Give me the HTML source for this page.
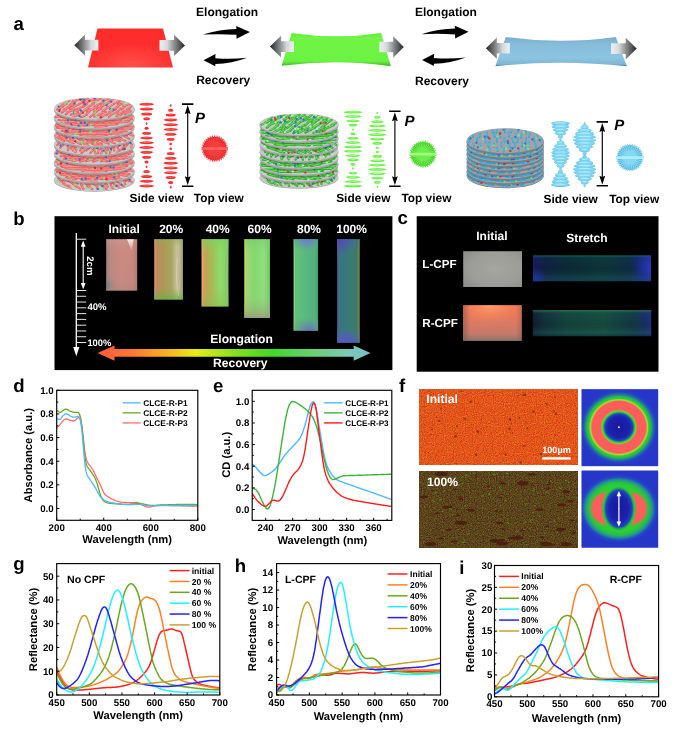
<!DOCTYPE html>
<html lang="en"><head><meta charset="utf-8"><title>Figure</title>
<style>html,body{margin:0;padding:0;background:#fff}body{width:681px;height:732px;overflow:hidden}svg text{white-space:pre;text-rendering:geometricPrecision}</style></head>
<body>
<svg width="681" height="732" viewBox="0 0 681 732" style="display:block">
<rect width="681" height="732" fill="#fff"/>
<radialGradient id="gRed" cx="0.5" cy="0.95" r="0.6"><stop offset="0" stop-color="#ff5048"/><stop offset="1" stop-color="#ff2c2c"/></radialGradient>
<path d="M97.5,28.6 L163,28.6 L173,67.4 L88,67.4Z" fill="url(#gRed)"/>
<linearGradient id="ga1" gradientUnits="userSpaceOnUse" x1="74.3" y1="0" x2="98.4" y2="0"><stop offset="0" stop-color="#222"/><stop offset="0.22" stop-color="#5c5c5c"/><stop offset="0.45" stop-color="#929496"/><stop offset="0.7" stop-color="#d6d8da"/><stop offset="1" stop-color="#eef2f4"/></linearGradient><path d="M74.3,45.2 L85,34.6 L85,39.8 L98.4,39.8 L98.4,50.6 L85,50.6 L85,55.8Z" fill="url(#ga1)"/>
<linearGradient id="ga2" gradientUnits="userSpaceOnUse" x1="185" y1="0" x2="159.5" y2="0"><stop offset="0" stop-color="#222"/><stop offset="0.22" stop-color="#5c5c5c"/><stop offset="0.45" stop-color="#929496"/><stop offset="0.7" stop-color="#d6d8da"/><stop offset="1" stop-color="#eef2f4"/></linearGradient><path d="M185,45.4 L174,34.8 L174,40 L159.5,40 L159.5,50.8 L174,50.8 L174,56Z" fill="url(#ga2)"/>
<linearGradient id="gGrn" x1="0" y1="0" x2="0" y2="1"><stop offset="0" stop-color="#63e83a"/><stop offset="0.15" stop-color="#70f545"/><stop offset="0.85" stop-color="#6cf242"/><stop offset="1" stop-color="#3fae22"/></linearGradient>
<path d="M291.7,32.9 Q336,39.8 381,32.9 L390.9,66.2 Q336,58.5 281.6,65.8Z" fill="url(#gGrn)"/>
<linearGradient id="ga3" gradientUnits="userSpaceOnUse" x1="269.9" y1="0" x2="294" y2="0"><stop offset="0" stop-color="#222"/><stop offset="0.22" stop-color="#5c5c5c"/><stop offset="0.45" stop-color="#929496"/><stop offset="0.7" stop-color="#d6d8da"/><stop offset="1" stop-color="#eef2f4"/></linearGradient><path d="M269.9,46.6 L281.1,35.8 L281.1,41.3 L294,41.3 L294,51.9 L281.1,51.9 L281.1,57.4Z" fill="url(#ga3)"/>
<linearGradient id="ga4" gradientUnits="userSpaceOnUse" x1="403.8" y1="0" x2="379.4" y2="0"><stop offset="0" stop-color="#222"/><stop offset="0.22" stop-color="#5c5c5c"/><stop offset="0.45" stop-color="#929496"/><stop offset="0.7" stop-color="#d6d8da"/><stop offset="1" stop-color="#eef2f4"/></linearGradient><path d="M403.8,47 L393.2,36.2 L393.2,41.7 L379.4,41.7 L379.4,52.3 L393.2,52.3 L393.2,57.8Z" fill="url(#ga4)"/>
<linearGradient id="gBlu" x1="0" y1="0" x2="0" y2="1"><stop offset="0" stop-color="#78acca"/><stop offset="0.25" stop-color="#86bcda"/><stop offset="0.7" stop-color="#8cc4e2"/><stop offset="0.93" stop-color="#7fb6d4"/><stop offset="1" stop-color="#3f6f86"/></linearGradient>
<path d="M505.8,36.9 Q560,44.6 615.8,36.9 L626.9,66.3 Q560,59.2 495.3,66.3Z" fill="url(#gBlu)"/>
<linearGradient id="ga5" gradientUnits="userSpaceOnUse" x1="485.9" y1="0" x2="509.8" y2="0"><stop offset="0" stop-color="#222"/><stop offset="0.22" stop-color="#5c5c5c"/><stop offset="0.45" stop-color="#929496"/><stop offset="0.7" stop-color="#d6d8da"/><stop offset="1" stop-color="#eef2f4"/></linearGradient><path d="M485.9,48.3 L496.9,37.5 L496.9,43 L509.8,43 L509.8,53.6 L496.9,53.6 L496.9,59.1Z" fill="url(#ga5)"/>
<linearGradient id="ga6" gradientUnits="userSpaceOnUse" x1="636.7" y1="0" x2="611.1" y2="0"><stop offset="0" stop-color="#222"/><stop offset="0.22" stop-color="#5c5c5c"/><stop offset="0.45" stop-color="#929496"/><stop offset="0.7" stop-color="#d6d8da"/><stop offset="1" stop-color="#eef2f4"/></linearGradient><path d="M636.7,48.6 L625.7,37.8 L625.7,43.3 L611.1,43.3 L611.1,53.9 L625.7,53.9 L625.7,59.4Z" fill="url(#ga6)"/>
<g transform="translate(0,0)" fill="#000"><path d="M202.7,34.6 Q220,29.2 236.4,28.9 L236.2,26.1 L249.9,32.1 L236.6,38.8 L236.4,34.8 Q220,33.6 202.7,34.6Z"/><path d="M247,57.7 Q232,59.6 215.3,58.3 L215.5,54.1 L203.5,60.3 L215.3,66.2 L215.3,64.0 Q232,63.6 247,57.7Z"/></g>
<g transform="translate(218.6,-0.3)" fill="#000"><path d="M202.7,34.6 Q220,29.2 236.4,28.9 L236.2,26.1 L249.9,32.1 L236.6,38.8 L236.4,34.8 Q220,33.6 202.7,34.6Z"/><path d="M247,57.7 Q232,59.6 215.3,58.3 L215.5,54.1 L203.5,60.3 L215.3,66.2 L215.3,64.0 Q232,63.6 247,57.7Z"/></g>
<g font-family="'Liberation Sans', Arial, sans-serif" font-weight="bold" font-size="12" fill="#000">
<text x="196.1" y="16.3">Elongation</text><text x="196.2" y="84.4">Recovery</text>
<text x="414.9" y="15.8">Elongation</text><text x="415" y="84.8">Recovery</text>
</g>
<clipPath id="sk1"><ellipse cx="94.3" cy="180" rx="39.7" ry="10.5"/></clipPath>
<ellipse cx="94.3" cy="180.7" rx="40.5" ry="11" fill="#a6a6a6"/>
<ellipse cx="94.3" cy="180" rx="40.5" ry="11" fill="#c9c9c9"/>
<g clip-path="url(#sk1)" fill="none" stroke-linecap="round">
<path d="M63.7,178.3l-4.1,-3.2M61.2,181.5l-2.6,-3.3M64.8,183.9l-2,-3.3M67.9,181l-5.2,-3.1M73,183.7l-4.7,-3.1M68.1,186.3l-5.1,-3.1M71,189l-1.9,-3.3M77.7,183.5l-3.4,-3.2M76.6,186.5l-4.4,-3.1M80.1,188.7l-4.6,-3.1M85.6,183.5l-3.5,-3.2M81.6,186l-0.6,-3.4M83.4,189.2l-1.3,-3.3M89.7,184.1l-0.7,-3.4M89.9,186.7l-3.3,-3.2M92.4,189.1l-5.2,-3.1M101.5,183.5l-4.8,-3.1M97.5,186.2l-5.3,-3M97.5,189.2l-1,-3.4M105.3,183.8l-1.7,-3.3M102.5,186.1l-4.8,-3.1M106.4,189.3l-2.8,-3.3M111,183.9l-0.7,-3.4M107.8,186.8l-2,-3.3M113.1,188.9l-2.1,-3.3M116.1,181l-2.2,-3.3M120.7,183.9l-4.8,-3.1M116.3,186.2l-3.2,-3.3M119.9,189.1l-1.8,-3.3M126.8,178.2l-3.1,-3.3M126,180.9l-4.8,-3.1M125.1,184.1l-0.7,-3.4M124,186.6l-4.4,-3.1M128.6,181.1l-1.2,-3.4M134,183.5l-4.6,-3.1" stroke="#ec6666" stroke-width="2.2"/>
<path d="M62.9,177.4l-2.4,-1.9M60.7,180.5l-1.6,-2M64.4,182.9l-1.2,-2M66.9,180.1l-3.1,-1.8M72,182.8l-2.8,-1.9M67,185.3l-3.1,-1.8M70.6,188l-1.1,-2M77,182.5l-2,-1.9M75.7,185.6l-2.6,-1.9M79.1,187.8l-2.8,-1.9M84.9,182.5l-2.1,-1.9M81.4,185l-0.4,-2M83.1,188.2l-0.8,-2M89.5,183.1l-0.4,-2M89.3,185.8l-2,-1.9M91.4,188.2l-3.1,-1.8M100.5,182.6l-2.9,-1.9M96.4,185.3l-3.2,-1.8M97.3,188.2l-0.6,-2M104.9,182.9l-1,-2M101.5,185.2l-2.9,-1.9M105.8,188.4l-1.7,-2M110.8,182.9l-0.4,-2M107.4,185.8l-1.2,-2M112.7,188l-1.3,-2M115.6,180l-1.3,-2M119.7,183l-2.9,-1.9M115.7,185.3l-1.9,-2M119.6,188.1l-1.1,-2M126.2,177.3l-1.8,-2M125,180l-2.9,-1.9M124.9,183.2l-0.4,-2M123.1,185.7l-2.7,-1.9M128.4,180.1l-0.7,-2M133,182.6l-2.7,-1.9" stroke="#f59a98" stroke-width="0.88"/>
<path d="M129.7,179.8h0M102.4,186.2h0M116.7,185.7h0M121.7,184.8h0M97.8,188.9h0" stroke="#3a6ec8" stroke-width="2.3"/>
<path d="M99.7,184.6h0M120.9,180.1h0M103.3,189h0M90.1,188.1h0M86.4,187.8h0M74.9,184.4h0M114.1,186.2h0M57.7,180.6h0" stroke="#7fe07f" stroke-width="2.3"/>
</g>
<clipPath id="sk2"><ellipse cx="94.3" cy="171.05" rx="39.7" ry="10.5"/></clipPath>
<ellipse cx="94.3" cy="174.25" rx="40" ry="11" fill="#000" opacity="0.16"/>
<ellipse cx="94.3" cy="172.55" rx="40.5" ry="11" fill="#a6a6a6"/>
<ellipse cx="94.3" cy="171.05" rx="40.5" ry="11" fill="#c9c9c9"/>
<g clip-path="url(#sk2)" fill="none" stroke-linecap="round">
<path d="M66.4,171.1l-11.2,-1.4M67.5,173.6l-10.6,-1.7M69.7,171.8l-9.3,-2.2M73.8,174.3l-9.2,-2.3M71.1,176.3l-10.6,-1.8M76,179.5l-9.9,-2M81.4,173.7l-10.7,-1.7M79.5,176.8l-10.3,-1.9M83.7,178.8l-11.2,-1.5M88.3,174.4l-9.3,-2.2M85.2,176.6l-9.2,-2.3M88.4,179.2l-10.7,-1.7M97,174.1l-10.2,-1.9M91.8,176.3l-10.5,-1.8M95.3,178.9l-10.1,-1.9M92.9,181.4l-11.1,-1.5M103.2,174.1l-10.6,-1.7M98.7,177.3l-8.6,-2.4M102.7,179.2l-11.2,-1.4M97.4,181.9l-8.7,-2.4M110.5,173.9l-9.3,-2.2M106.8,176.6l-9.7,-2.1M108,179.7l-8.7,-2.4M115.9,173.8l-10.8,-1.6M113.1,176.8l-9.5,-2.2M116.2,179.6l-10.1,-2M120.2,171.8l-10.8,-1.6M123.6,173.9l-10.3,-1.9M119.1,177l-8.5,-2.5M122.5,179.3l-8.9,-2.4M130.3,169.3l-9.2,-2.3M126.9,171.3l-11.1,-1.5M129.8,174.2l-9.6,-2.1M128.5,176.5l-10,-2M135.8,171.4l-11.3,-1.4" stroke="#ec6666" stroke-width="2.2"/>
<path d="M64.1,170.5l-6.7,-0.9M65.4,173l-6.4,-1M67.9,171l-5.6,-1.3M72,173.6l-5.5,-1.4M69,175.6l-6.3,-1.1M74,178.8l-6,-1.2M79.3,173l-6.4,-1M77.5,176.1l-6.2,-1.1M81.4,178.2l-6.7,-0.9M86.4,173.7l-5.6,-1.3M83.4,175.9l-5.5,-1.4M86.2,178.5l-6.4,-1M95,173.5l-6.1,-1.1M89.7,175.7l-6.3,-1.1M93.3,178.3l-6.1,-1.2M90.7,180.8l-6.7,-0.9M101.1,173.4l-6.4,-1M97,176.5l-5.2,-1.4M100.5,178.6l-6.7,-0.9M95.6,181.1l-5.2,-1.4M108.7,173.2l-5.6,-1.3M104.9,175.9l-5.8,-1.3M106.3,178.9l-5.2,-1.4M113.7,173.2l-6.5,-1M111.2,176l-5.7,-1.3M114.1,178.9l-6.1,-1.2M118.1,171.1l-6.5,-1M121.5,173.3l-6.2,-1.1M117.4,176.2l-5.1,-1.5M120.7,178.6l-5.3,-1.4M128.5,168.6l-5.5,-1.4M124.7,170.7l-6.6,-0.9M127.9,173.5l-5.8,-1.3M126.5,175.8l-6,-1.2M133.5,170.8l-6.8,-0.8" stroke="#f59a98" stroke-width="0.88"/>
<path d="M81.7,178.9h0M85.6,178.7h0M97.1,178h0M114.3,177.4h0" stroke="#3a6ec8" stroke-width="2.3"/>
<path d="M92.7,179.7h0M59.4,173.4h0M112.4,174h0M69.6,176.6h0M116.4,173.9h0M90.2,174.1h0M103.8,177.8h0" stroke="#7fe07f" stroke-width="2.3"/>
<path d="M106.4,179.2h0M60.1,172.9h0" stroke="#c53030" stroke-width="2.3"/>
</g>
<clipPath id="sk3"><ellipse cx="94.3" cy="162.1" rx="39.7" ry="10.5"/></clipPath>
<ellipse cx="94.3" cy="165.3" rx="40" ry="11" fill="#000" opacity="0.16"/>
<ellipse cx="94.3" cy="163.6" rx="40.5" ry="11" fill="#a6a6a6"/>
<ellipse cx="94.3" cy="162.1" rx="40.5" ry="11" fill="#c9c9c9"/>
<g clip-path="url(#sk3)" fill="none" stroke-linecap="round">
<path d="M69.1,158.8l-12.3,0.4M64.8,161.2l-12.2,0.6M70,164.5l-12.4,-0.1M71.8,160.8l-12.1,0.8M77.2,163.5l-12,0.8M73.4,167.1l-12.4,-0.3M77.3,169.4l-12.3,-0.3M83.2,164.3l-12.4,0.2M79.7,166.8l-12.4,0.2M81.9,168.9l-12.3,0.3M88.5,163.9l-12.3,0.5M85.8,166.7l-12.4,0.1M89.8,168.8l-12.2,0.6M96.1,163.9l-12.1,0.8M94.7,166.8l-12.4,0.1M96.6,169.6l-12.4,0M94.4,171.6l-12.3,0.4M103.6,164.1l-12.3,0.5M101.8,166.7l-12.4,0.1M102.9,169.5l-12.4,-0.1M99.4,171.6l-12.4,0.1M109.9,163.7l-12.3,0.5M106.2,166.7l-12.3,0.3M109.9,169.5l-12.3,-0.4M106.6,172l-12.3,-0.4M118.1,164.2l-12.2,0.6M114.8,166.9l-12.2,0.6M118.1,169.3l-12.3,0.5M121.6,161.8l-12.4,-0.1M123.8,163.9l-12.3,0.5M120.2,167.3l-12.4,-0.2M125.5,169l-12.4,0.1M130.5,159l-12.3,0.4M127.3,161.4l-12.4,0.2M132.3,163.5l-12.2,0.6M127.3,166.1l-12,0.8M134.5,161.6l-12.3,0.3" stroke="#ec6666" stroke-width="2.2"/>
<path d="M66.7,158.6l-7.4,0.3M62.4,161l-7.3,0.4M67.5,164.2l-7.4,-0.1M69.4,160.7l-7.3,0.5M74.8,163.4l-7.2,0.5M70.9,166.8l-7.4,-0.2M74.8,169l-7.4,-0.2M80.7,164.1l-7.4,0.1M77.3,166.6l-7.4,0.1M79.4,168.7l-7.4,0.2M86.1,163.7l-7.4,0.3M83.3,166.4l-7.4,0.1M87.3,168.6l-7.3,0.4M93.7,163.8l-7.2,0.5M92.3,166.6l-7.4,0.1M94.1,169.3l-7.4,0M91.9,171.4l-7.4,0.2M101.1,163.9l-7.4,0.3M99.3,166.4l-7.4,0.1M100.4,169.1l-7.4,-0M96.9,171.3l-7.4,0.1M107.5,163.5l-7.4,0.3M103.7,166.5l-7.4,0.2M107.5,169.1l-7.4,-0.2M104.1,171.6l-7.4,-0.2M115.6,164l-7.3,0.4M112.4,166.7l-7.3,0.4M115.6,169.1l-7.4,0.3M119.1,161.5l-7.4,-0.1M121.4,163.7l-7.4,0.3M117.8,166.9l-7.4,-0.1M123,168.7l-7.4,0.1M128.1,158.8l-7.4,0.2M124.8,161.1l-7.4,0.1M129.8,163.4l-7.3,0.4M124.9,166l-7.2,0.5M132,161.3l-7.4,0.2" stroke="#f59a98" stroke-width="0.88"/>
<path d="M62.9,159.2h0M113.5,167.5h0M126.6,162.2h0M67.1,163h0M110.5,166.9h0" stroke="#3a6ec8" stroke-width="2.3"/>
<path d="M120.6,164.4h0M116.7,162.9h0M58.6,161.9h0M104.9,163h0M121.4,163.6h0" stroke="#7fe07f" stroke-width="2.3"/>
<path d="M101.2,168.6h0M60.9,163.5h0M95,168h0" stroke="#c53030" stroke-width="2.3"/>
</g>
<clipPath id="sk4"><ellipse cx="94.3" cy="153.15" rx="39.7" ry="10.5"/></clipPath>
<ellipse cx="94.3" cy="156.35" rx="40" ry="11" fill="#000" opacity="0.16"/>
<ellipse cx="94.3" cy="154.65" rx="40.5" ry="11" fill="#a6a6a6"/>
<ellipse cx="94.3" cy="153.15" rx="40.5" ry="11" fill="#c9c9c9"/>
<g clip-path="url(#sk4)" fill="none" stroke-linecap="round">
<path d="M66.7,149.1l-10.1,1.9M63.8,151.5l-10.3,1.9M67.8,153.7l-7.2,2.7M71.4,151.3l-10.4,1.8M72.8,154.1l-8.3,2.5M71.7,156.5l-8.2,2.5M73.9,159l-9.2,2.3M75.7,151.3l-7.5,2.7M80.1,153.9l-8.2,2.5M78.8,156.8l-8.5,2.5M80.7,159.2l-8.4,2.5M88.9,154.1l-8.7,2.4M84.5,156.6l-9.2,2.3M87.7,159.1l-7.6,2.7M95.9,154.3l-9.6,2.1M92.7,156.8l-10.4,1.8M94.7,159l-8.9,2.3M101.3,154l-9.9,2M98.6,156.9l-9.7,2.1M100.7,158.9l-7.5,2.7M110.2,153.9l-9.9,2M105.6,156.2l-7.2,2.7M110.5,159.2l-9.6,2.1M117.1,154.3l-8,2.6M112.6,156.7l-9.4,2.2M116.7,159.5l-10.4,1.8M123,154.4l-8.1,2.5M118,156.4l-7.2,2.7M124.9,151.2l-7.5,2.7M129.5,154l-9.5,2.2M126.7,157l-8.8,2.4M132.7,151.4l-7.7,2.6M132.3,156.6l-9,2.3" stroke="#ec6666" stroke-width="2.2"/>
<path d="M64.7,149.2l-6.1,1.2M61.7,151.5l-6.2,1.1M66.3,154l-4.3,1.6M69.3,151.4l-6.2,1.1M71.1,154.3l-5,1.5M70.1,156.8l-4.9,1.5M72.1,159.1l-5.5,1.4M74.2,151.5l-4.5,1.6M78.5,154.2l-4.9,1.5M77.1,157l-5.1,1.5M79,159.4l-5,1.5M87.2,154.2l-5.2,1.4M82.7,156.7l-5.5,1.4M86.1,159.3l-4.5,1.6M94,154.4l-5.8,1.3M90.6,156.8l-6.3,1.1M92.9,159.1l-5.4,1.4M99.3,154.1l-5.9,1.2M96.6,157l-5.8,1.3M99.2,159.1l-4.5,1.6M108.3,154l-5.9,1.2M104.2,156.4l-4.3,1.6M108.6,159.3l-5.8,1.3M115.5,154.5l-4.8,1.5M110.7,156.9l-5.6,1.3M114.6,159.6l-6.2,1.1M121.3,154.6l-4.9,1.5M116.5,156.6l-4.3,1.6M123.4,151.4l-4.5,1.6M127.6,154.1l-5.7,1.3M125,157.2l-5.3,1.4M131.1,151.6l-4.6,1.6M130.6,156.7l-5.4,1.4" stroke="#f59a98" stroke-width="0.88"/>
<path d="M109.7,161.1h0M56.8,153.5h0M65.9,158.7h0M79.6,159.5h0M106.2,157.3h0M124.1,151.3h0M96,154.3h0M69.2,154.4h0" stroke="#3a6ec8" stroke-width="2.3"/>
<path d="M99.5,160.2h0M92.8,156.5h0M73.8,160.2h0M89.9,159.4h0" stroke="#7fe07f" stroke-width="2.3"/>
<path d="M59.3,149.5h0" stroke="#c53030" stroke-width="2.3"/>
</g>
<clipPath id="sk5"><ellipse cx="94.3" cy="144.2" rx="39.7" ry="10.5"/></clipPath>
<ellipse cx="94.3" cy="147.4" rx="40" ry="11" fill="#000" opacity="0.16"/>
<ellipse cx="94.3" cy="145.7" rx="40.5" ry="11" fill="#a6a6a6"/>
<ellipse cx="94.3" cy="144.2" rx="40.5" ry="11" fill="#c9c9c9"/>
<g clip-path="url(#sk5)" fill="none" stroke-linecap="round">
<path d="M63,139.3l0.4,3.4M60.1,141.7l-2.9,3.3M63.3,144.4l-3.1,3.3M67.1,141.8l0.7,3.4M72.4,145l-2.2,3.3M67.8,147.1l0.1,3.4M75,142.4l-1.2,3.4M77.5,145l-2.8,3.3M71.8,147.3l1,3.4M76.3,149.8l-1.2,3.4M83.1,144.4l-0.4,3.4M82.3,147.4l-2.3,3.3M84.8,149.9l-3.4,3.2M92.1,144.3l-2.9,3.3M90,147.3l-3.5,3.2M93.4,149.7l-3.1,3.3M98.6,144.3l-1.1,3.4M94.1,146.9l0.4,3.4M98.8,149.8l-0.8,3.4M95.1,152.2l1.2,3.4M104.9,144.2l0.7,3.4M100.9,147l0.7,3.4M105.4,150.1l0.9,3.4M101.7,152.1l-1.2,3.4M114.8,145l-3.1,3.3M109.1,146.9l-1.5,3.3M110.9,149.8l-1,3.4M116.6,142.4l-3.5,3.2M117.7,144.7l0.2,3.4M114.2,147.3l-0,3.4M119.2,149.9l-2.6,3.3M127.1,139.8l-0,3.4M123.2,142l0.9,3.4M127.3,144.4l-2.9,3.3M123.2,147.5l-3.4,3.2M128.5,141.8l-1.3,3.3M131.9,144.5l-0.7,3.4" stroke="#ec6666" stroke-width="2.2"/>
<path d="M63.1,139.7l0.3,2M59.5,142.1l-1.7,2M62.7,144.7l-1.9,2M67.2,142.2l0.4,2M71.9,145.3l-1.3,2M67.8,147.5l0,2M74.8,142.8l-0.7,2M77,145.4l-1.7,2M72,147.6l0.6,2M76.1,150.2l-0.7,2M83,144.8l-0.2,2M81.9,147.8l-1.4,2M84.1,150.3l-2,1.9M91.5,144.7l-1.7,2M89.3,147.7l-2.1,1.9M92.8,150.1l-1.9,2M98.4,144.7l-0.6,2M94.2,147.3l0.3,2M98.7,150.1l-0.5,2M95.3,152.6l0.7,2M105.1,144.6l0.4,2M101,147.4l0.4,2M105.6,150.4l0.6,2M101.5,152.5l-0.7,2M114.2,145.3l-1.8,2M108.8,147.3l-0.9,2M110.7,150.2l-0.6,2M115.9,142.7l-2.1,1.9M117.7,145.1l0.1,2M114.2,147.6l-0,2M118.7,150.3l-1.6,2M127.1,140.2l-0,2M123.4,142.3l0.5,2M126.7,144.7l-1.7,2M122.5,147.9l-2.1,1.9M128.3,142.2l-0.8,2M131.8,144.8l-0.4,2" stroke="#f59a98" stroke-width="0.88"/>
<path d="M111.1,149.2h0M130.5,143.2h0M60.6,145.5h0M103.6,150.7h0M97.1,147.9h0M123.1,149.4h0M62.3,141.3h0M68.5,144.5h0M61.5,141h0" stroke="#3a6ec8" stroke-width="2.3"/>
<path d="M107.6,151.8h0M95.2,149.6h0" stroke="#7fe07f" stroke-width="2.3"/>
<path d="M119.5,145.2h0M124.8,149.1h0" stroke="#c53030" stroke-width="2.3"/>
</g>
<clipPath id="sk6"><ellipse cx="94.3" cy="135.25" rx="39.7" ry="10.5"/></clipPath>
<ellipse cx="94.3" cy="138.45" rx="40" ry="11" fill="#000" opacity="0.16"/>
<ellipse cx="94.3" cy="136.75" rx="40.5" ry="11" fill="#a6a6a6"/>
<ellipse cx="94.3" cy="135.25" rx="40.5" ry="11" fill="#c9c9c9"/>
<g clip-path="url(#sk6)" fill="none" stroke-linecap="round">
<path d="M54.6,135.6l5,3.1M58.4,131l6.2,2.9M56.6,133.3l5.9,3M59.3,135.9l6.3,2.9M57.5,138.4l6.5,2.9M62.2,133.2l6.4,2.9M64.9,136.2l8.6,2.4M61.7,138.7l7.9,2.6M68.1,140.9l5.7,3M70.2,133.6l5.9,3M74.9,135.7l6.5,2.9M70.1,138.7l5.8,3M75.2,141.4l5.6,3M80.6,136l4.9,3.1M77.3,138.2l5.9,3M80.5,141l7,2.8M87.9,135.8l7.9,2.6M85.2,138.2l6.7,2.8M87.1,140.8l5.6,3M83,143.3l6.2,2.9M92.8,136.1l8,2.6M92,138.6l5.9,3M93.2,141.4l8.7,2.4M92.4,143.7l6.5,2.9M103.1,135.8l4.9,3.1M96.4,138.8l8.4,2.5M101.9,141l6.7,2.8M97.6,143.6l6.4,2.9M108.8,136l6.8,2.8M105.4,138.5l7,2.8M109.3,140.8l5.7,3M114.1,132.9l5.1,3.1M114.5,135.7l6.8,2.8M112.1,138.7l7.7,2.6M122.2,130.8l8.6,2.4M119.2,133.5l7.7,2.6M124.3,136l5.2,3.1M118.4,138.3l7.2,2.7M127.2,133.2l6.7,2.8" stroke="#ec6666" stroke-width="2.2"/>
<path d="M55.6,135.9l3,1.9M59.6,131.3l3.7,1.8M57.8,133.6l3.6,1.8M60.6,136.2l3.8,1.7M58.8,138.7l3.9,1.7M63.5,133.4l3.9,1.7M66.6,136.3l5.2,1.5M63.2,138.9l4.7,1.6M69.3,141.2l3.4,1.8M71.3,133.9l3.5,1.8M76.2,136l3.9,1.7M71.2,139l3.5,1.8M76.3,141.7l3.3,1.8M81.6,136.3l2.9,1.9M78.5,138.5l3.5,1.8M81.9,141.3l4.2,1.7M89.5,136.1l4.7,1.6M86.6,138.5l4,1.7M88.2,141.1l3.3,1.8M84.2,143.6l3.7,1.8M94.4,136.3l4.8,1.5M93.2,138.9l3.6,1.8M94.9,141.5l5.2,1.4M93.7,144l3.9,1.7M104,136.1l2.9,1.9M98.1,138.9l5.1,1.5M103.2,141.3l4,1.7M98.9,143.9l3.9,1.7M110.1,136.2l4.1,1.7M106.8,138.7l4.2,1.7M110.5,141.1l3.4,1.8M115.1,133.2l3,1.8M115.8,136l4.1,1.7M113.6,138.9l4.6,1.6M123.9,131l5.2,1.4M120.7,133.7l4.6,1.6M125.3,136.3l3.1,1.8M119.9,138.5l4.3,1.6M128.5,133.5l4,1.7" stroke="#f59a98" stroke-width="0.88"/>
<path d="M82.9,136.6h0M116.7,135.8h0M112.9,135.5h0M73,137.4h0M73,136.8h0M66.7,137.9h0M107.1,140.7h0" stroke="#3a6ec8" stroke-width="2.3"/>
<path d="M80.9,141.9h0M95,142.5h0M84,138.8h0M82.2,142.8h0M82.5,142.2h0" stroke="#7fe07f" stroke-width="2.3"/>
<path d="M75.2,141.2h0" stroke="#c53030" stroke-width="2.3"/>
</g>
<clipPath id="sk7"><ellipse cx="94.3" cy="126.3" rx="39.7" ry="10.5"/></clipPath>
<ellipse cx="94.3" cy="129.5" rx="40" ry="11" fill="#000" opacity="0.16"/>
<ellipse cx="94.3" cy="127.8" rx="40.5" ry="11" fill="#a6a6a6"/>
<ellipse cx="94.3" cy="126.3" rx="40.5" ry="11" fill="#c9c9c9"/>
<g clip-path="url(#sk7)" fill="none" stroke-linecap="round">
<path d="M51.3,122.8l11.4,1.3M56.1,122.5l11.1,1.5M53.5,125.4l12.3,0.4M56.7,127.7l11.8,1.1M60.5,125.5l11.6,1.2M63.4,127.5l11.5,1.2M61.7,130.8l11.5,1.2M64.9,133.2l12.1,0.7M72.2,128.1l11.6,1.2M67.7,131.1l12.3,0.5M71,133l11.1,1.5M77.8,127.7l11.5,1.2M72.7,130.4l12.2,0.6M76.9,132.9l11.8,1M85.2,128.1l12.2,0.6M82.5,130.6l11.4,1.3M85.5,133.5l12.1,0.7M80.3,135.6l12.1,0.8M91.4,127.8l11.1,1.5M87.7,130.2l11.4,1.3M91.5,132.5l11.1,1.5M87.3,135.7l11.8,1M98.7,128.2l11.8,1M96,131l12.2,0.6M99.4,133.6l12.3,0.5M94.5,135.7l12.3,0.3M107.5,127.4l11.4,1.3M101.8,130.1l11.6,1.2M107.3,132.7l11.7,1.1M110.4,125.6l12.2,0.7M112.2,127.5l11.1,1.5M109.9,131.1l12.3,0.4M114.5,132.9l11.6,1.2M120.1,122.6l12.2,0.6M116.6,125.2l11.9,1M119.9,128l12,0.8M115.6,130.1l11.2,1.4M123.4,125.3l11.1,1.5" stroke="#ec6666" stroke-width="2.2"/>
<path d="M53.6,122.8l6.8,0.8M58.3,122.5l6.7,0.9M56,125.1l7.4,0.3M59.1,127.6l7.1,0.6M62.8,125.4l7,0.7M65.7,127.5l6.9,0.7M64,130.7l6.9,0.7M67.3,133.1l7.3,0.4M74.5,128.1l6.9,0.7M70.1,130.8l7.4,0.3M73.3,133l6.7,0.9M80.1,127.7l6.9,0.7M75.1,130.2l7.3,0.3M79.3,132.8l7.1,0.6M87.7,128l7.3,0.3M84.8,130.5l6.8,0.8M87.9,133.3l7.3,0.4M82.8,135.5l7.2,0.5M93.6,127.8l6.6,0.9M90,130.1l6.9,0.8M93.8,132.5l6.6,0.9M89.7,135.6l7.1,0.6M101,128.1l7.1,0.6M98.4,130.9l7.3,0.4M101.9,133.4l7.4,0.3M97,135.5l7.4,0.2M109.8,127.3l6.9,0.8M104.1,130l6.9,0.7M109.6,132.6l7,0.7M112.9,125.4l7.3,0.4M114.4,127.5l6.7,0.9M112.4,130.9l7.4,0.2M116.8,132.8l6.9,0.7M122.5,122.4l7.3,0.4M119,125.1l7.1,0.6M122.3,127.9l7.2,0.5M117.8,130.1l6.7,0.9M125.6,125.3l6.6,0.9" stroke="#f59a98" stroke-width="0.88"/>
<path d="M80.1,131.6h0M116.7,130h0M109.1,130.8h0M67.5,131.4h0" stroke="#3a6ec8" stroke-width="2.3"/>
<path d="M111.3,132.2h0M90.6,130.7h0M91.5,131.8h0M90.1,132.7h0M75,134.1h0M76.6,133.5h0" stroke="#7fe07f" stroke-width="2.3"/>
<path d="M80.4,129h0M117.2,126h0M65.8,130.8h0" stroke="#c53030" stroke-width="2.3"/>
</g>
<clipPath id="sk8"><ellipse cx="94.3" cy="117.35" rx="39.7" ry="10.5"/></clipPath>
<ellipse cx="94.3" cy="120.55" rx="40" ry="11" fill="#000" opacity="0.16"/>
<ellipse cx="94.3" cy="118.85" rx="40.5" ry="11" fill="#a6a6a6"/>
<ellipse cx="94.3" cy="117.35" rx="40.5" ry="11" fill="#c9c9c9"/>
<g clip-path="url(#sk8)" fill="none" stroke-linecap="round">
<path d="M58,115.2l10.2,-1.9M53.9,117.2l11.5,-1.2M58.5,120.2l11.5,-1.2M60.2,117l12,-0.8M64.9,120.2l10.5,-1.8M61,122.8l11.1,-1.5M64.5,125l11.5,-1.3M68.6,117.3l11.9,-0.9M71.9,119.9l11.7,-1.1M67.2,122.4l11.5,-1.3M71.5,125.3l11.8,-1M79.4,119.7l11.8,-1.1M76.5,122.9l10.5,-1.8M78.2,125.6l11.4,-1.3M85.6,120.3l10.9,-1.6M80.9,122.7l12,-0.8M84.5,125.7l11.4,-1.3M91.4,120.5l10.9,-1.6M88.8,122.9l10.6,-1.7M93,125.2l12.1,-0.8M98.5,120.2l10.4,-1.9M96.8,122.9l10.1,-1.9M100.8,125.4l10.4,-1.8M94.9,127.5l11.8,-1.1M104.8,120.3l11.9,-0.9M103.1,122.9l10.3,-1.9M105.3,124.9l12.1,-0.8M110,117.2l11.2,-1.4M113.4,120.5l10.6,-1.7M109.3,122.8l12,-0.9M120.1,115.4l10.6,-1.8M115.4,117.3l12,-0.9M120.1,120.1l12,-0.9M117.7,122.6l11.9,-0.9M124.5,117.2l11.4,-1.4" stroke="#ec6666" stroke-width="2.2"/>
<path d="M60,114.5l6.1,-1.2M56.3,116.6l6.9,-0.7M60.8,119.6l6.9,-0.7M62.6,116.6l7.2,-0.5M67,119.5l6.3,-1.1M63.2,122.2l6.6,-0.9M66.8,124.5l6.9,-0.8M71,116.8l7.2,-0.5M74.2,119.4l7,-0.7M69.5,121.8l6.9,-0.8M73.8,124.8l7.1,-0.6M81.7,119.2l7.1,-0.6M78.6,122.2l6.3,-1.1M80.5,125.1l6.8,-0.8M87.7,119.6l6.5,-1M83.3,122.2l7.2,-0.5M86.8,125.2l6.9,-0.8M93.5,119.8l6.6,-1M90.9,122.3l6.4,-1M95.4,124.8l7.2,-0.5M100.5,119.6l6.2,-1.1M98.8,122.2l6.1,-1.2M102.9,124.7l6.2,-1.1M97.2,127l7.1,-0.6M107.2,119.8l7.1,-0.6M105.2,122.3l6.2,-1.1M107.8,124.5l7.2,-0.5M112.3,116.6l6.7,-0.9M115.5,119.9l6.4,-1M111.7,122.3l7.2,-0.5M122.2,114.7l6.3,-1.1M117.8,116.8l7.2,-0.5M122.5,119.7l7.2,-0.5M120.1,122.1l7.1,-0.6M126.8,116.6l6.8,-0.8" stroke="#f59a98" stroke-width="0.88"/>
<path d="M87.2,125.1h0M71.3,124.2h0M81,122.9h0M75.6,119.8h0M67.9,120.3h0M84.8,123h0M78.7,125.7h0" stroke="#3a6ec8" stroke-width="2.3"/>
<path d="M90.9,124.7h0M78,122.1h0M63.5,122.1h0M86.6,121.8h0M130,114.4h0M123.3,120.6h0" stroke="#7fe07f" stroke-width="2.3"/>
</g>
<clipPath id="sk9"><ellipse cx="94.3" cy="108.4" rx="39.7" ry="10.5"/></clipPath>
<ellipse cx="94.3" cy="111.6" rx="40" ry="11" fill="#000" opacity="0.16"/>
<ellipse cx="94.3" cy="109.9" rx="40.5" ry="11" fill="#a6a6a6"/>
<ellipse cx="94.3" cy="108.4" rx="40.5" ry="11" fill="#c9c9c9"/>
<g clip-path="url(#sk9)" fill="none" stroke-linecap="round">
<path d="M60.5,106.6l6.3,-2.9M57.2,109.5l6,-2.9M61.7,112.5l4.6,-3.1M67.9,101.8l3.2,-3.3M62.4,104.6l5.2,-3.1M67.7,107l6.1,-2.9M63.8,109.6l6.2,-2.9M67.3,112.2l7.5,-2.7M65.7,114.6l3.3,-3.2M72.5,101.6l7.2,-2.7M70,104.6l5.1,-3.1M72.1,106.9l7.5,-2.7M69.8,109.1l5.8,-3M74,112.4l5.5,-3M70.8,114.8l7.4,-2.7M72.5,117.4l6.3,-2.9M82.5,101.3l5.3,-3M78.6,104.2l5.8,-3M83,107.1l4.1,-3.2M76.8,109.2l6.4,-2.9M81.7,111.6l7,-2.8M79.1,115.1l3.2,-3.3M81.1,117.5l6,-2.9M88.5,101.6l6.9,-2.8M83.8,104.2l4.8,-3.1M88.8,106.8l5.1,-3.1M85.6,109.3l4,-3.2M86.9,111.6l7,-2.8M85.8,114.7l3.9,-3.2M89.9,117.1l4.2,-3.2M94.5,101.3l6.7,-2.8M92.1,104l3.7,-3.2M94.6,106.8l5.3,-3M90.7,109.6l6.9,-2.8M94.1,111.6l7.3,-2.7M92.7,114.6l4.3,-3.2M94.2,116.7l7.2,-2.7M102.5,101.3l6.5,-2.9M100.9,104l3.6,-3.2M100.7,106.5l7,-2.8M97.1,109.3l5.7,-3M102.4,111.7l3.6,-3.2M98.8,114.6l7,-2.8M100.3,117.1l6.8,-2.8M98.5,119.7l4.2,-3.2M108.7,101.8l5.4,-3M104.2,104.4l7.3,-2.7M108.3,107.1l5.6,-3M105.7,109.1l5,-3.1M108.9,112.2l7.1,-2.8M106.7,115l3.6,-3.2M108.8,117l3.6,-3.2M116.9,101.9l5.7,-3M113.2,104.1l5.7,-3M116.4,106.9l5.6,-3M112.1,109.7l6.2,-2.9M117.6,111.8l3.2,-3.3M110.5,114.7l6.9,-2.8M116.2,116.8l6.2,-2.9M117.9,103.8l6.6,-2.9M123.3,106.4l7.4,-2.7M122,109.5l3.3,-3.2M123.8,112l5.8,-3M117.5,114.5l6.6,-2.9M126.8,109.4l4.6,-3.1M125.1,114.3l5.5,-3" stroke="#ec6666" stroke-width="2.2"/>
<path d="M61.8,105.8l3.8,-1.7M58.4,108.6l3.6,-1.8M62.6,111.5l2.8,-1.9M68.5,100.8l1.9,-2M63.5,103.7l3.1,-1.8M68.9,106.1l3.6,-1.8M65.1,108.7l3.7,-1.8M68.8,111.3l4.5,-1.6M66.4,113.7l2,-1.9M73.9,100.8l4.3,-1.6M71,103.7l3.1,-1.8M73.6,106.1l4.5,-1.6M71,108.2l3.5,-1.8M75.1,111.5l3.3,-1.8M72.3,114l4.4,-1.6M73.7,116.5l3.8,-1.7M83.6,100.3l3.2,-1.8M79.8,103.3l3.5,-1.8M83.8,106.2l2.5,-1.9M78.1,108.3l3.8,-1.7M83.1,110.7l4.2,-1.7M79.7,114.1l1.9,-2M82.3,116.6l3.6,-1.8M89.9,100.8l4.2,-1.7M84.8,103.3l2.9,-1.9M89.9,105.9l3.1,-1.8M86.4,108.4l2.4,-1.9M88.2,110.7l4.2,-1.7M86.6,113.8l2.3,-1.9M90.7,116.2l2.5,-1.9M95.9,100.5l4,-1.7M92.8,103l2.2,-1.9M95.7,105.9l3.2,-1.8M92.1,108.8l4.2,-1.7M95.6,110.7l4.4,-1.6M93.6,113.6l2.6,-1.9M95.6,115.9l4.3,-1.6M103.8,100.4l3.9,-1.7M101.6,103l2.2,-1.9M102.1,105.6l4.2,-1.7M98.3,108.4l3.4,-1.8M103.1,110.8l2.2,-1.9M100.2,113.8l4.2,-1.7M101.7,116.3l4.1,-1.7M99.4,118.8l2.5,-1.9M109.8,100.9l3.3,-1.8M105.6,103.5l4.4,-1.6M109.4,106.2l3.3,-1.8M106.7,108.2l3,-1.8M110.4,111.3l4.3,-1.7M107.4,114l2.2,-1.9M109.5,116.1l2.1,-1.9M118.1,101l3.4,-1.8M114.3,103.2l3.4,-1.8M117.5,106l3.4,-1.8M113.4,108.8l3.7,-1.8M118.2,110.9l1.9,-2M111.9,113.9l4.1,-1.7M117.4,115.9l3.7,-1.8M119.3,103l3.9,-1.7M124.8,105.6l4.5,-1.6M122.7,108.6l2,-1.9M124.9,111.1l3.5,-1.8M118.8,113.6l3.9,-1.7M127.7,108.5l2.8,-1.9M126.2,113.4l3.3,-1.8" stroke="#f59a98" stroke-width="0.88"/>
<path d="M103.4,100.6h0M58.6,106.7h0M113.5,109.8h0M110.3,109.2h0M94.4,98.3h0M81.8,99h0M85,104.4h0M74,112.4h0M84.3,99.7h0M79.6,116.2h0M110.9,101.6h0M74.6,103.4h0M106.6,105.4h0M80.8,110.5h0M80.6,99.4h0" stroke="#3a6ec8" stroke-width="2.3"/>
<path d="M65.5,103h0M66.8,102.5h0M96.1,116.3h0M96,102.2h0M105.1,102.7h0M74.9,112.3h0M111.3,109.7h0M66.9,101.2h0M122.5,102.3h0M115.5,114.6h0M95.2,112.3h0M124.3,104.7h0" stroke="#7fe07f" stroke-width="2.3"/>
<path d="M89.4,100.7h0M59.8,110.1h0M80.2,99.5h0M82.9,112.8h0M83.5,102.4h0M101,117.6h0M59.3,111h0" stroke="#c53030" stroke-width="2.3"/>
</g>
<ellipse cx="146.6" cy="104.3" rx="7.4" ry="1.5" fill="#f53030"/>
<ellipse cx="146.6" cy="104" rx="4.44" ry="0.45" fill="#fb6460"/>
<ellipse cx="146.6" cy="109.11" rx="6.9" ry="1.5" fill="#f53030"/>
<ellipse cx="146.6" cy="108.81" rx="4.14" ry="0.45" fill="#fb6460"/>
<ellipse cx="146.6" cy="113.91" rx="5.47" ry="1.5" fill="#f53030"/>
<ellipse cx="146.6" cy="113.61" rx="3.28" ry="0.45" fill="#fb6460"/>
<ellipse cx="146.6" cy="118.72" rx="3.3" ry="1.5" fill="#f53030"/>
<ellipse cx="146.6" cy="118.42" rx="1.98" ry="0.45" fill="#fb6460"/>
<ellipse cx="146.6" cy="123.52" rx="0.9" ry="1.2" fill="#f53030"/>
<ellipse cx="146.6" cy="128.33" rx="2.03" ry="1.5" fill="#f53030"/>
<ellipse cx="146.6" cy="133.14" rx="4.46" ry="1.5" fill="#f53030"/>
<ellipse cx="146.6" cy="132.84" rx="2.68" ry="0.45" fill="#fb6460"/>
<ellipse cx="146.6" cy="137.94" rx="6.29" ry="1.5" fill="#f53030"/>
<ellipse cx="146.6" cy="137.64" rx="3.77" ry="0.45" fill="#fb6460"/>
<ellipse cx="146.6" cy="142.75" rx="7.27" ry="1.5" fill="#f53030"/>
<ellipse cx="146.6" cy="142.45" rx="4.36" ry="0.45" fill="#fb6460"/>
<ellipse cx="146.6" cy="147.55" rx="7.27" ry="1.5" fill="#f53030"/>
<ellipse cx="146.6" cy="147.25" rx="4.36" ry="0.45" fill="#fb6460"/>
<ellipse cx="146.6" cy="152.36" rx="6.29" ry="1.5" fill="#f53030"/>
<ellipse cx="146.6" cy="152.06" rx="3.77" ry="0.45" fill="#fb6460"/>
<ellipse cx="146.6" cy="157.16" rx="4.46" ry="1.5" fill="#f53030"/>
<ellipse cx="146.6" cy="156.86" rx="2.68" ry="0.45" fill="#fb6460"/>
<ellipse cx="146.6" cy="161.97" rx="2.03" ry="1.5" fill="#f53030"/>
<ellipse cx="146.6" cy="166.78" rx="0.9" ry="1.2" fill="#f53030"/>
<ellipse cx="146.6" cy="171.58" rx="3.3" ry="1.5" fill="#f53030"/>
<ellipse cx="146.6" cy="171.28" rx="1.98" ry="0.45" fill="#fb6460"/>
<ellipse cx="146.6" cy="176.39" rx="5.47" ry="1.5" fill="#f53030"/>
<ellipse cx="146.6" cy="176.09" rx="3.28" ry="0.45" fill="#fb6460"/>
<ellipse cx="146.6" cy="181.19" rx="6.9" ry="1.5" fill="#f53030"/>
<ellipse cx="146.6" cy="180.89" rx="4.14" ry="0.45" fill="#fb6460"/>
<ellipse cx="146.6" cy="186" rx="7.4" ry="1.5" fill="#f53030"/>
<ellipse cx="146.6" cy="185.7" rx="4.44" ry="0.45" fill="#fb6460"/>
<ellipse cx="170.7" cy="105.5" rx="0.9" ry="1.2" fill="#f53030"/>
<ellipse cx="170.7" cy="110.31" rx="2.67" ry="1.5" fill="#f53030"/>
<ellipse cx="170.7" cy="115.11" rx="4.99" ry="1.5" fill="#f53030"/>
<ellipse cx="170.7" cy="114.81" rx="2.99" ry="0.45" fill="#fb6460"/>
<ellipse cx="170.7" cy="119.92" rx="6.62" ry="1.5" fill="#f53030"/>
<ellipse cx="170.7" cy="119.62" rx="3.97" ry="0.45" fill="#fb6460"/>
<ellipse cx="170.7" cy="124.72" rx="7.37" ry="1.5" fill="#f53030"/>
<ellipse cx="170.7" cy="124.42" rx="4.42" ry="0.45" fill="#fb6460"/>
<ellipse cx="170.7" cy="129.53" rx="7.12" ry="1.5" fill="#f53030"/>
<ellipse cx="170.7" cy="129.23" rx="4.27" ry="0.45" fill="#fb6460"/>
<ellipse cx="170.7" cy="134.34" rx="5.91" ry="1.5" fill="#f53030"/>
<ellipse cx="170.7" cy="134.04" rx="3.54" ry="0.45" fill="#fb6460"/>
<ellipse cx="170.7" cy="139.14" rx="3.9" ry="1.5" fill="#f53030"/>
<ellipse cx="170.7" cy="138.84" rx="2.34" ry="0.45" fill="#fb6460"/>
<ellipse cx="170.7" cy="143.95" rx="1.36" ry="1.2" fill="#f53030"/>
<ellipse cx="170.7" cy="148.75" rx="1.36" ry="1.2" fill="#f53030"/>
<ellipse cx="170.7" cy="153.56" rx="3.9" ry="1.5" fill="#f53030"/>
<ellipse cx="170.7" cy="153.26" rx="2.34" ry="0.45" fill="#fb6460"/>
<ellipse cx="170.7" cy="158.36" rx="5.91" ry="1.5" fill="#f53030"/>
<ellipse cx="170.7" cy="158.06" rx="3.54" ry="0.45" fill="#fb6460"/>
<ellipse cx="170.7" cy="163.17" rx="7.12" ry="1.5" fill="#f53030"/>
<ellipse cx="170.7" cy="162.87" rx="4.27" ry="0.45" fill="#fb6460"/>
<ellipse cx="170.7" cy="167.98" rx="7.37" ry="1.5" fill="#f53030"/>
<ellipse cx="170.7" cy="167.68" rx="4.42" ry="0.45" fill="#fb6460"/>
<ellipse cx="170.7" cy="172.78" rx="6.62" ry="1.5" fill="#f53030"/>
<ellipse cx="170.7" cy="172.48" rx="3.97" ry="0.45" fill="#fb6460"/>
<ellipse cx="170.7" cy="177.59" rx="4.99" ry="1.5" fill="#f53030"/>
<ellipse cx="170.7" cy="177.29" rx="2.99" ry="0.45" fill="#fb6460"/>
<ellipse cx="170.7" cy="182.39" rx="2.67" ry="1.5" fill="#f53030"/>
<ellipse cx="170.7" cy="187.2" rx="0.9" ry="1.2" fill="#f53030"/>
<path d="M182,104.1H193.4M182,186.3H193.4" stroke="#000" stroke-width="1.6" fill="none"/>
<path d="M187.7,110.1V180.3" stroke="#000" stroke-width="1.15" fill="none"/>
<path d="M187.7,105.1 L190.6,114.1 L187.7,112.9 L184.8,114.1Z" fill="#000"/>
<path d="M187.7,185.3 L190.6,176.3 L187.7,177.5 L184.8,176.3Z" fill="#000"/>
<text x="195" y="122.9" font-family="'Liberation Sans', Arial, sans-serif" font-weight="bold" font-style="italic" font-size="15" fill="#000">P</text>
<circle cx="214.7" cy="148.6" r="11.9" fill="#d42a2a"/>
<path d="M201.56,147.38L227.84,149.82M202,144.99L227.4,152.21M202.88,142.72L226.52,154.48M204.17,140.65L225.23,156.55M205.81,138.85L223.59,158.35M207.75,137.38L221.65,159.82M209.93,136.29L219.47,160.91M212.27,135.62L217.13,161.58M214.7,135.4L214.7,161.8M217.13,135.62L212.27,161.58M219.47,136.29L209.93,160.91M221.65,137.38L207.75,159.82M223.59,138.85L205.81,158.35M225.23,140.65L204.17,156.55M226.52,142.72L202.88,154.48M227.4,144.99L202,152.21M227.84,147.38L201.56,149.82" stroke="#f73e3e" stroke-width="1.15" fill="none"/>
<circle cx="214.7" cy="148.6" r="4.62" fill="#f73e3e"/>
<rect x="201.5" y="147.2" width="26.4" height="2.8" rx="1.4" fill="#ff625e"/>
<clipPath id="sk10"><ellipse cx="299" cy="177.32" rx="38.7" ry="10.3"/></clipPath>
<ellipse cx="299" cy="178.02" rx="39.5" ry="10.8" fill="#a4a4a4"/>
<ellipse cx="299" cy="177.32" rx="39.5" ry="10.8" fill="#c8c8c8"/>
<g clip-path="url(#sk10)" fill="none" stroke-linecap="round">
<path d="M267.5,178.1l-4.2,-3.2M269.7,181.1l-3.1,-3.3M276.3,181.4l-3.6,-3.2M271.8,183.9l-4.1,-3.2M277.8,186l-4.2,-3.2M282.4,180.8l-3.9,-3.2M280.3,183.2l-5.3,-3.1M281.6,186l-2.2,-3.3M285.6,183.7l-0.6,-3.4M289.1,186.1l-0.8,-3.4M292.7,183.5l-3.1,-3.3M297.2,186.2l-3.7,-3.2M298.8,183.7l-2.6,-3.3M304.2,186.1l-3.4,-3.3M308.5,183.5l-3.1,-3.3M311.7,186.7l-4.4,-3.2M318.4,181.2l-2.7,-3.3M314.7,183.4l-3.2,-3.3M318.4,186.6l-1,-3.4M324.9,181.3l-3.8,-3.2M321.6,184l-1.7,-3.4M329.7,178.1l-3.5,-3.2M332,180.9l-3.3,-3.3M329.5,183.4l-5.2,-3.1M334.2,178.3l-0.6,-3.4" stroke="#33b533" stroke-width="2.2"/>
<path d="M266.6,177.2l-2.5,-1.9M269.1,180.1l-1.9,-2M275.6,180.5l-2.2,-1.9M270.9,183l-2.4,-1.9M277,185.1l-2.5,-1.9M281.6,179.9l-2.3,-1.9M279.2,182.3l-3.2,-1.8M281.1,185l-1.3,-2M285.5,182.7l-0.4,-2M288.9,185.1l-0.5,-2M292.1,182.5l-1.9,-2M296.5,185.2l-2.2,-1.9M298.3,182.7l-1.5,-2M303.5,185.1l-2.1,-2M307.8,182.6l-1.9,-2M310.8,185.7l-2.7,-1.9M317.8,180.3l-1.6,-2M314,182.4l-1.9,-2M318.2,185.6l-0.6,-2M324.1,180.3l-2.3,-1.9M321.3,183.1l-1,-2M329,177.2l-2.1,-1.9M331.3,179.9l-2,-2M328.5,182.5l-3.1,-1.8M334.1,177.4l-0.4,-2" stroke="#7fe070" stroke-width="0.88"/>
<path d="M323.4,178.5h0M326.9,177.4h0M331.8,180.2h0M312.6,184.2h0" stroke="#3a6ec8" stroke-width="2.3"/>
<path d="M327.4,181.3h0M289.5,182h0M310.1,180.8h0M301.9,186.5h0" stroke="#b5f5b5" stroke-width="2.3"/>
<path d="M309.5,185.3h0M296.7,181.7h0M322.1,181.6h0M299.2,180.4h0M317.2,181.7h0" stroke="#d03535" stroke-width="2.3"/>
</g>
<clipPath id="sk11"><ellipse cx="299" cy="170.68" rx="38.7" ry="10.3"/></clipPath>
<ellipse cx="299" cy="173.88" rx="39" ry="10.8" fill="#000" opacity="0.16"/>
<ellipse cx="299" cy="172.18" rx="39.5" ry="10.8" fill="#a4a4a4"/>
<ellipse cx="299" cy="170.68" rx="39.5" ry="10.8" fill="#c8c8c8"/>
<g clip-path="url(#sk11)" fill="none" stroke-linecap="round">
<path d="M270,171.1l-10.7,-1.7M273,173.8l-8.9,-2.4M274.2,171.2l-9.3,-2.2M280.5,173.7l-10.7,-1.7M276.6,176.6l-8.8,-2.4M284.4,174.4l-8.6,-2.4M283.3,176.6l-10.5,-1.8M287.4,178.7l-9.9,-2M289.9,176l-11.2,-1.5M293.6,179.5l-8.8,-2.4M295.4,176.4l-8.6,-2.5M299.8,178.7l-10.7,-1.7M303.6,176.8l-10.1,-2M306.4,179.1l-10.6,-1.8M311.6,176.6l-9.2,-2.3M315.1,179.2l-11.1,-1.5M321.3,173.6l-9.8,-2.1M319,176.2l-10.4,-1.8M320.6,178.8l-10.9,-1.6M328.3,173.8l-10.1,-2M324.2,176.4l-10.9,-1.6M333.8,174.2l-9.5,-2.2M331.8,176.2l-10.7,-1.7M338.7,171.3l-10,-2" stroke="#33b533" stroke-width="2.2"/>
<path d="M267.9,170.4l-6.4,-1M271.3,173l-5.3,-1.4M272.3,170.5l-5.6,-1.3M278.4,173.1l-6.4,-1M274.8,175.8l-5.3,-1.4M282.7,173.6l-5.2,-1.5M281.2,175.9l-6.3,-1.1M285.5,178l-6,-1.2M287.6,175.4l-6.7,-0.9M291.8,178.7l-5.3,-1.4M293.7,175.7l-5.1,-1.5M297.7,178.1l-6.4,-1M301.6,176.1l-6.1,-1.2M304.3,178.4l-6.3,-1.1M309.8,175.9l-5.5,-1.4M312.9,178.6l-6.7,-0.9M319.4,172.9l-5.9,-1.2M316.9,175.6l-6.2,-1.1M318.4,178.2l-6.6,-1M326.3,173.1l-6.1,-1.2M322,175.8l-6.5,-1M331.9,173.4l-5.7,-1.3M329.7,175.6l-6.4,-1M336.7,170.6l-6,-1.2" stroke="#7fe070" stroke-width="0.88"/>
<path d="M281.5,177.5h0M330.2,170.8h0M309.4,174.4h0M319.7,173.5h0M278.7,174.5h0M327.1,173.3h0" stroke="#3a6ec8" stroke-width="2.3"/>
<path d="M327.5,175.4h0M270.9,171.7h0M284.5,174h0M308.4,179.3h0" stroke="#b5f5b5" stroke-width="2.3"/>
<path d="M301,176h0M332.9,172.2h0M318.6,175.1h0" stroke="#d03535" stroke-width="2.3"/>
</g>
<clipPath id="sk12"><ellipse cx="299" cy="164.04" rx="38.7" ry="10.3"/></clipPath>
<ellipse cx="299" cy="167.24" rx="39" ry="10.8" fill="#000" opacity="0.16"/>
<ellipse cx="299" cy="165.54" rx="39.5" ry="10.8" fill="#a4a4a4"/>
<ellipse cx="299" cy="164.04" rx="39.5" ry="10.8" fill="#c8c8c8"/>
<g clip-path="url(#sk12)" fill="none" stroke-linecap="round">
<path d="M271.5,163.9l-12.4,-0.2M272.7,165.9l-12.4,-0M280.9,166.2l-12.3,-0.3M275.6,168.8l-12.1,0.8M280.5,170.7l-12.1,0.7M288.9,166.2l-12.4,-0M285.6,168.7l-12.2,0.6M288.9,171.6l-12.3,0.3M291,168.5l-12.4,0.1M295.2,170.9l-12.3,0.5M296.7,168.8l-12.3,-0.4M301.8,171.4l-12.1,0.8M304.2,168.2l-12.2,0.6M307.9,171l-12.4,0.2M311.4,169l-12.4,-0.3M315.6,171.4l-12.4,0.2M321.5,166l-12.3,0.4M319.5,168.9l-12.2,0.6M323.3,170.8l-12.1,0.8M330.6,166.2l-12.3,-0.3M327.3,168.3l-12.2,0.6M334.3,163.7l-12.4,0.1M337.1,166.6l-12.3,-0.4M333.7,168.8l-12.4,0.1M339.5,163.9l-12.4,-0.2" stroke="#33b533" stroke-width="2.2"/>
<path d="M269,163.6l-7.4,-0.1M270.2,165.6l-7.4,-0M278.4,165.8l-7.4,-0.2M273.2,168.6l-7.3,0.5M278,170.6l-7.3,0.4M286.4,165.9l-7.4,-0M283.1,168.5l-7.3,0.4M286.4,171.4l-7.4,0.2M288.5,168.2l-7.4,0M292.7,170.7l-7.4,0.3M294.3,168.4l-7.4,-0.2M299.4,171.2l-7.2,0.5M301.8,168l-7.3,0.4M305.5,170.7l-7.4,0.1M308.9,168.7l-7.4,-0.2M313.1,171.1l-7.4,0.1M319,165.8l-7.4,0.2M317,168.7l-7.3,0.3M320.8,170.6l-7.2,0.5M328.2,165.8l-7.4,-0.2M324.8,168.1l-7.3,0.4M331.8,163.5l-7.4,0.1M334.6,166.3l-7.4,-0.2M331.2,168.5l-7.4,0.1M337,163.5l-7.4,-0.1" stroke="#7fe070" stroke-width="0.88"/>
<path d="M306.9,167.4h0M273.7,166.2h0M277.7,169.8h0M291,168.7h0M293.1,168.3h0M280.1,166.6h0M314.5,169.7h0" stroke="#3a6ec8" stroke-width="2.3"/>
<path d="M292.8,171.5h0M318.8,171.7h0M318.3,167.3h0" stroke="#b5f5b5" stroke-width="2.3"/>
<path d="M305.4,172.6h0M288,171.9h0M295.4,170.3h0" stroke="#d03535" stroke-width="2.3"/>
</g>
<clipPath id="sk13"><ellipse cx="299" cy="157.4" rx="38.7" ry="10.3"/></clipPath>
<ellipse cx="299" cy="160.6" rx="39" ry="10.8" fill="#000" opacity="0.16"/>
<ellipse cx="299" cy="158.9" rx="39.5" ry="10.8" fill="#a4a4a4"/>
<ellipse cx="299" cy="157.4" rx="39.5" ry="10.8" fill="#c8c8c8"/>
<g clip-path="url(#sk13)" fill="none" stroke-linecap="round">
<path d="M269.1,155.8l-9.6,2.1M270.6,158.1l-8.4,2.5M274.3,155.8l-9.4,2.2M278.2,158.3l-8,2.6M276.4,160.8l-8.6,2.4M286,158.7l-9.8,2.1M283.4,161l-9.6,2.1M285,163.8l-8.9,2.4M289,160.8l-8,2.6M293.8,163.3l-9,2.3M295,160.7l-7.9,2.6M299.1,163.7l-10,2M302.5,161.4l-9.8,2.1M306.3,163.5l-8.6,2.4M304.4,166l-9.3,2.2M309.6,161.4l-9.9,2.1M315,163.4l-8.5,2.5M320.9,157.9l-7.2,2.8M316.5,160.4l-7.3,2.7M320.8,164.1l-9.9,2.1M329.3,158.1l-8.9,2.4M324.5,161l-10.3,1.9M332,155.9l-8.4,2.5M334.5,158.4l-7.9,2.6M331.4,161.4l-10,2M338,155.6l-7.9,2.6" stroke="#33b533" stroke-width="2.2"/>
<path d="M267.2,156l-5.8,1.3M268.9,158.3l-5.1,1.5M272.4,156l-5.7,1.3M276.6,158.5l-4.8,1.6M274.7,161l-5.2,1.5M284.1,158.8l-5.9,1.2M281.5,161.1l-5.8,1.3M283.2,164l-5.3,1.4M287.4,161l-4.8,1.6M291.9,163.4l-5.4,1.4M293.4,161l-4.8,1.6M297.1,163.8l-6,1.2M300.5,161.5l-5.9,1.3M304.6,163.7l-5.2,1.5M302.6,166.1l-5.6,1.3M307.6,161.5l-5.9,1.2M313.3,163.6l-5.1,1.5M319.5,158.1l-4.3,1.7M315.1,160.7l-4.4,1.6M318.9,164.2l-5.9,1.2M327.5,158.3l-5.4,1.4M322.5,161.1l-6.2,1.1M330.3,156.1l-5.1,1.5M332.9,158.7l-4.7,1.6M329.4,161.5l-6,1.2M336.4,155.8l-4.8,1.6" stroke="#7fe070" stroke-width="0.88"/>
<path d="M297.5,163.1h0M294.9,165.9h0M314.1,162h0M264.2,157.2h0M295.1,163.6h0M276,164h0" stroke="#3a6ec8" stroke-width="2.3"/>
<path d="M306.6,161.2h0M303.2,160.5h0M283.6,160.9h0M302.9,165.4h0M326.8,162.7h0" stroke="#b5f5b5" stroke-width="2.3"/>
<path d="M321.6,161.4h0M307.3,160.3h0" stroke="#d03535" stroke-width="2.3"/>
</g>
<clipPath id="sk14"><ellipse cx="299" cy="150.76" rx="38.7" ry="10.3"/></clipPath>
<ellipse cx="299" cy="153.96" rx="39" ry="10.8" fill="#000" opacity="0.16"/>
<ellipse cx="299" cy="152.26" rx="39.5" ry="10.8" fill="#a4a4a4"/>
<ellipse cx="299" cy="150.76" rx="39.5" ry="10.8" fill="#c8c8c8"/>
<g clip-path="url(#sk14)" fill="none" stroke-linecap="round">
<path d="M265.7,148.8l-0.5,3.4M269.7,151.5l-2.7,3.3M275.4,151.4l-2.4,3.3M271.5,153.5l-0.3,3.4M284.2,151.6l-2.8,3.3M279.2,153.6l-3.6,3.2M281.1,156.5l0.6,3.4M285.6,154.1l-2.5,3.3M287.6,156.2l1.1,3.4M292.4,153.6l-1.9,3.3M298,156.3l-2.5,3.3M298.1,154.2l0.2,3.4M302,156.5l0.9,3.4M307.8,153.9l-2.1,3.3M310.5,156.3l-1.3,3.4M315.9,151.4l0.2,3.4M311.8,153.7l0.6,3.4M316.4,156.1l0.2,3.4M325,151.1l-0.9,3.4M318.5,154l0.4,3.4M328.7,150.9l0.6,3.4M327.2,154.1l-2.9,3.3M334.2,148.3l-2.2,3.3" stroke="#33b533" stroke-width="2.2"/>
<path d="M265.6,149.2l-0.3,2M269.1,151.9l-1.6,2M274.9,151.8l-1.4,2M271.4,153.8l-0.2,2M283.7,152l-1.7,2M278.4,154l-2.2,1.9M281.2,156.8l0.4,2M285.1,154.4l-1.5,2M287.8,156.6l0.7,2M292,154l-1.2,2M297.4,156.7l-1.5,2M298.2,154.6l0.1,2M302.2,156.9l0.6,2M307.3,154.3l-1.3,2M310.3,156.7l-0.8,2M315.9,151.8l0.1,2M311.9,154.1l0.4,2M316.5,156.4l0.1,2M324.9,151.5l-0.6,2M318.6,154.3l0.2,2M328.8,151.3l0.4,2M326.6,154.5l-1.7,2M333.7,148.7l-1.3,2" stroke="#7fe070" stroke-width="0.88"/>
<path d="M317.9,154.5h0M287.5,154.1h0M283.1,156.4h0M297.9,157.5h0" stroke="#3a6ec8" stroke-width="2.3"/>
<path d="M286,156.3h0M302.6,154.8h0M320.4,152.5h0M280.1,154.9h0M320.1,157.1h0M323.9,157.1h0M312.4,154.4h0" stroke="#b5f5b5" stroke-width="2.3"/>
<path d="M301,156.9h0M292.9,155.9h0" stroke="#d03535" stroke-width="2.3"/>
</g>
<clipPath id="sk15"><ellipse cx="299" cy="144.12" rx="38.7" ry="10.3"/></clipPath>
<ellipse cx="299" cy="147.32" rx="39" ry="10.8" fill="#000" opacity="0.16"/>
<ellipse cx="299" cy="145.62" rx="39.5" ry="10.8" fill="#a4a4a4"/>
<ellipse cx="299" cy="144.12" rx="39.5" ry="10.8" fill="#c8c8c8"/>
<g clip-path="url(#sk15)" fill="none" stroke-linecap="round">
<path d="M261.8,142.2l5.8,3M264.7,144.7l7.8,2.6M269.9,145.3l8.3,2.5M267.7,147.5l8.1,2.6M275.1,147.5l7.7,2.7M276.2,150.5l8.1,2.6M280.9,147.6l8.5,2.5M285,150l7.1,2.8M288.4,147l4.8,3.1M291.9,149.9l6,3M295.7,147l5.7,3M298.9,150.1l6.7,2.9M297.4,152.2l5.1,3.1M301.1,147.6l8.6,2.5M305.4,150.3l5.7,3M314,144.8l5.9,3M309.2,147.8l8.3,2.5M313.4,150.5l8.4,2.5M320.9,144.9l6.5,2.9M318.3,147.3l5.4,3.1M319.5,150.1l6.6,2.9M326.2,145.1l6.5,2.9M324,147.6l5.8,3M331.7,142.3l5.1,3.1" stroke="#33b533" stroke-width="2.2"/>
<path d="M263,142.5l3.5,1.8M266.3,145l4.7,1.6M271.6,145.5l5,1.5M269.4,147.7l4.8,1.5M276.6,147.7l4.6,1.6M277.8,150.7l4.9,1.5M282.6,147.8l5.1,1.5M286.4,150.3l4.3,1.7M289.4,147.3l2.9,1.9M293.1,150.2l3.6,1.8M296.9,147.3l3.4,1.8M300.2,150.4l4,1.7M298.5,152.5l3.1,1.9M302.8,147.8l5.1,1.5M306.6,150.6l3.4,1.8M315.1,145.1l3.5,1.8M310.9,148l5,1.5M315.1,150.7l5.1,1.5M322.2,145.2l3.9,1.7M319.4,147.7l3.2,1.8M320.8,150.3l3.9,1.7M327.5,145.4l3.9,1.7M325.2,147.9l3.5,1.8M332.7,142.7l3,1.9" stroke="#7fe070" stroke-width="0.88"/>
<path d="M310.1,148.3h0M330.2,146.2h0M325.9,147.8h0" stroke="#3a6ec8" stroke-width="2.3"/>
<path d="M281.2,149.4h0M309.4,149.6h0M320.3,145.8h0M264.8,146.2h0M333.6,144h0" stroke="#b5f5b5" stroke-width="2.3"/>
<path d="M277.5,148.4h0M315.8,151.2h0M288.5,153h0M295,148.8h0M294.4,152.4h0" stroke="#d03535" stroke-width="2.3"/>
</g>
<clipPath id="sk16"><ellipse cx="299" cy="137.48" rx="38.7" ry="10.3"/></clipPath>
<ellipse cx="299" cy="140.68" rx="39" ry="10.8" fill="#000" opacity="0.16"/>
<ellipse cx="299" cy="138.98" rx="39.5" ry="10.8" fill="#a4a4a4"/>
<ellipse cx="299" cy="137.48" rx="39.5" ry="10.8" fill="#c8c8c8"/>
<g clip-path="url(#sk16)" fill="none" stroke-linecap="round">
<path d="M259.4,136.3l11.8,1M262.3,139l12.3,0.5M265.8,136.8l11.7,1.1M267.8,139.1l11.4,1.3M266,141.9l12.3,0.5M275.3,139.1l11.1,1.5M272,142.4l12.3,0.4M274.6,144.8l11.9,1M279.1,142.3l12.2,0.6M282.9,144.7l12.3,0.5M285.9,141.8l12.2,0.6M290.4,144.3l12.3,0.3M291.5,142.2l12.3,0.3M297.7,144.3l11.4,1.3M299,141.3l11.2,1.4M303.8,144.7l12.4,0.3M311.6,139.4l12,0.9M308.3,142.2l12.2,0.6M310.3,144.5l11.7,1.1M318.6,138.6l11.2,1.5M313.9,141.9l11.6,1.2M326,138.8l11.1,1.5M321.5,141.9l11.8,1.1M329.4,136.3l11.6,1.2" stroke="#33b533" stroke-width="2.2"/>
<path d="M261.8,136.3l7.1,0.6M264.8,138.8l7.4,0.3M268.2,136.7l7,0.7M270.1,139.1l6.8,0.8M268.4,141.7l7.4,0.3M277.5,139.1l6.6,0.9M274.4,142.2l7.4,0.2M277,144.7l7.1,0.6M281.6,142.1l7.3,0.4M285.4,144.5l7.4,0.3M288.3,141.7l7.3,0.4M292.9,144.1l7.4,0.2M294,142l7.4,0.2M300,144.3l6.8,0.8M301.3,141.3l6.7,0.9M306.3,144.4l7.4,0.2M314,139.3l7.2,0.5M310.7,142l7.3,0.4M312.6,144.4l7,0.7M320.8,138.6l6.7,0.9M316.2,141.8l7,0.7M328.2,138.8l6.6,0.9M323.8,141.8l7.1,0.6M331.7,136.2l7,0.7" stroke="#7fe070" stroke-width="0.88"/>
<path d="M275.6,141.1h0M321.6,138.8h0M321.6,141.6h0M282.7,142.4h0M312.5,145.6h0M265.3,135.3h0M335.3,136.7h0" stroke="#3a6ec8" stroke-width="2.3"/>
<path d="M331,136.6h0M312.1,145.8h0M309.7,142h0M282.1,141.3h0M267.5,140.8h0M285.6,141.4h0" stroke="#b5f5b5" stroke-width="2.3"/>
</g>
<clipPath id="sk17"><ellipse cx="299" cy="130.84" rx="38.7" ry="10.3"/></clipPath>
<ellipse cx="299" cy="134.04" rx="39" ry="10.8" fill="#000" opacity="0.16"/>
<ellipse cx="299" cy="132.34" rx="39.5" ry="10.8" fill="#a4a4a4"/>
<ellipse cx="299" cy="130.84" rx="39.5" ry="10.8" fill="#c8c8c8"/>
<g clip-path="url(#sk17)" fill="none" stroke-linecap="round">
<path d="M257.8,130.5l11.7,-1.1M260.9,133.3l11.9,-0.9M268.8,134.1l10.4,-1.8M265.9,135.9l11.6,-1.2M273.6,136.4l11.8,-1.1M276.6,139.1l11.3,-1.4M279.6,135.8l11.6,-1.2M282,138.9l11.6,-1.2M286.8,136.5l11.1,-1.5M289.8,138.4l11.8,-1M292.6,135.9l11.9,-0.9M296,138.8l12,-0.8M299.2,136.1l11.8,-1M303,138.4l11.8,-1M311.4,134.1l10.3,-1.9M307.5,136.4l10.9,-1.6M312.3,138.8l11.3,-1.4M318.5,133.6l11.4,-1.3M314.3,136.5l11.6,-1.2M316.8,138.5l11.6,-1.2M325.6,133.3l11.4,-1.3M320.9,135.6l12.1,-0.8M328.1,131l10.3,-1.9" stroke="#33b533" stroke-width="2.2"/>
<path d="M260.2,130l7,-0.7M263.3,132.8l7.2,-0.5M270.9,133.4l6.3,-1.1M268.2,135.4l6.9,-0.7M275.9,135.9l7.1,-0.6M278.8,138.6l6.8,-0.9M281.9,135.3l6.9,-0.7M284.3,138.4l6.9,-0.7M289,135.9l6.7,-0.9M292.1,137.9l7.1,-0.6M295,135.4l7.1,-0.6M298.4,138.3l7.2,-0.5M301.5,135.6l7.1,-0.6M305.4,137.9l7.1,-0.6M313.5,133.4l6.2,-1.1M309.6,135.8l6.5,-1M314.6,138.3l6.8,-0.8M320.8,133l6.9,-0.8M316.6,135.9l7,-0.7M319.1,138l7,-0.7M327.8,132.7l6.9,-0.8M323.4,135.1l7.3,-0.5M330.2,130.3l6.2,-1.1" stroke="#7fe070" stroke-width="0.88"/>
<path d="M267.5,132.2h0M268.7,133.6h0M296.8,136.6h0M271.7,135.2h0" stroke="#3a6ec8" stroke-width="2.3"/>
<path d="M270.5,131.1h0M312.8,134.4h0M291.5,139.6h0M297.6,137.2h0M329.7,129.9h0M303.4,134h0" stroke="#b5f5b5" stroke-width="2.3"/>
<path d="M293.6,136.7h0M326.1,133.7h0M307.6,139.6h0" stroke="#d03535" stroke-width="2.3"/>
</g>
<clipPath id="sk18"><ellipse cx="299" cy="124.2" rx="38.7" ry="10.3"/></clipPath>
<ellipse cx="299" cy="127.4" rx="39" ry="10.8" fill="#000" opacity="0.16"/>
<ellipse cx="299" cy="125.7" rx="39.5" ry="10.8" fill="#a4a4a4"/>
<ellipse cx="299" cy="124.2" rx="39.5" ry="10.8" fill="#c8c8c8"/>
<g clip-path="url(#sk18)" fill="none" stroke-linecap="round">
<path d="M265,122.7l6.3,-2.9M260.4,125l7.3,-2.7M266.8,127.8l3.8,-3.2M268.1,120.5l3.7,-3.2M270.9,122.8l4.5,-3.2M268.9,125.2l6.9,-2.8M273.4,128.3l4.8,-3.1M269.5,130.9l5.4,-3.1M272.7,133.1l5.8,-3M277.9,117.1l7,-2.8M275.6,119.5l6.1,-3M277.7,122.7l6.3,-2.9M276.1,125.7l3.6,-3.2M280.4,127.8l4,-3.2M275.5,130.7l7,-2.8M280.2,132.8l4.4,-3.2M286.4,117.3l5.5,-3M283,120.3l5.8,-3M287.2,122.7l4.1,-3.2M282.8,125.2l3.3,-3.3M287.1,128.2l4,-3.2M281.8,130.2l3.7,-3.2M283.9,133.2l7.1,-2.8M292.1,117.5l7.4,-2.7M290,120.3l5.2,-3.1M292.3,122.4l4.5,-3.2M289.6,124.9l6,-3M292.7,128.3l4,-3.2M289.6,130.7l3.3,-3.3M293.2,133.4l5,-3.1M299.3,117.8l5.3,-3.1M297.4,120.1l3.5,-3.2M299.7,122.2l7.2,-2.8M295.9,125.5l4.3,-3.2M299,127.7l6.1,-3M294.7,130.6l7.4,-2.7M298.2,133l6.6,-2.9M308.5,117.5l3.9,-3.2M302.7,120l3.6,-3.2M307.2,122.7l5.5,-3M305.4,125.6l3.1,-3.3M307.6,128.2l4.5,-3.2M302.1,130.1l6.8,-2.8M305.4,132.7l5.8,-3M314.1,117l5.7,-3M309.2,120l6.7,-2.8M311.9,122.7l6.8,-2.8M310.8,125.3l4.7,-3.1M312.6,127.7l6.3,-2.9M308.5,130.2l7,-2.8M313.3,133.3l7.1,-2.8M315.9,120.2l6.4,-2.9M320.4,122.9l6.3,-2.9M316.8,125.3l6.7,-2.9M321.3,127.6l3.9,-3.2M317.5,130.2l7.2,-2.8M319.1,133.3l5.9,-3M323.1,120.1l5.2,-3.1M326.8,123l4.8,-3.1M324.4,125.3l4.2,-3.2M327.6,127.9l6.4,-2.9M324.3,130.3l3.9,-3.2M331.4,125.3l5.5,-3" stroke="#33b533" stroke-width="2.2"/>
<path d="M266.3,121.8l3.8,-1.7M261.9,124.2l4.4,-1.6M267.6,126.8l2.3,-1.9M268.9,119.5l2.2,-1.9M271.8,121.8l2.7,-1.9M270.3,124.3l4.1,-1.7M274.3,127.3l2.9,-1.9M270.6,129.9l3.2,-1.8M273.9,132.2l3.5,-1.8M279.3,116.3l4.2,-1.7M276.8,118.7l3.6,-1.8M279,121.8l3.8,-1.8M276.8,124.7l2.2,-1.9M281.2,126.8l2.4,-1.9M276.9,129.9l4.2,-1.7M281.1,131.9l2.6,-1.9M287.5,116.3l3.3,-1.8M284.2,119.4l3.5,-1.8M288,121.7l2.5,-1.9M283.4,124.3l2,-2M287.9,127.3l2.4,-1.9M282.5,129.2l2.2,-1.9M285.3,132.4l4.3,-1.7M293.6,116.7l4.5,-1.6M291.1,119.4l3.1,-1.8M293.2,121.4l2.7,-1.9M290.8,124l3.6,-1.8M293.5,127.4l2.4,-1.9M290.2,129.7l2,-2M294.2,132.5l3,-1.9M300.4,116.9l3.2,-1.8M298.1,119.1l2.1,-1.9M301.1,121.3l4.3,-1.7M296.8,124.5l2.6,-1.9M300.2,126.8l3.7,-1.8M296.2,129.8l4.5,-1.6M299.5,132.2l4,-1.7M309.2,116.6l2.3,-1.9M303.4,119.1l2.2,-1.9M308.3,121.8l3.3,-1.8M306,124.6l1.9,-2M308.5,127.3l2.7,-1.9M303.5,129.2l4.1,-1.7M306.6,131.8l3.5,-1.8M315.3,116.1l3.4,-1.8M310.6,119.1l4,-1.7M313.2,121.8l4.1,-1.7M311.8,124.4l2.8,-1.9M313.8,126.8l3.8,-1.8M309.9,129.4l4.2,-1.7M314.8,132.4l4.3,-1.7M317.2,119.3l3.8,-1.7M321.6,122l3.8,-1.8M318.1,124.5l4,-1.7M322.1,126.7l2.4,-1.9M318.9,129.3l4.3,-1.7M320.2,132.4l3.5,-1.8M324.1,119.2l3.1,-1.8M327.7,122.1l2.9,-1.9M325.3,124.4l2.5,-1.9M328.9,127l3.8,-1.7M325,129.3l2.4,-1.9M332.5,124.4l3.3,-1.8" stroke="#7fe070" stroke-width="0.88"/>
<path d="M298.5,127.4h0M295.1,126h0M295.8,122.4h0M285,121.2h0M296.5,118.8h0M300.9,118.4h0M271.5,120.1h0M316.7,131h0M303.6,119.8h0M307.3,130.6h0M281,122.5h0M280.6,122.5h0M294,132.4h0M314.1,116.9h0M280.6,115.8h0M280.9,117h0" stroke="#3a6ec8" stroke-width="2.3"/>
<path d="M285,132.3h0M292,114h0M298.2,128.7h0M275.6,122.4h0M265.5,124.6h0M281.7,120.5h0M317,129h0M292.1,115.7h0M295.2,129h0M276.2,115.7h0M310.5,126.5h0M315.8,115.3h0" stroke="#b5f5b5" stroke-width="2.3"/>
<path d="M275.6,119.8h0M274.8,117.9h0M325.5,123.1h0M289.4,118.2h0M322.6,130.8h0M320.7,123.1h0" stroke="#d03535" stroke-width="2.3"/>
</g>
<ellipse cx="353" cy="112.2" rx="9.2" ry="1.35" fill="#6cf04a"/>
<ellipse cx="353" cy="111.9" rx="5.52" ry="0.41" fill="#b4ff9a"/>
<ellipse cx="353" cy="116.54" rx="8.58" ry="1.35" fill="#6cf04a"/>
<ellipse cx="353" cy="116.24" rx="5.15" ry="0.41" fill="#b4ff9a"/>
<ellipse cx="353" cy="120.88" rx="6.8" ry="1.35" fill="#6cf04a"/>
<ellipse cx="353" cy="120.58" rx="4.08" ry="0.41" fill="#b4ff9a"/>
<ellipse cx="353" cy="125.22" rx="4.1" ry="1.35" fill="#6cf04a"/>
<ellipse cx="353" cy="124.92" rx="2.46" ry="0.41" fill="#b4ff9a"/>
<ellipse cx="353" cy="129.56" rx="0.9" ry="1.08" fill="#6cf04a"/>
<ellipse cx="353" cy="133.91" rx="2.52" ry="1.35" fill="#6cf04a"/>
<ellipse cx="353" cy="138.25" rx="5.54" ry="1.35" fill="#6cf04a"/>
<ellipse cx="353" cy="137.95" rx="3.33" ry="0.41" fill="#b4ff9a"/>
<ellipse cx="353" cy="142.59" rx="7.82" ry="1.35" fill="#6cf04a"/>
<ellipse cx="353" cy="142.29" rx="4.69" ry="0.41" fill="#b4ff9a"/>
<ellipse cx="353" cy="146.93" rx="9.04" ry="1.35" fill="#6cf04a"/>
<ellipse cx="353" cy="146.63" rx="5.43" ry="0.41" fill="#b4ff9a"/>
<ellipse cx="353" cy="151.27" rx="9.04" ry="1.35" fill="#6cf04a"/>
<ellipse cx="353" cy="150.97" rx="5.43" ry="0.41" fill="#b4ff9a"/>
<ellipse cx="353" cy="155.61" rx="7.82" ry="1.35" fill="#6cf04a"/>
<ellipse cx="353" cy="155.31" rx="4.69" ry="0.41" fill="#b4ff9a"/>
<ellipse cx="353" cy="159.95" rx="5.54" ry="1.35" fill="#6cf04a"/>
<ellipse cx="353" cy="159.65" rx="3.33" ry="0.41" fill="#b4ff9a"/>
<ellipse cx="353" cy="164.29" rx="2.52" ry="1.35" fill="#6cf04a"/>
<ellipse cx="353" cy="168.64" rx="0.9" ry="1.08" fill="#6cf04a"/>
<ellipse cx="353" cy="172.98" rx="4.1" ry="1.35" fill="#6cf04a"/>
<ellipse cx="353" cy="172.68" rx="2.46" ry="0.41" fill="#b4ff9a"/>
<ellipse cx="353" cy="177.32" rx="6.8" ry="1.35" fill="#6cf04a"/>
<ellipse cx="353" cy="177.02" rx="4.08" ry="0.41" fill="#b4ff9a"/>
<ellipse cx="353" cy="181.66" rx="8.58" ry="1.35" fill="#6cf04a"/>
<ellipse cx="353" cy="181.36" rx="5.15" ry="0.41" fill="#b4ff9a"/>
<ellipse cx="353" cy="186" rx="9.2" ry="1.35" fill="#6cf04a"/>
<ellipse cx="353" cy="185.7" rx="5.52" ry="0.41" fill="#b4ff9a"/>
<ellipse cx="377.3" cy="113" rx="0.9" ry="1.08" fill="#6cf04a"/>
<ellipse cx="377.3" cy="117.34" rx="3.32" ry="1.35" fill="#6cf04a"/>
<ellipse cx="377.3" cy="117.04" rx="1.99" ry="0.41" fill="#b4ff9a"/>
<ellipse cx="377.3" cy="121.68" rx="6.2" ry="1.35" fill="#6cf04a"/>
<ellipse cx="377.3" cy="121.38" rx="3.72" ry="0.41" fill="#b4ff9a"/>
<ellipse cx="377.3" cy="126.02" rx="8.24" ry="1.35" fill="#6cf04a"/>
<ellipse cx="377.3" cy="125.72" rx="4.94" ry="0.41" fill="#b4ff9a"/>
<ellipse cx="377.3" cy="130.36" rx="9.16" ry="1.35" fill="#6cf04a"/>
<ellipse cx="377.3" cy="130.06" rx="5.5" ry="0.41" fill="#b4ff9a"/>
<ellipse cx="377.3" cy="134.71" rx="8.85" ry="1.35" fill="#6cf04a"/>
<ellipse cx="377.3" cy="134.41" rx="5.31" ry="0.41" fill="#b4ff9a"/>
<ellipse cx="377.3" cy="139.05" rx="7.34" ry="1.35" fill="#6cf04a"/>
<ellipse cx="377.3" cy="138.75" rx="4.41" ry="0.41" fill="#b4ff9a"/>
<ellipse cx="377.3" cy="143.39" rx="4.84" ry="1.35" fill="#6cf04a"/>
<ellipse cx="377.3" cy="143.09" rx="2.91" ry="0.41" fill="#b4ff9a"/>
<ellipse cx="377.3" cy="147.73" rx="1.69" ry="1.08" fill="#6cf04a"/>
<ellipse cx="377.3" cy="152.07" rx="1.69" ry="1.08" fill="#6cf04a"/>
<ellipse cx="377.3" cy="156.41" rx="4.84" ry="1.35" fill="#6cf04a"/>
<ellipse cx="377.3" cy="156.11" rx="2.91" ry="0.41" fill="#b4ff9a"/>
<ellipse cx="377.3" cy="160.75" rx="7.34" ry="1.35" fill="#6cf04a"/>
<ellipse cx="377.3" cy="160.45" rx="4.41" ry="0.41" fill="#b4ff9a"/>
<ellipse cx="377.3" cy="165.09" rx="8.85" ry="1.35" fill="#6cf04a"/>
<ellipse cx="377.3" cy="164.79" rx="5.31" ry="0.41" fill="#b4ff9a"/>
<ellipse cx="377.3" cy="169.44" rx="9.16" ry="1.35" fill="#6cf04a"/>
<ellipse cx="377.3" cy="169.14" rx="5.5" ry="0.41" fill="#b4ff9a"/>
<ellipse cx="377.3" cy="173.78" rx="8.24" ry="1.35" fill="#6cf04a"/>
<ellipse cx="377.3" cy="173.48" rx="4.94" ry="0.41" fill="#b4ff9a"/>
<ellipse cx="377.3" cy="178.12" rx="6.2" ry="1.35" fill="#6cf04a"/>
<ellipse cx="377.3" cy="177.82" rx="3.72" ry="0.41" fill="#b4ff9a"/>
<ellipse cx="377.3" cy="182.46" rx="3.32" ry="1.35" fill="#6cf04a"/>
<ellipse cx="377.3" cy="182.16" rx="1.99" ry="0.41" fill="#b4ff9a"/>
<ellipse cx="377.3" cy="186.8" rx="0.9" ry="1.08" fill="#6cf04a"/>
<path d="M389.2,111.2H400.6M389.2,186.3H400.6" stroke="#000" stroke-width="1.6" fill="none"/>
<path d="M394.9,117.2V180.3" stroke="#000" stroke-width="1.15" fill="none"/>
<path d="M394.9,112.2 L397.8,121.2 L394.9,120 L392,121.2Z" fill="#000"/>
<path d="M394.9,185.3 L397.8,176.3 L394.9,177.5 L392,176.3Z" fill="#000"/>
<text x="404.6" y="126.4" font-family="'Liberation Sans', Arial, sans-serif" font-weight="bold" font-style="italic" font-size="15" fill="#000">P</text>
<circle cx="423" cy="154.1" r="12.3" fill="#44bc2c"/>
<path d="M409.46,152.85L436.54,155.35M409.92,150.38L436.08,157.82M410.83,148.04L435.17,160.16M412.15,145.9L433.85,162.3M413.84,144.05L432.16,164.15M415.84,142.54L430.16,165.66M418.09,141.42L427.91,166.78M420.5,140.73L425.5,167.47M423,140.5L423,167.7M425.5,140.73L420.5,167.47M427.91,141.42L418.09,166.78M430.16,142.54L415.84,165.66M432.16,144.05L413.84,164.15M433.85,145.9L412.15,162.3M435.17,148.04L410.83,160.16M436.08,150.38L409.92,157.82M436.54,152.85L409.46,155.35" stroke="#6cee4c" stroke-width="1.15" fill="none"/>
<circle cx="423" cy="154.1" r="4.76" fill="#6cee4c"/>
<rect x="409.4" y="152.7" width="27.2" height="2.8" rx="1.4" fill="#a4fb80"/>
<clipPath id="sk19"><ellipse cx="505.2" cy="175.1" rx="37.9" ry="12"/></clipPath>
<ellipse cx="505.2" cy="175.8" rx="38.7" ry="12.5" fill="#7a7e83"/>
<ellipse cx="505.2" cy="175.1" rx="38.7" ry="12.5" fill="#a0a4a9"/>
<g clip-path="url(#sk19)" fill="none" stroke-linecap="round">
<path d="M474,176l-7.5,-3M478.1,180.9l-8.2,-2.8M485.5,180.7l-8.2,-2.8M493.8,185.8l-8,-2.9M502.7,185.7l-7.2,-3.1M507.8,186.1l-8,-2.9M516.1,186.2l-7.1,-3.1M522.2,185.6l-7.8,-2.9M534.2,181.3l-8.1,-2.9M541.7,180.5l-7.5,-3M543.1,176.2l-8.2,-2.8M473.4,180.8l-5.5,-5.1M480.7,183.3l-4,-3.2M491,185.3l-4,-2.6M503.5,185.9l-5.5,-1.8M513.7,185.8l-4.2,-1.7M523.9,184.6l-4.3,-1.2M533.3,182.1l-5.3,-0.1M541.8,177.9l-3.8,0.5" stroke="#2aa8da" stroke-width="1.7"/>
<path d="M472.5,175.1l-4.5,-1.8M476.4,180.1l-4.9,-1.7M483.8,179.8l-4.9,-1.7M492.2,184.9l-4.8,-1.7M501.3,184.8l-4.3,-1.9M506.2,185.3l-4.8,-1.7M514.7,185.3l-4.3,-1.9M520.6,184.7l-4.7,-1.8M532.6,180.4l-4.8,-1.7M540.2,179.6l-4.5,-1.8M541.5,175.4l-4.9,-1.7M472.3,179.5l-3.3,-3.1M479.9,182.4l-2.4,-1.9M490.2,184.5l-2.4,-1.5M502.4,185.3l-3.3,-1.1M512.8,185.2l-2.5,-1M523.1,184l-2.6,-0.7M532.3,181.8l-3.2,-0.1M541,177.7l-2.3,0.3" stroke="#62c6ec" stroke-width="0.68"/>
<path d="M528.4,180.2h0M513.1,182.8h0M510,185.2h0M478.5,181.2h0M498.5,182.5h0M483.8,181h0" stroke="#3a6ec8" stroke-width="2.3"/>
<path d="M511.4,185.1h0M495.7,184.3h0M496.6,183.1h0M509.9,184h0M487.3,182.6h0" stroke="#7fe07f" stroke-width="2.3"/>
<path d="M517.7,184.8h0M481.6,183h0" stroke="#d03535" stroke-width="2.3"/>
</g>
<clipPath id="sk20"><ellipse cx="505.2" cy="170.8" rx="37.9" ry="12"/></clipPath>
<ellipse cx="505.2" cy="173.16" rx="38.2" ry="12.5" fill="#000" opacity="0.16"/>
<ellipse cx="505.2" cy="172.3" rx="38.7" ry="12.5" fill="#7a7e83"/>
<ellipse cx="505.2" cy="170.8" rx="38.7" ry="12.5" fill="#a0a4a9"/>
<g clip-path="url(#sk20)" fill="none" stroke-linecap="round">
<path d="M474.8,170.9l-11.7,-0.9M479.6,175.5l-11.7,-0.8M486.4,175.7l-11.8,-0.8M491.1,180l-11.9,-0.6M497.1,180.4l-11.9,-0.6M503.3,180l-11.9,-0.5M510.1,180.2l-11.9,-0.5M516.7,180.7l-11.9,-0.5M524.5,180.1l-11.6,-0.9M535.6,175.2l-11.8,-0.7M532.3,180.2l-11.8,-0.8M542.3,175.9l-11.8,-0.7M545.1,170.8l-11.8,-0.8M472.4,176l-7.4,-7M482,178.7l-7.4,-2.6M492.1,180.3l-7.4,-1.4M502.7,181.1l-7.4,-0.7M512.8,181l-7,-0.5M524,179.5l-7.4,0.7M534.2,176.9l-7.4,1.8M544.1,171.1l-7.3,4.8" stroke="#2aa8da" stroke-width="1.7"/>
<path d="M472.5,170.5l-7,-0.6M477.2,175.1l-7,-0.5M484.1,175.3l-7.1,-0.5M488.7,179.6l-7.1,-0.3M494.7,180l-7.1,-0.3M500.9,179.6l-7.1,-0.3M507.7,179.8l-7.2,-0.3M514.3,180.3l-7.1,-0.3M522.2,179.6l-7,-0.6M533.2,174.8l-7.1,-0.4M530,179.7l-7.1,-0.5M540,175.4l-7.1,-0.4M542.8,170.4l-7.1,-0.5M470.9,174.3l-4.5,-4.2M480.6,177.8l-4.4,-1.6M490.6,179.7l-4.4,-0.9M501.3,180.6l-4.4,-0.4M511.4,180.6l-4.2,-0.3M522.5,179.4l-4.4,0.4M532.7,176.9l-4.4,1.1M542.7,171.7l-4.4,2.9" stroke="#62c6ec" stroke-width="0.68"/>
<path d="M508,180h0M521.4,177.1h0M482.4,177.7h0M511.3,179.1h0" stroke="#3a6ec8" stroke-width="2.3"/>
<path d="M500.7,179.7h0M504.5,181.5h0M516.1,180.9h0M531,177.9h0" stroke="#7fe07f" stroke-width="2.3"/>
</g>
<clipPath id="sk21"><ellipse cx="505.2" cy="166.5" rx="37.9" ry="12"/></clipPath>
<ellipse cx="505.2" cy="168.87" rx="38.2" ry="12.5" fill="#000" opacity="0.16"/>
<ellipse cx="505.2" cy="168" rx="38.7" ry="12.5" fill="#7a7e83"/>
<ellipse cx="505.2" cy="166.5" rx="38.7" ry="12.5" fill="#a0a4a9"/>
<g clip-path="url(#sk21)" fill="none" stroke-linecap="round">
<path d="M474.7,164.9l-10.6,1.8M477.9,169.8l-10.7,1.8M487.4,169.9l-10.6,1.8M489.9,174.3l-10.2,2M495.9,174.5l-10,2.2M503.6,174.6l-10.7,1.7M509.1,174.3l-10,2.2M516.1,174.7l-10.5,1.9M523.2,174.9l-10.7,1.8M535.2,169.7l-10.7,1.8M530.5,174.5l-10.5,1.9M541.2,169.9l-10.5,1.9M473.4,171.3l-6.9,-4.1M483.4,173.8l-6.2,-0.4M492.3,175.5l-6.9,-0.2M502.1,176l-6.7,0.7M514.8,175.8l-7,1.1M523.9,174.6l-6.9,1.8M535.2,171.4l-6.1,3.2M543.9,166.1l-6.5,5.9" stroke="#2aa8da" stroke-width="1.7"/>
<path d="M472.6,164.9l-6.4,1.1M475.7,169.9l-6.4,1.1M485.3,169.9l-6.3,1.1M487.8,174.4l-6.1,1.2M493.9,174.6l-6,1.3M501.5,174.7l-6.4,1M507.1,174.4l-6,1.3M514,174.7l-6.3,1.1M521.1,174.9l-6.4,1.1M533.1,169.7l-6.4,1.1M528.4,174.5l-6.3,1.1M539.1,170l-6.3,1.1M472,170.1l-4.2,-2.5M482.2,173.4l-3.7,-0.2M490.9,175.1l-4.2,-0.1M500.8,175.9l-4,0.4M513.4,175.8l-4.2,0.7M522.5,174.7l-4.2,1.1M533.9,171.8l-3.7,1.9M542.6,167l-3.9,3.6" stroke="#62c6ec" stroke-width="0.68"/>
<path d="M492.1,176.5h0M472.5,169h0M531.8,173.3h0M512.4,176.8h0M484,171.8h0M537.9,169.4h0" stroke="#3a6ec8" stroke-width="2.3"/>
<path d="M498.2,176.6h0M501,174.9h0M487.5,173.8h0" stroke="#7fe07f" stroke-width="2.3"/>
<path d="M514,175.5h0M500.4,176.3h0M523.4,173.2h0M485.6,174.5h0" stroke="#d03535" stroke-width="2.3"/>
</g>
<clipPath id="sk22"><ellipse cx="505.2" cy="162.2" rx="37.9" ry="12"/></clipPath>
<ellipse cx="505.2" cy="164.56" rx="38.2" ry="12.5" fill="#000" opacity="0.16"/>
<ellipse cx="505.2" cy="163.7" rx="38.7" ry="12.5" fill="#7a7e83"/>
<ellipse cx="505.2" cy="162.2" rx="38.7" ry="12.5" fill="#a0a4a9"/>
<g clip-path="url(#sk22)" fill="none" stroke-linecap="round">
<path d="M471.8,160l-4.5,3.6M476,165.1l-3.5,3.7M483,164.9l-4.7,3.6M486.4,169.2l-3.8,3.7M492.2,169.5l-4.8,3.5M501.3,169.8l-4,3.7M507.9,169.4l-4.7,3.6M513.8,169.1l-3.7,3.7M520.7,169.5l-4.1,3.6M530.9,165.2l-4.3,3.6M538,164.9l-4.4,3.6M543.7,160.2l-4.1,3.6M469.9,164.1l-3,-0.9M478.8,170.2l1,-2.4M491.4,170.5l-3.9,1.4M502.3,171.1l-2.4,2.1M510.3,171l-1.2,2.3M520.4,170.1l-1.6,2.5M530.3,168.1l-1.9,2.7M541,163.4l-1.7,3.4" stroke="#2aa8da" stroke-width="1.7"/>
<path d="M470.9,160.5l-2.7,2.2M475.3,165.5l-2.1,2.2M482.1,165.3l-2.8,2.1M485.7,169.7l-2.3,2.2M491.2,169.9l-2.9,2.1M500.5,170.2l-2.4,2.2M507,169.8l-2.8,2.1M513.1,169.5l-2.2,2.2M519.9,170l-2.5,2.2M530,165.6l-2.6,2.2M537.1,165.3l-2.6,2.2M542.8,160.6l-2.5,2.2M469.3,163.6l-1.8,-0.5M479,169.4l0.6,-1.4M490.6,170.4l-2.3,0.9M501.8,171.2l-1.4,1.3M510,171.2l-0.7,1.4M520,170.3l-0.9,1.5M530,168.4l-1.1,1.6M540.7,163.8l-1,2.1" stroke="#62c6ec" stroke-width="0.68"/>
<path d="M469.6,162.7h0M504.3,171h0M529.6,168h0M518.4,169.8h0M534.3,167.3h0" stroke="#3a6ec8" stroke-width="2.3"/>
<path d="M495,170.4h0M487.3,169.1h0M485.5,168.6h0M504.2,170.7h0" stroke="#7fe07f" stroke-width="2.3"/>
<path d="M486.8,169.1h0M489.6,171.1h0M502.5,171.3h0M478,167.9h0" stroke="#d03535" stroke-width="2.3"/>
</g>
<clipPath id="sk23"><ellipse cx="505.2" cy="157.9" rx="37.9" ry="12"/></clipPath>
<ellipse cx="505.2" cy="160.26" rx="38.2" ry="12.5" fill="#000" opacity="0.16"/>
<ellipse cx="505.2" cy="159.4" rx="38.7" ry="12.5" fill="#7a7e83"/>
<ellipse cx="505.2" cy="157.9" rx="38.7" ry="12.5" fill="#a0a4a9"/>
<g clip-path="url(#sk23)" fill="none" stroke-linecap="round">
<path d="M467,155.6l3.9,3.7M470.6,160.7l4.5,3.6M478,160.3l4.6,3.6M482.4,164.9l4.1,3.6M489.8,165l4.6,3.6M494.9,165.2l3.7,3.7M503.4,164.9l4.3,3.6M509.6,165.4l3.6,3.7M518.7,164.9l3.7,3.7M526.8,160.6l3.7,3.7M535.6,160.4l4.7,3.6M537.6,155.7l4.4,3.6M468.6,158.7l3.6,4.4M479.3,163.7l3.2,2.9M490.4,165.9l1.6,2.5M498.3,166.7l3.5,2.2M508.4,166.9l3.2,2M518.9,168.3l1,-2.4M529.7,164.2l3.8,0.9M539.2,160.5l2.9,-0.1" stroke="#2aa8da" stroke-width="1.7"/>
<path d="M467.8,156.1l2.3,2.2M471.5,161.1l2.7,2.2M478.9,160.7l2.8,2.1M483.2,165.3l2.4,2.2M490.7,165.4l2.7,2.2M495.7,165.6l2.2,2.2M504.2,165.3l2.6,2.2M510.3,165.8l2.2,2.2M519.4,165.4l2.2,2.2M527.6,161.1l2.2,2.2M536.5,160.8l2.8,2.1M538.5,156.1l2.6,2.2M469.3,159.3l2.1,2.6M479.9,164l1.9,1.8M490.7,166.1l0.9,1.5M499,166.9l2.1,1.3M509.1,167l1.9,1.2M519.1,167.5l0.6,-1.4M530.4,164l2.3,0.5M539.8,160.1l1.8,-0" stroke="#62c6ec" stroke-width="0.68"/>
<path d="M499,168.2h0M518.2,166.1h0M532.2,163h0" stroke="#3a6ec8" stroke-width="2.3"/>
<path d="M528,164.7h0M471.8,158.7h0M476.9,164h0M513.9,168h0M511.6,165.5h0" stroke="#7fe07f" stroke-width="2.3"/>
<path d="M471.6,159.5h0M511.2,167h0M477.3,164h0M502.2,167.1h0" stroke="#d03535" stroke-width="2.3"/>
</g>
<clipPath id="sk24"><ellipse cx="505.2" cy="153.6" rx="37.9" ry="12"/></clipPath>
<ellipse cx="505.2" cy="155.97" rx="38.2" ry="12.5" fill="#000" opacity="0.16"/>
<ellipse cx="505.2" cy="155.1" rx="38.7" ry="12.5" fill="#7a7e83"/>
<ellipse cx="505.2" cy="153.6" rx="38.7" ry="12.5" fill="#a0a4a9"/>
<g clip-path="url(#sk24)" fill="none" stroke-linecap="round">
<path d="M465.7,151.8l10.4,2M468.5,157.1l10.6,1.8M474.8,156.7l10.3,2M480.3,161.8l10.2,2.1M487.2,162.3l10.7,1.8M492.3,161.4l10.3,2M499.7,161.5l10.6,1.8M507.3,161.5l10.4,1.9M512.8,161.8l10.6,1.8M524.5,156.9l10.8,1.7M521.3,161.6l10.1,2.1M531.4,156.9l10.7,1.7M536.2,151.7l10.1,2.1M465.3,151l5.7,7.6M477.3,159.2l6.1,3M487.4,161.9l6.9,1.7M498,162.8l6,1.6M508.4,163.1l6.6,0.7M518.2,162.6l7,-0.2M527.2,160.9l6.2,-0.5M539.4,157.4l6.1,-5.6" stroke="#2aa8da" stroke-width="1.7"/>
<path d="M467.8,151.9l6.2,1.2M470.6,157.2l6.3,1.1M476.8,156.8l6.2,1.2M482.4,161.9l6.1,1.2M489.3,162.3l6.4,1.1M494.3,161.5l6.2,1.2M501.8,161.5l6.4,1.1M509.3,161.6l6.3,1.2M514.9,161.8l6.3,1.1M526.7,157l6.5,1M523.4,161.7l6.1,1.3M533.5,156.9l6.4,1M538.2,151.8l6,1.3M466.4,152.2l3.4,4.5M478.5,159.5l3.7,1.8M488.8,161.9l4.2,1M499.2,162.8l3.6,1M509.7,163l4,0.4M519.6,162.2l4.2,-0.1M528.5,160.5l3.7,-0.3M540.6,156l3.7,-3.4" stroke="#62c6ec" stroke-width="0.68"/>
<path d="M470.2,154.4h0M469.9,153.1h0M498.4,163.5h0M486.1,159.9h0" stroke="#3a6ec8" stroke-width="2.3"/>
<path d="M513.1,160.7h0M496.9,163.6h0M523.9,160.5h0M519.5,160.3h0" stroke="#7fe07f" stroke-width="2.3"/>
<path d="M512.8,163.2h0M504.3,164h0M536.6,158.4h0M505.6,163h0M528.1,161.8h0" stroke="#d03535" stroke-width="2.3"/>
</g>
<clipPath id="sk25"><ellipse cx="505.2" cy="149.3" rx="37.9" ry="12"/></clipPath>
<ellipse cx="505.2" cy="151.66" rx="38.2" ry="12.5" fill="#000" opacity="0.16"/>
<ellipse cx="505.2" cy="150.8" rx="38.7" ry="12.5" fill="#7a7e83"/>
<ellipse cx="505.2" cy="149.3" rx="38.7" ry="12.5" fill="#a0a4a9"/>
<g clip-path="url(#sk25)" fill="none" stroke-linecap="round">
<path d="M463,148.6l11.9,-0.5M467.3,153.8l11.8,-0.8M475.3,154l11.9,-0.5M479.2,158.7l11.8,-0.8M485.9,158.5l11.8,-0.6M490.9,158.5l11.8,-0.7M498.9,158.5l11.9,-0.4M505.1,158.9l11.8,-0.7M513.2,158.8l11.7,-0.9M522.8,154.4l11.8,-0.8M531,153.8l11.8,-0.6M534.1,149.4l11.9,-0.5M464.8,147.4l7.4,6.9M474.7,154.9l7.3,1.8M485.1,158l7.1,0.3M497.5,159.3l7.4,-0M507.9,159.7l7.1,-1.1M517.5,159l7.2,-1.6M528.6,157.2l7.3,-2.7M537.7,154.5l7.4,-6.5" stroke="#2aa8da" stroke-width="1.7"/>
<path d="M465.4,148.2l7.1,-0.3M469.7,153.3l7.1,-0.5M477.7,153.6l7.1,-0.3M481.5,158.2l7.1,-0.5M488.3,158.1l7.1,-0.4M493.2,158.1l7.1,-0.4M501.3,158.1l7.2,-0.3M507.5,158.4l7.1,-0.4M515.5,158.3l7,-0.5M525.1,154l7.1,-0.5M533.3,153.4l7.1,-0.4M536.4,149l7.1,-0.3M466.3,148.5l4.4,4.1M476.1,155l4.4,1.1M486.6,157.8l4.2,0.2M499,159l4.4,-0M509.4,159.2l4.2,-0.7M518.9,158.4l4.3,-1M530.1,156.3l4.4,-1.6M539.2,152.9l4.5,-3.9" stroke="#62c6ec" stroke-width="0.68"/>
<path d="M511.8,159.5h0M471.2,152.3h0M492.1,156.1h0M530.3,156.7h0M537.2,153.8h0M513.8,159.3h0" stroke="#3a6ec8" stroke-width="2.3"/>
<path d="M530.7,153.9h0M535.3,152h0M531.8,155h0" stroke="#7fe07f" stroke-width="2.3"/>
<path d="M526.2,155h0M495.1,156.2h0M508.7,156.5h0M519.9,155.4h0" stroke="#d03535" stroke-width="2.3"/>
</g>
<clipPath id="sk26"><ellipse cx="505.2" cy="145" rx="37.9" ry="12"/></clipPath>
<ellipse cx="505.2" cy="147.37" rx="38.2" ry="12.5" fill="#000" opacity="0.16"/>
<ellipse cx="505.2" cy="146.5" rx="38.7" ry="12.5" fill="#7a7e83"/>
<ellipse cx="505.2" cy="145" rx="38.7" ry="12.5" fill="#a0a4a9"/>
<g clip-path="url(#sk26)" fill="none" stroke-linecap="round">
<path d="M465,145.5l8.1,-2.9M468.6,151.1l8.1,-2.9M476.7,150.8l8,-2.9M488.3,155.6l8,-2.9M493.2,155.7l7.7,-3M501.7,155.9l8,-2.9M506.7,156l8.1,-2.8M514.1,155.4l7.6,-3M523,155.4l8.3,-2.8M532.4,150.5l7.2,-3.1M537.4,145.5l7.6,-3M466.5,145.7l5.4,2.8M476.6,152l4.3,-0.6M487.5,154.5l5.6,-0.8M499,155.9l4.2,-1.8M506.5,155.8l5.6,-1.7M518.5,155.1l5.8,-2.3M527.4,153.7l4.9,-3.1M538.1,150.3l4.1,-4.7" stroke="#2aa8da" stroke-width="1.7"/>
<path d="M466.6,144.6l4.9,-1.7M470.2,150.2l4.9,-1.7M478.3,149.9l4.8,-1.7M489.9,154.7l4.8,-1.7M494.7,154.8l4.6,-1.8M503.3,155l4.8,-1.7M508.3,155.2l4.9,-1.7M515.6,154.5l4.6,-1.8M524.6,154.5l5,-1.7M533.8,149.6l4.3,-1.9M538.9,144.6l4.6,-1.8M467.6,146l3.2,1.7M477.4,151.5l2.6,-0.4M488.7,154l3.3,-0.5M499.9,155.2l2.5,-1.1M507.6,155.2l3.3,-1M519.7,154.3l3.5,-1.4M528.4,152.8l2.9,-1.8M538.9,149l2.5,-2.8" stroke="#62c6ec" stroke-width="0.68"/>
<path d="M498.6,155.6h0M484.8,153.5h0M536.6,149.6h0" stroke="#3a6ec8" stroke-width="2.3"/>
<path d="M502.1,155.7h0M510.3,155.4h0M486.1,150.6h0M486.4,153.9h0M529.1,151.4h0M516.5,152.1h0" stroke="#7fe07f" stroke-width="2.3"/>
<path d="M491.8,153.1h0M524.4,152.8h0M509.3,152.7h0M537.3,146.4h0" stroke="#d03535" stroke-width="2.3"/>
</g>
<clipPath id="sk27"><ellipse cx="505.2" cy="140.7" rx="37.9" ry="12"/></clipPath>
<ellipse cx="505.2" cy="143.06" rx="38.2" ry="12.5" fill="#000" opacity="0.16"/>
<ellipse cx="505.2" cy="142.2" rx="38.7" ry="12.5" fill="#7a7e83"/>
<ellipse cx="505.2" cy="140.7" rx="38.7" ry="12.5" fill="#a0a4a9"/>
<g clip-path="url(#sk27)" fill="none" stroke-linecap="round">
<path d="M473.2,137.2l-0.1,-3.9M468.7,142.6l0.8,-3.9M473.9,146.9l-0.5,-3.9M479.7,137.4l0.7,-3.9M476.9,142.1l0.4,-3.9M481,147.4l-0.7,-3.9M486.7,136.8l0.6,-3.9M485.6,142.6l-0.4,-3.9M488.5,146.9l-0,-3.9M492.6,132.7l0,-3.9M494.8,137.1l-0.8,-3.9M489.4,142.4l0.6,-3.9M494.4,147.2l-0.7,-3.9M489.8,152.2l-0.1,-3.9M496.4,132.6l0.8,-3.9M500.6,137.6l-0.6,-3.9M497,142.5l0.2,-3.9M501.6,146.6l0,-3.9M497.7,151.4l-0.4,-3.9M504.8,132.6l0.8,-3.9M509.2,137.1l-0.8,-3.9M504.5,141.9l-0.3,-3.9M509.5,147l-0.2,-3.9M503.5,152.2l0.8,-3.9M511.1,132.6l0.6,-3.9M516.1,137.7l-0.5,-3.9M513.1,142.3l-0.8,-3.9M515,147.1l0.4,-3.9M511.3,151.4l-0.1,-3.9M517.8,132.2l0.3,-3.9M521,137.8l0.7,-3.9M517.5,142.3l0.4,-3.9M522,146.6l0.2,-3.9M519,152.2l0.1,-3.9M526.1,132.9l-0.7,-3.9M529.1,137.3l0.7,-3.9M525.9,142l0.4,-3.9M528.4,146.5l0.3,-3.9M526.5,151.4l-0.8,-3.9M537.5,136.9l-0.2,-3.9M534.2,141.8l0.1,-3.9M536.2,147.4l-0.7,-3.9M541.3,141.9l0.6,-3.9" stroke="#2aa8da" stroke-width="1.7"/>
<path d="M473.2,136.1l-0.1,-2.3M468.8,141.5l0.5,-2.3M473.8,145.8l-0.3,-2.3M479.9,136.3l0.4,-2.3M477,141.1l0.2,-2.3M480.9,146.3l-0.4,-2.3M486.8,135.7l0.3,-2.3M485.5,141.5l-0.3,-2.3M488.5,145.8l-0,-2.3M492.6,131.6l0,-2.3M494.7,136l-0.5,-2.3M489.5,141.4l0.3,-2.3M494.2,146.2l-0.4,-2.3M489.8,151.1l-0,-2.3M496.6,131.5l0.5,-2.3M500.5,136.5l-0.4,-2.3M497.1,141.4l0.1,-2.3M501.6,145.5l0,-2.3M497.6,150.3l-0.3,-2.3M505,131.5l0.5,-2.3M509,136l-0.5,-2.3M504.5,140.8l-0.2,-2.3M509.4,145.9l-0.1,-2.3M503.6,151.1l0.5,-2.3M511.2,131.5l0.4,-2.3M516,136.7l-0.3,-2.3M512.9,141.3l-0.5,-2.3M515.1,146.1l0.3,-2.3M511.3,150.4l-0.1,-2.3M517.8,131.2l0.2,-2.3M521.1,136.7l0.4,-2.3M517.6,141.2l0.2,-2.3M522,145.5l0.1,-2.3M519,151.1l0.1,-2.3M526,131.8l-0.4,-2.3M529.2,136.3l0.4,-2.3M526,141l0.2,-2.3M528.5,145.5l0.2,-2.3M526.4,150.3l-0.5,-2.3M537.4,135.8l-0.1,-2.3M534.2,140.7l0.1,-2.3M536.1,146.3l-0.4,-2.3M541.5,140.8l0.4,-2.3" stroke="#62c6ec" stroke-width="0.68"/>
<path d="M500.2,133.5h0M532.5,139.5h0M525.2,143.7h0M508,143h0M519,129.6h0M484.8,136.7h0M503.7,129.6h0M477.8,147.3h0M512.6,148.3h0M539.6,140.2h0M470.5,138.5h0M507.7,140.9h0M488.2,137.3h0M476.4,142.8h0M515.3,137.1h0M518,129.2h0" stroke="#3a6ec8" stroke-width="2.3"/>
<path d="M481.4,147.7h0M528,148.9h0M518.7,135.4h0M497.5,136.3h0M523.8,132.5h0M487.2,149.7h0M494,145.6h0M536.2,137.8h0M506,148.4h0M483.2,139.3h0M528,145.6h0M505.9,149.4h0M482.8,139.4h0M524.1,145.4h0" stroke="#7fe07f" stroke-width="2.3"/>
<path d="M510.2,150.9h0M489.2,138.4h0M518.1,148.4h0M500,133.5h0" stroke="#d03535" stroke-width="2.3"/>
</g>
<ellipse cx="560.5" cy="123.55" rx="9.3" ry="2" fill="#4aa6cc"/>
<ellipse cx="560.5" cy="123.2" rx="9.3" ry="2" fill="#7fd6f2"/>
<ellipse cx="560.5" cy="122.9" rx="5.58" ry="0.6" fill="#b5ecfb"/>
<ellipse cx="560.5" cy="126.78" rx="8.8" ry="2" fill="#4aa6cc"/>
<ellipse cx="560.5" cy="126.43" rx="8.8" ry="2" fill="#7fd6f2"/>
<ellipse cx="560.5" cy="126.13" rx="5.28" ry="0.6" fill="#b5ecfb"/>
<ellipse cx="560.5" cy="130.01" rx="7.34" ry="2" fill="#4aa6cc"/>
<ellipse cx="560.5" cy="129.66" rx="7.34" ry="2" fill="#7fd6f2"/>
<ellipse cx="560.5" cy="129.36" rx="4.4" ry="0.6" fill="#b5ecfb"/>
<ellipse cx="560.5" cy="133.24" rx="5.09" ry="2" fill="#4aa6cc"/>
<ellipse cx="560.5" cy="132.89" rx="5.09" ry="2" fill="#7fd6f2"/>
<ellipse cx="560.5" cy="132.59" rx="3.05" ry="0.6" fill="#b5ecfb"/>
<ellipse cx="560.5" cy="136.48" rx="2.28" ry="2" fill="#4aa6cc"/>
<ellipse cx="560.5" cy="136.13" rx="2.28" ry="2" fill="#7fd6f2"/>
<ellipse cx="560.5" cy="139.71" rx="0.9" ry="1.6" fill="#4aa6cc"/>
<ellipse cx="560.5" cy="139.36" rx="0.9" ry="1.6" fill="#7fd6f2"/>
<ellipse cx="560.5" cy="142.94" rx="3.74" ry="2" fill="#4aa6cc"/>
<ellipse cx="560.5" cy="142.59" rx="3.74" ry="2" fill="#7fd6f2"/>
<ellipse cx="560.5" cy="142.29" rx="2.24" ry="0.6" fill="#b5ecfb"/>
<ellipse cx="560.5" cy="146.17" rx="6.3" ry="2" fill="#4aa6cc"/>
<ellipse cx="560.5" cy="145.82" rx="6.3" ry="2" fill="#7fd6f2"/>
<ellipse cx="560.5" cy="145.52" rx="3.78" ry="0.6" fill="#b5ecfb"/>
<ellipse cx="560.5" cy="149.4" rx="8.18" ry="2" fill="#4aa6cc"/>
<ellipse cx="560.5" cy="149.05" rx="8.18" ry="2" fill="#7fd6f2"/>
<ellipse cx="560.5" cy="148.75" rx="4.91" ry="0.6" fill="#b5ecfb"/>
<ellipse cx="560.5" cy="152.63" rx="9.17" ry="2" fill="#4aa6cc"/>
<ellipse cx="560.5" cy="152.28" rx="9.17" ry="2" fill="#7fd6f2"/>
<ellipse cx="560.5" cy="151.98" rx="5.5" ry="0.6" fill="#b5ecfb"/>
<ellipse cx="560.5" cy="155.87" rx="9.17" ry="2" fill="#4aa6cc"/>
<ellipse cx="560.5" cy="155.52" rx="9.17" ry="2" fill="#7fd6f2"/>
<ellipse cx="560.5" cy="155.22" rx="5.5" ry="0.6" fill="#b5ecfb"/>
<ellipse cx="560.5" cy="159.1" rx="8.18" ry="2" fill="#4aa6cc"/>
<ellipse cx="560.5" cy="158.75" rx="8.18" ry="2" fill="#7fd6f2"/>
<ellipse cx="560.5" cy="158.45" rx="4.91" ry="0.6" fill="#b5ecfb"/>
<ellipse cx="560.5" cy="162.33" rx="6.3" ry="2" fill="#4aa6cc"/>
<ellipse cx="560.5" cy="161.98" rx="6.3" ry="2" fill="#7fd6f2"/>
<ellipse cx="560.5" cy="161.68" rx="3.78" ry="0.6" fill="#b5ecfb"/>
<ellipse cx="560.5" cy="165.56" rx="3.74" ry="2" fill="#4aa6cc"/>
<ellipse cx="560.5" cy="165.21" rx="3.74" ry="2" fill="#7fd6f2"/>
<ellipse cx="560.5" cy="164.91" rx="2.24" ry="0.6" fill="#b5ecfb"/>
<ellipse cx="560.5" cy="168.79" rx="0.9" ry="1.6" fill="#4aa6cc"/>
<ellipse cx="560.5" cy="168.44" rx="0.9" ry="1.6" fill="#7fd6f2"/>
<ellipse cx="560.5" cy="172.02" rx="2.28" ry="2" fill="#4aa6cc"/>
<ellipse cx="560.5" cy="171.67" rx="2.28" ry="2" fill="#7fd6f2"/>
<ellipse cx="560.5" cy="175.26" rx="5.09" ry="2" fill="#4aa6cc"/>
<ellipse cx="560.5" cy="174.91" rx="5.09" ry="2" fill="#7fd6f2"/>
<ellipse cx="560.5" cy="174.61" rx="3.05" ry="0.6" fill="#b5ecfb"/>
<ellipse cx="560.5" cy="178.49" rx="7.34" ry="2" fill="#4aa6cc"/>
<ellipse cx="560.5" cy="178.14" rx="7.34" ry="2" fill="#7fd6f2"/>
<ellipse cx="560.5" cy="177.84" rx="4.4" ry="0.6" fill="#b5ecfb"/>
<ellipse cx="560.5" cy="181.72" rx="8.8" ry="2" fill="#4aa6cc"/>
<ellipse cx="560.5" cy="181.37" rx="8.8" ry="2" fill="#7fd6f2"/>
<ellipse cx="560.5" cy="181.07" rx="5.28" ry="0.6" fill="#b5ecfb"/>
<ellipse cx="560.5" cy="184.95" rx="9.3" ry="2" fill="#4aa6cc"/>
<ellipse cx="560.5" cy="184.6" rx="9.3" ry="2" fill="#7fd6f2"/>
<ellipse cx="560.5" cy="184.3" rx="5.58" ry="0.6" fill="#b5ecfb"/>
<ellipse cx="584.6" cy="124.15" rx="0.9" ry="1.68" fill="#4aa6cc"/>
<ellipse cx="584.6" cy="123.8" rx="0.9" ry="1.68" fill="#7fd6f2"/>
<ellipse cx="584.6" cy="127.38" rx="3.73" ry="2.1" fill="#4aa6cc"/>
<ellipse cx="584.6" cy="127.03" rx="3.73" ry="2.1" fill="#7fd6f2"/>
<ellipse cx="584.6" cy="126.73" rx="2.24" ry="0.63" fill="#b5ecfb"/>
<ellipse cx="584.6" cy="130.61" rx="7.06" ry="2.1" fill="#4aa6cc"/>
<ellipse cx="584.6" cy="130.26" rx="7.06" ry="2.1" fill="#7fd6f2"/>
<ellipse cx="584.6" cy="129.96" rx="4.24" ry="0.63" fill="#b5ecfb"/>
<ellipse cx="584.6" cy="133.84" rx="9.63" ry="2.1" fill="#4aa6cc"/>
<ellipse cx="584.6" cy="133.49" rx="9.63" ry="2.1" fill="#7fd6f2"/>
<ellipse cx="584.6" cy="133.19" rx="5.78" ry="0.63" fill="#b5ecfb"/>
<ellipse cx="584.6" cy="137.08" rx="11.15" ry="2.1" fill="#4aa6cc"/>
<ellipse cx="584.6" cy="136.73" rx="11.15" ry="2.1" fill="#7fd6f2"/>
<ellipse cx="584.6" cy="136.43" rx="6.69" ry="0.63" fill="#b5ecfb"/>
<ellipse cx="584.6" cy="140.31" rx="11.46" ry="2.1" fill="#4aa6cc"/>
<ellipse cx="584.6" cy="139.96" rx="11.46" ry="2.1" fill="#7fd6f2"/>
<ellipse cx="584.6" cy="139.66" rx="6.88" ry="0.63" fill="#b5ecfb"/>
<ellipse cx="584.6" cy="143.54" rx="10.53" ry="2.1" fill="#4aa6cc"/>
<ellipse cx="584.6" cy="143.19" rx="10.53" ry="2.1" fill="#7fd6f2"/>
<ellipse cx="584.6" cy="142.89" rx="6.32" ry="0.63" fill="#b5ecfb"/>
<ellipse cx="584.6" cy="146.77" rx="8.46" ry="2.1" fill="#4aa6cc"/>
<ellipse cx="584.6" cy="146.42" rx="8.46" ry="2.1" fill="#7fd6f2"/>
<ellipse cx="584.6" cy="146.12" rx="5.08" ry="0.63" fill="#b5ecfb"/>
<ellipse cx="584.6" cy="150" rx="5.47" ry="2.1" fill="#4aa6cc"/>
<ellipse cx="584.6" cy="149.65" rx="5.47" ry="2.1" fill="#7fd6f2"/>
<ellipse cx="584.6" cy="149.35" rx="3.28" ry="0.63" fill="#b5ecfb"/>
<ellipse cx="584.6" cy="153.23" rx="1.89" ry="1.68" fill="#4aa6cc"/>
<ellipse cx="584.6" cy="152.88" rx="1.89" ry="1.68" fill="#7fd6f2"/>
<ellipse cx="584.6" cy="156.47" rx="1.89" ry="1.68" fill="#4aa6cc"/>
<ellipse cx="584.6" cy="156.12" rx="1.89" ry="1.68" fill="#7fd6f2"/>
<ellipse cx="584.6" cy="159.7" rx="5.47" ry="2.1" fill="#4aa6cc"/>
<ellipse cx="584.6" cy="159.35" rx="5.47" ry="2.1" fill="#7fd6f2"/>
<ellipse cx="584.6" cy="159.05" rx="3.28" ry="0.63" fill="#b5ecfb"/>
<ellipse cx="584.6" cy="162.93" rx="8.46" ry="2.1" fill="#4aa6cc"/>
<ellipse cx="584.6" cy="162.58" rx="8.46" ry="2.1" fill="#7fd6f2"/>
<ellipse cx="584.6" cy="162.28" rx="5.08" ry="0.63" fill="#b5ecfb"/>
<ellipse cx="584.6" cy="166.16" rx="10.53" ry="2.1" fill="#4aa6cc"/>
<ellipse cx="584.6" cy="165.81" rx="10.53" ry="2.1" fill="#7fd6f2"/>
<ellipse cx="584.6" cy="165.51" rx="6.32" ry="0.63" fill="#b5ecfb"/>
<ellipse cx="584.6" cy="169.39" rx="11.46" ry="2.1" fill="#4aa6cc"/>
<ellipse cx="584.6" cy="169.04" rx="11.46" ry="2.1" fill="#7fd6f2"/>
<ellipse cx="584.6" cy="168.74" rx="6.88" ry="0.63" fill="#b5ecfb"/>
<ellipse cx="584.6" cy="172.62" rx="11.15" ry="2.1" fill="#4aa6cc"/>
<ellipse cx="584.6" cy="172.27" rx="11.15" ry="2.1" fill="#7fd6f2"/>
<ellipse cx="584.6" cy="171.97" rx="6.69" ry="0.63" fill="#b5ecfb"/>
<ellipse cx="584.6" cy="175.86" rx="9.63" ry="2.1" fill="#4aa6cc"/>
<ellipse cx="584.6" cy="175.51" rx="9.63" ry="2.1" fill="#7fd6f2"/>
<ellipse cx="584.6" cy="175.21" rx="5.78" ry="0.63" fill="#b5ecfb"/>
<ellipse cx="584.6" cy="179.09" rx="7.06" ry="2.1" fill="#4aa6cc"/>
<ellipse cx="584.6" cy="178.74" rx="7.06" ry="2.1" fill="#7fd6f2"/>
<ellipse cx="584.6" cy="178.44" rx="4.24" ry="0.63" fill="#b5ecfb"/>
<ellipse cx="584.6" cy="182.32" rx="3.73" ry="2.1" fill="#4aa6cc"/>
<ellipse cx="584.6" cy="181.97" rx="3.73" ry="2.1" fill="#7fd6f2"/>
<ellipse cx="584.6" cy="181.67" rx="2.24" ry="0.63" fill="#b5ecfb"/>
<ellipse cx="584.6" cy="185.55" rx="0.9" ry="1.68" fill="#4aa6cc"/>
<ellipse cx="584.6" cy="185.2" rx="0.9" ry="1.68" fill="#7fd6f2"/>
<path d="M596.6,121.9H608M596.6,185.8H608" stroke="#000" stroke-width="1.6" fill="none"/>
<path d="M602.3,127.9V179.8" stroke="#000" stroke-width="1.15" fill="none"/>
<path d="M602.3,122.9 L605.2,131.9 L602.3,130.7 L599.4,131.9Z" fill="#000"/>
<path d="M602.3,184.8 L605.2,175.8 L602.3,177 L599.4,175.8Z" fill="#000"/>
<text x="614.2" y="129.8" font-family="'Liberation Sans', Arial, sans-serif" font-weight="bold" font-style="italic" font-size="15" fill="#000">P</text>
<circle cx="629.9" cy="157.6" r="12.5" fill="#52aed2"/>
<path d="M616.16,156.33L643.64,158.87M616.63,153.82L643.17,161.38M617.55,151.45L642.25,163.75M618.89,149.28L640.91,165.92M620.6,147.4L639.2,167.8M622.64,145.87L637.16,169.33M624.91,144.73L634.89,170.47M627.36,144.03L632.44,171.17M629.9,143.8L629.9,171.4M632.44,144.03L627.36,171.17M634.89,144.73L624.91,170.47M637.16,145.87L622.64,169.33M639.2,147.4L620.6,167.8M640.91,149.28L618.89,165.92M642.25,151.45L617.55,163.75M643.17,153.82L616.63,161.38M643.64,156.33L616.16,158.87" stroke="#84d8f4" stroke-width="1.15" fill="none"/>
<circle cx="629.9" cy="157.6" r="4.83" fill="#84d8f4"/>
<rect x="616.1" y="156.2" width="27.6" height="2.8" rx="1.4" fill="#b0ecff"/>
<g font-family="'Liberation Sans', Arial, sans-serif" font-weight="bold" font-size="11.9" fill="#000">
<text x="129.6" y="202.2">Side view</text><text x="193.8" y="202.2">Top view</text>
<text x="336.2" y="202.2">Side view</text><text x="401.4" y="202.2">Top view</text>
<text x="543.6" y="202.6">Side view</text><text x="609.2" y="202.6">Top view</text>
</g>
<rect x="54.5" y="216.2" width="337.9" height="153.9" fill="#000"/>
<path d="M76.3,233V348" stroke="#fff" stroke-width="1.3" fill="none"/>
<path d="M76.3,356.3 L73.2,347 L79.4,347Z" fill="#fff"/>
<path d="M76.3,239.2H86.2M76.3,290.5H86.2M76.3,296.28H86.2M76.3,302.06H86.2M76.3,307.84H86.2M76.3,313.62H86.2M76.3,319.4H86.2M76.3,325.18H86.2M76.3,330.96H86.2M76.3,336.74H86.2M76.3,342.52H86.2" stroke="#e6e6e6" stroke-width="1" fill="none"/>
<path d="M83.2,245V285" stroke="#fff" stroke-width="1.1" fill="none"/>
<path d="M83.2,240.6 L85.6,246.8 L80.8,246.8Z M83.2,289.2 L85.6,283 L80.8,283Z" fill="#fff"/>
<text transform="translate(86.6,265.8) rotate(90)" text-anchor="middle" font-family="'Liberation Sans', Arial, sans-serif" font-weight="bold" font-size="9.6" fill="#fff">2cm</text>
<g font-family="'Liberation Sans', Arial, sans-serif" font-weight="bold" font-size="9.6" fill="#fff"><text x="87.4" y="309.9">40%</text><text x="87.4" y="346.3" font-size="9.4">100%</text></g>
<g font-family="'Liberation Sans', Arial, sans-serif" font-weight="bold" font-size="12" fill="#fff" text-anchor="middle">
<text x="124.1" y="233.2">Initial</text>
<text x="171.2" y="233.2">20%</text>
<text x="217.7" y="233.2">40%</text>
<text x="259.6" y="233.2">60%</text>
<text x="309" y="233.2">80%</text>
<text x="351.6" y="233.2">100%</text>
</g>
<defs><linearGradient id="b1h" x1="0" y1="0" x2="1" y2="0"><stop offset="0" stop-color="#a08484"/><stop offset="0.15" stop-color="#bc8882"/><stop offset="0.5" stop-color="#ca8a80"/><stop offset="0.85" stop-color="#c6887e"/><stop offset="1" stop-color="#b07a74"/></linearGradient><linearGradient id="b1v" x1="0" y1="0" x2="0" y2="1"><stop offset="0" stop-color="#e0a8a0" stop-opacity="0.3"/><stop offset="0.3" stop-color="#d08c82" stop-opacity="0"/><stop offset="0.8" stop-color="#b08880" stop-opacity="0.05"/><stop offset="1" stop-color="#9a8078" stop-opacity="0.35"/></linearGradient><radialGradient id="b1c" gradientUnits="userSpaceOnUse" cx="106" cy="285" r="11"><stop offset="0" stop-color="#4a807a" stop-opacity="0.8"/><stop offset="0.5" stop-color="#6a8a80" stop-opacity="0.3"/><stop offset="1" stop-color="#8a8a80" stop-opacity="0"/></radialGradient><linearGradient id="b1w" x1="0" y1="0" x2="0" y2="1"><stop offset="0" stop-color="#fff" stop-opacity="0.95"/><stop offset="1" stop-color="#fff" stop-opacity="0.1"/></linearGradient><radialGradient id="b5a" gradientUnits="userSpaceOnUse" cx="307" cy="238" r="15"><stop offset="0" stop-color="#6c74d4" stop-opacity="1"/><stop offset="0.5" stop-color="#6888c4" stop-opacity="0.6"/><stop offset="1" stop-color="#5cb080" stop-opacity="0"/></radialGradient><radialGradient id="b5b" gradientUnits="userSpaceOnUse" cx="309" cy="333" r="17"><stop offset="0" stop-color="#6468c8" stop-opacity="1"/><stop offset="0.5" stop-color="#6484b8" stop-opacity="0.6"/><stop offset="1" stop-color="#5cb080" stop-opacity="0"/></radialGradient><radialGradient id="b6a" gradientUnits="userSpaceOnUse" cx="339" cy="240" r="19"><stop offset="0" stop-color="#5448b8" stop-opacity="1"/><stop offset="0.5" stop-color="#4c58a8" stop-opacity="0.7"/><stop offset="1" stop-color="#3c7c7c" stop-opacity="0"/></radialGradient><radialGradient id="b6b" gradientUnits="userSpaceOnUse" cx="346" cy="344" r="18"><stop offset="0" stop-color="#5c54c8" stop-opacity="1"/><stop offset="0.55" stop-color="#5060b0" stop-opacity="0.7"/><stop offset="1" stop-color="#3c7c7c" stop-opacity="0"/></radialGradient><linearGradient id="b2h" x1="0" y1="0" x2="1" y2="0"><stop offset="0" stop-color="#d49078"/><stop offset="0.1" stop-color="#c08c5c"/><stop offset="0.35" stop-color="#a89a54"/><stop offset="0.6" stop-color="#a8a660"/><stop offset="0.78" stop-color="#c8c09a"/><stop offset="0.9" stop-color="#bcb890"/><stop offset="1" stop-color="#989468"/></linearGradient><linearGradient id="b2v" x1="0" y1="0" x2="0" y2="1"><stop offset="0" stop-color="#8cb050" stop-opacity="0.55"/><stop offset="0.12" stop-color="#a0a058" stop-opacity="0"/><stop offset="0.8" stop-color="#90a850" stop-opacity="0.0"/><stop offset="1" stop-color="#66b044" stop-opacity="0.8"/></linearGradient><linearGradient id="b3h" x1="0" y1="0" x2="1" y2="0"><stop offset="0" stop-color="#ffc090"/><stop offset="0.05" stop-color="#e89858"/><stop offset="0.16" stop-color="#c0a450"/><stop offset="0.4" stop-color="#a4bc58"/><stop offset="0.7" stop-color="#90dc6c"/><stop offset="1" stop-color="#7cc868"/></linearGradient><linearGradient id="b3v" x1="0" y1="0" x2="0" y2="1"><stop offset="0" stop-color="#78d458" stop-opacity="0.75"/><stop offset="0.2" stop-color="#90d060" stop-opacity="0.1"/><stop offset="0.7" stop-color="#a0c058" stop-opacity="0"/><stop offset="1" stop-color="#88b850" stop-opacity="0.5"/></linearGradient><linearGradient id="b4h" x1="0" y1="0" x2="1" y2="0"><stop offset="0" stop-color="#d6d870"/><stop offset="0.08" stop-color="#a4d870"/><stop offset="0.4" stop-color="#84d870"/><stop offset="0.75" stop-color="#90e07c"/><stop offset="0.92" stop-color="#80d070"/><stop offset="1" stop-color="#6cb464"/></linearGradient><linearGradient id="b4v" x1="0" y1="0" x2="0" y2="1"><stop offset="0" stop-color="#70c868" stop-opacity="0.5"/><stop offset="0.2" stop-color="#84d870" stop-opacity="0"/><stop offset="0.75" stop-color="#90c078" stop-opacity="0.15"/><stop offset="1" stop-color="#9c9c78" stop-opacity="0.85"/></linearGradient><linearGradient id="b5h" x1="0" y1="0" x2="1" y2="0"><stop offset="0" stop-color="#98e078"/><stop offset="0.08" stop-color="#64c078"/><stop offset="0.5" stop-color="#58b880"/><stop offset="0.9" stop-color="#54b07c"/><stop offset="1" stop-color="#489870"/></linearGradient><linearGradient id="b5v" x1="0" y1="0" x2="0" y2="1"><stop offset="0" stop-color="#5890a0" stop-opacity="0.4"/><stop offset="0.12" stop-color="#58b880" stop-opacity="0"/><stop offset="0.85" stop-color="#58b080" stop-opacity="0"/><stop offset="1" stop-color="#7c9470" stop-opacity="0.5"/></linearGradient><linearGradient id="b6h" x1="0" y1="0" x2="1" y2="0"><stop offset="0" stop-color="#42689a"/><stop offset="0.15" stop-color="#3a7480"/><stop offset="0.6" stop-color="#387c74"/><stop offset="0.88" stop-color="#407a68"/><stop offset="0.95" stop-color="#768648"/><stop offset="1" stop-color="#4c583c"/></linearGradient><linearGradient id="b6v" x1="0" y1="0" x2="0" y2="1"><stop offset="0" stop-color="#4a60a0" stop-opacity="0.4"/><stop offset="0.15" stop-color="#3c7c7c" stop-opacity="0"/><stop offset="0.85" stop-color="#3c7c7c" stop-opacity="0"/><stop offset="1" stop-color="#5060a8" stop-opacity="0.4"/></linearGradient><filter id="blb"><feGaussianBlur stdDeviation="0.5"/></filter></defs>
<rect x="106.2" y="239.2" width="31" height="51.4" fill="url(#b1h)"/>
<rect x="106.2" y="239.2" width="31" height="51.4" fill="url(#b1v)"/>
<rect x="154.2" y="239.2" width="28.8" height="60.3" fill="url(#b2h)"/>
<rect x="154.2" y="239.2" width="28.8" height="60.3" fill="url(#b2v)"/>
<rect x="201.6" y="239.2" width="26.9" height="67.3" fill="url(#b3h)"/>
<rect x="201.6" y="239.2" width="26.9" height="67.3" fill="url(#b3v)"/>
<rect x="244.3" y="239.2" width="25.7" height="78.6" fill="url(#b4h)"/>
<rect x="244.3" y="239.2" width="25.7" height="78.6" fill="url(#b4v)"/>
<rect x="293.6" y="239.2" width="24.5" height="91.4" fill="url(#b5h)"/>
<rect x="293.6" y="239.2" width="24.5" height="91.4" fill="url(#b5v)"/>
<rect x="337.2" y="239.2" width="22.7" height="103.5" fill="url(#b6h)"/>
<rect x="337.2" y="239.2" width="22.7" height="103.5" fill="url(#b6v)"/>
<rect x="106.2" y="239.2" width="31" height="51.4" fill="url(#b1c)"/>
<path d="M127,239.2 L133.6,239.2 L131.6,251Z" fill="url(#b1w)" opacity="0.85" filter="url(#blb)"/>
<rect x="293.6" y="239.2" width="24.5" height="91.4" fill="url(#b5a)"/><rect x="293.6" y="239.2" width="24.5" height="91.4" fill="url(#b5b)"/>
<rect x="337.2" y="239.2" width="22.7" height="103.5" fill="url(#b6a)"/><rect x="337.2" y="239.2" width="22.7" height="103.5" fill="url(#b6b)"/>
<path d="M177.5,258 Q175,275 178.5,296" stroke="#f0ead8" stroke-width="1" fill="none" opacity="0.35"/>
<linearGradient id="bArr" gradientUnits="userSpaceOnUse" x1="97.5" y1="0" x2="370.5" y2="0"><stop offset="0" stop-color="#ff5a3c"/><stop offset="0.12" stop-color="#ff7434"/><stop offset="0.25" stop-color="#f8b020"/><stop offset="0.36" stop-color="#e8ec18"/><stop offset="0.5" stop-color="#88e01c"/><stop offset="0.64" stop-color="#40d828"/><stop offset="0.8" stop-color="#6cd078"/><stop offset="0.92" stop-color="#7cc8b8"/><stop offset="1" stop-color="#78c0c8"/></linearGradient>
<path d="M97.5,353 L114.5,345.4 L114.5,349.1 L353.7,349.1 L353.7,345.4 L370.5,353 L353.7,360.7 L353.7,356.8 L114.5,356.8 L114.5,360.7Z" fill="url(#bArr)"/>
<g font-family="'Liberation Sans', Arial, sans-serif" font-weight="bold" font-size="12.1" fill="#fff"><text x="210.3" y="343.4">Elongation</text><text x="213.1" y="366.8">Recovery</text></g>
<rect x="416.7" y="216.2" width="241.8" height="155.5" fill="#000"/>
<g font-family="'Liberation Sans', Arial, sans-serif" font-weight="bold" font-size="12" fill="#fff">
<text x="491.9" y="240.1" text-anchor="middle">Initial</text><text x="586.9" y="241.6" text-anchor="middle">Stretch</text>
<text x="422.3" y="268.3" font-size="11.7">L-CPF</text><text x="422.2" y="327.1" font-size="11.7">R-CPF</text></g>
<defs><radialGradient id="c1" cx="0.55" cy="0.5" r="0.75"><stop offset="0" stop-color="#a6a6a0"/><stop offset="0.6" stop-color="#9c9c98"/><stop offset="1" stop-color="#8a8a88"/></radialGradient><linearGradient id="c2" x1="0" y1="0" x2="0" y2="1"><stop offset="0" stop-color="#f47a50"/><stop offset="0.08" stop-color="#ee7a54"/><stop offset="0.45" stop-color="#dc7a62"/><stop offset="0.8" stop-color="#c47a6a"/><stop offset="1" stop-color="#8c7468"/></linearGradient><radialGradient id="c2g" cx="0.45" cy="0.0" r="0.55"><stop offset="0" stop-color="#ffa070" stop-opacity="0.9"/><stop offset="1" stop-color="#ff8050" stop-opacity="0"/></radialGradient><linearGradient id="c2s" x1="0" y1="0" x2="1" y2="0"><stop offset="0" stop-color="#7a4a40" stop-opacity="0.5"/><stop offset="0.12" stop-color="#7a4a40" stop-opacity="0"/><stop offset="0.9" stop-color="#7a4a40" stop-opacity="0"/><stop offset="1" stop-color="#7a4a40" stop-opacity="0.35"/></linearGradient><linearGradient id="c3" x1="0" y1="0" x2="1" y2="0"><stop offset="0" stop-color="#161e6a"/><stop offset="0.1" stop-color="#10244c"/><stop offset="0.3" stop-color="#0c2e3c"/><stop offset="0.6" stop-color="#0e3a3e"/><stop offset="0.82" stop-color="#10304c"/><stop offset="0.92" stop-color="#1a2c8c"/><stop offset="1" stop-color="#2634b4"/></linearGradient><linearGradient id="c3v" x1="0" y1="0" x2="0" y2="1"><stop offset="0" stop-color="#2c8a68" stop-opacity="0.6"/><stop offset="0.1" stop-color="#0c3030" stop-opacity="0.1"/><stop offset="0.45" stop-color="#000" stop-opacity="0.12"/><stop offset="0.85" stop-color="#1a5858" stop-opacity="0.35"/><stop offset="1" stop-color="#1a4858" stop-opacity="0.5"/></linearGradient><radialGradient id="c3b" gradientUnits="userSpaceOnUse" cx="533" cy="281" r="14"><stop offset="0" stop-color="#2432a8" stop-opacity="0.95"/><stop offset="1" stop-color="#2432a8" stop-opacity="0"/></radialGradient><radialGradient id="c3c" gradientUnits="userSpaceOnUse" cx="652" cy="268" r="17"><stop offset="0" stop-color="#2c3cc0" stop-opacity="0.95"/><stop offset="0.6" stop-color="#2434a8" stop-opacity="0.5"/><stop offset="1" stop-color="#2432a8" stop-opacity="0"/></radialGradient><linearGradient id="c4" x1="0" y1="0" x2="1" y2="0"><stop offset="0" stop-color="#121c34"/><stop offset="0.1" stop-color="#143440"/><stop offset="0.3" stop-color="#164840"/><stop offset="0.6" stop-color="#185044"/><stop offset="0.85" stop-color="#143c48"/><stop offset="0.95" stop-color="#1a3070"/><stop offset="1" stop-color="#20348c"/></linearGradient><linearGradient id="c4v" x1="0" y1="0" x2="0" y2="1"><stop offset="0" stop-color="#3c9a64" stop-opacity="0.65"/><stop offset="0.12" stop-color="#145040" stop-opacity="0.1"/><stop offset="0.5" stop-color="#000" stop-opacity="0.1"/><stop offset="0.85" stop-color="#1c6454" stop-opacity="0.3"/><stop offset="1" stop-color="#0a2030" stop-opacity="0.45"/></linearGradient></defs>
<rect x="463.2" y="251.2" width="58.8" height="35.8" fill="url(#c1)"/>
<rect x="463" y="305.2" width="58.8" height="35.7" fill="url(#c2)"/><rect x="463" y="305.2" width="58.8" height="35.7" fill="url(#c2g)"/><rect x="463" y="305.2" width="58.8" height="35.7" fill="url(#c2s)"/>
<rect x="533" y="255.5" width="118" height="25.7" fill="url(#c3)"/><rect x="533" y="255.5" width="118" height="25.7" fill="url(#c3v)"/><rect x="533" y="255.5" width="118" height="25.7" fill="url(#c3b)"/><rect x="533" y="255.5" width="118" height="25.7" fill="url(#c3c)"/>
<rect x="532.8" y="310.2" width="118.4" height="26" fill="url(#c4)"/><rect x="532.8" y="310.2" width="118.4" height="26" fill="url(#c4v)"/>
<clipPath id="cpd"><rect x="56.7" y="390.3" width="141.1" height="130"/></clipPath>
<g clip-path="url(#cpd)" fill="none" stroke-width="1.3" stroke-linejoin="round">
<path d="M56.7,427.8L57.2,427.5L57.8,427.0L58.3,426.5L58.9,425.9L59.4,425.3L60.0,424.6L60.5,423.9L61.1,423.2L61.6,422.6L62.1,421.9L62.7,421.3L63.2,420.7L63.8,420.1L64.3,419.7L64.9,419.3L65.4,419.1L66.0,419.0L66.5,419.1L67.1,419.2L67.6,419.3L68.1,419.5L68.7,419.7L69.2,419.9L69.8,420.1L70.3,420.3L70.9,420.5L71.4,420.6L72.0,420.7L72.5,420.8L73.0,420.9L73.6,421.0L74.1,421.0L74.7,420.7L75.2,420.3L75.8,419.8L76.3,419.2L76.9,418.7L77.4,418.2L77.9,417.8L78.5,417.6L79.0,417.6L79.6,418.0L80.1,418.8L80.7,420.2L81.2,422.3L81.8,425.2L82.3,429.0L82.8,433.6L83.4,438.6L83.9,443.7L84.5,448.5L85.0,452.6L85.6,455.8L86.1,458.4L86.7,460.3L87.2,461.7L87.8,462.8L88.3,463.6L88.8,464.4L89.4,465.0L89.9,465.7L90.5,466.4L91.0,467.1L91.6,467.8L92.1,468.6L92.7,469.4L93.2,470.3L93.7,471.4L94.3,472.5L94.8,473.6L95.4,474.8L95.9,476.1L96.5,477.2L97.0,478.4L97.6,479.5L98.1,480.6L98.6,481.7L99.2,482.8L99.7,483.9L100.3,485.0L100.8,486.1L101.4,487.3L101.9,488.6L102.5,489.8L103.0,491.1L103.6,492.2L104.1,493.2L104.6,494.0L105.2,494.6L105.7,495.1L106.3,495.6L106.8,496.0L107.4,496.3L107.9,496.7L108.5,497.0L109.0,497.3L109.5,497.7L110.1,498.0L110.6,498.3L111.2,498.6L111.7,498.9L112.3,499.2L112.8,499.4L113.4,499.7L113.9,499.9L114.4,500.2L115.0,500.4L115.5,500.6L116.1,500.8L116.6,501.0L117.2,501.1L117.7,501.3L118.3,501.5L118.8,501.6L119.4,501.8L119.9,501.9L120.4,502.0L121.0,502.1L121.5,502.2L122.1,502.3L122.6,502.3L123.2,502.4L123.7,502.4L124.3,502.4L124.8,502.5L125.3,502.5L125.9,502.5L126.4,502.5L127.0,502.6L127.5,502.6L128.1,502.6L128.6,502.6L129.2,502.6L129.7,502.6L130.2,502.7L130.8,502.7L131.3,502.7L131.9,502.7L132.4,502.6L133.0,502.6L133.5,502.5L134.1,502.5L134.6,502.4L135.1,502.3L135.7,502.3L136.2,502.3L136.8,502.3L137.3,502.5L137.9,502.6L138.4,502.9L139.0,503.2L139.5,503.5L140.1,503.8L140.6,504.1L141.1,504.4L141.7,504.8L142.2,505.1L142.8,505.4L143.3,505.7L143.9,505.9L144.4,506.2L145.0,506.4L145.5,506.6L146.0,506.8L146.6,507.0L147.1,507.1L147.7,507.2L148.2,507.2L148.8,507.2L149.3,507.1L149.9,507.0L150.4,506.9L150.9,506.8L151.5,506.6L152.0,506.4L152.6,506.3L153.1,506.1L153.7,506.0L154.2,505.9L154.8,505.8L155.3,505.7L155.9,505.6L156.4,505.6L156.9,505.6L157.5,505.5L158.0,505.5L158.6,505.5L159.1,505.5L159.7,505.4L160.2,505.4L160.8,505.4L161.3,505.4L161.8,505.4L162.4,505.4L162.9,505.4L163.5,505.4L164.0,505.4L164.6,505.4L165.1,505.4L165.7,505.4L166.2,505.4L166.7,505.4L167.3,505.4L167.8,505.4L168.4,505.4L168.9,505.4L169.5,505.4L170.0,505.5L170.6,505.5L171.1,505.5L171.7,505.5L172.2,505.5L172.7,505.5L173.3,505.5L173.8,505.5L174.4,505.5L174.9,505.5L175.5,505.6L176.0,505.6L176.6,505.6L177.1,505.6L177.6,505.6L178.2,505.6L178.7,505.7L179.3,505.7L179.8,505.7L180.4,505.7L180.9,505.7L181.5,505.8L182.0,505.8L182.5,505.8L183.1,505.8L183.6,505.8L184.2,505.8L184.7,505.8L185.3,505.9L185.8,505.9L186.4,505.9L186.9,505.9L187.4,505.9L188.0,505.9L188.5,505.9L189.1,506.0L189.6,506.0L190.2,506.0L190.7,506.0L191.3,506.0L191.8,506.0L192.4,506.0L192.9,506.0L193.4,506.0L194.0,506.1L194.5,506.1L195.1,506.1L195.6,506.1L196.2,506.1L196.7,506.1L197.3,506.1L197.8,506.1" stroke="#ff6b6b"/>
<path d="M56.7,410.9L57.2,410.7L57.8,410.8L58.3,411.3L58.9,411.9L59.4,412.3L60.0,412.5L60.5,412.4L61.1,412.1L61.6,411.7L62.1,411.3L62.7,410.9L63.2,410.5L63.8,410.1L64.3,409.7L64.9,409.4L65.4,409.2L66.0,409.1L66.5,409.2L67.1,409.3L67.6,409.6L68.1,409.9L68.7,410.3L69.2,410.6L69.8,410.9L70.3,411.3L70.9,411.5L71.4,411.7L72.0,411.9L72.5,412.0L73.0,412.1L73.6,412.2L74.1,412.3L74.7,412.3L75.2,412.3L75.8,412.4L76.3,412.3L76.9,412.3L77.4,412.3L77.9,412.4L78.5,412.7L79.0,413.3L79.6,414.3L80.1,416.0L80.7,418.5L81.2,421.8L81.8,425.9L82.3,430.6L82.8,436.0L83.4,441.7L83.9,447.4L84.5,452.7L85.0,457.3L85.6,460.9L86.1,463.6L86.7,465.4L87.2,466.6L87.8,467.5L88.3,468.1L88.8,468.7L89.4,469.3L89.9,470.0L90.5,470.8L91.0,471.6L91.6,472.4L92.1,473.2L92.7,474.1L93.2,474.9L93.7,475.7L94.3,476.6L94.8,477.7L95.4,478.8L95.9,480.2L96.5,481.7L97.0,483.3L97.6,485.1L98.1,487.0L98.6,488.9L99.2,490.8L99.7,492.6L100.3,494.3L100.8,495.8L101.4,497.2L101.9,498.4L102.5,499.3L103.0,500.1L103.6,500.7L104.1,501.2L104.6,501.6L105.2,501.9L105.7,502.1L106.3,502.4L106.8,502.6L107.4,502.8L107.9,503.0L108.5,503.1L109.0,503.2L109.5,503.3L110.1,503.3L110.6,503.4L111.2,503.4L111.7,503.5L112.3,503.5L112.8,503.6L113.4,503.6L113.9,503.7L114.4,503.7L115.0,503.7L115.5,503.8L116.1,503.8L116.6,503.8L117.2,503.9L117.7,503.9L118.3,504.0L118.8,504.0L119.4,504.1L119.9,504.1L120.4,504.1L121.0,504.2L121.5,504.2L122.1,504.3L122.6,504.3L123.2,504.3L123.7,504.4L124.3,504.4L124.8,504.4L125.3,504.4L125.9,504.4L126.4,504.4L127.0,504.3L127.5,504.3L128.1,504.3L128.6,504.3L129.2,504.2L129.7,504.2L130.2,504.1L130.8,504.1L131.3,504.0L131.9,504.0L132.4,503.9L133.0,503.9L133.5,503.8L134.1,503.8L134.6,503.7L135.1,503.7L135.7,503.6L136.2,503.6L136.8,503.5L137.3,503.5L137.9,503.5L138.4,503.4L139.0,503.4L139.5,503.4L140.1,503.5L140.6,503.5L141.1,503.6L141.7,503.7L142.2,503.8L142.8,503.9L143.3,504.0L143.9,504.1L144.4,504.3L145.0,504.4L145.5,504.5L146.0,504.6L146.6,504.7L147.1,504.8L147.7,504.9L148.2,505.1L148.8,505.2L149.3,505.2L149.9,505.3L150.4,505.4L150.9,505.4L151.5,505.4L152.0,505.4L152.6,505.4L153.1,505.4L153.7,505.4L154.2,505.4L154.8,505.4L155.3,505.3L155.9,505.3L156.4,505.3L156.9,505.2L157.5,505.2L158.0,505.2L158.6,505.1L159.1,505.1L159.7,505.1L160.2,505.0L160.8,505.0L161.3,505.0L161.8,505.0L162.4,504.9L162.9,504.9L163.5,504.9L164.0,504.9L164.6,504.9L165.1,504.9L165.7,504.8L166.2,504.8L166.7,504.8L167.3,504.8L167.8,504.8L168.4,504.7L168.9,504.7L169.5,504.7L170.0,504.7L170.6,504.7L171.1,504.7L171.7,504.6L172.2,504.6L172.7,504.6L173.3,504.6L173.8,504.6L174.4,504.6L174.9,504.6L175.5,504.6L176.0,504.5L176.6,504.5L177.1,504.5L177.6,504.5L178.2,504.5L178.7,504.5L179.3,504.5L179.8,504.5L180.4,504.5L180.9,504.5L181.5,504.5L182.0,504.5L182.5,504.5L183.1,504.5L183.6,504.5L184.2,504.5L184.7,504.5L185.3,504.5L185.8,504.5L186.4,504.5L186.9,504.5L187.4,504.5L188.0,504.5L188.5,504.5L189.1,504.5L189.6,504.5L190.2,504.5L190.7,504.5L191.3,504.5L191.8,504.5L192.4,504.5L192.9,504.5L193.4,504.5L194.0,504.5L194.5,504.5L195.1,504.5L195.6,504.6L196.2,504.6L196.7,504.6L197.3,504.6L197.8,504.6" stroke="#6aaa1e"/>
<path d="M56.7,419.6L57.2,419.1L57.8,419.0L58.3,419.2L58.9,419.5L59.4,419.6L60.0,419.4L60.5,419.0L61.1,418.3L61.6,417.6L62.1,416.9L62.7,416.2L63.2,415.6L63.8,415.1L64.3,414.6L64.9,414.2L65.4,413.9L66.0,413.8L66.5,413.9L67.1,414.1L67.6,414.3L68.1,414.6L68.7,415.0L69.2,415.3L69.8,415.7L70.3,416.0L70.9,416.3L71.4,416.6L72.0,416.8L72.5,417.0L73.0,417.1L73.6,417.2L74.1,417.2L74.7,417.1L75.2,417.0L75.8,416.9L76.3,416.7L76.9,416.5L77.4,416.3L77.9,416.3L78.5,416.4L79.0,416.9L79.6,417.9L80.1,419.6L80.7,422.1L81.2,425.6L81.8,430.0L82.3,435.3L82.8,441.4L83.4,447.8L83.9,454.1L84.5,459.8L85.0,464.7L85.6,468.7L86.1,471.7L86.7,473.8L87.2,475.3L87.8,476.4L88.3,477.2L88.8,477.9L89.4,478.7L89.9,479.4L90.5,480.2L91.0,481.0L91.6,481.9L92.1,482.7L92.7,483.5L93.2,484.3L93.7,485.2L94.3,486.0L94.8,486.9L95.4,487.8L95.9,488.8L96.5,489.8L97.0,490.8L97.6,491.9L98.1,492.9L98.6,494.0L99.2,494.9L99.7,495.8L100.3,496.5L100.8,497.2L101.4,497.8L101.9,498.3L102.5,498.8L103.0,499.3L103.6,499.7L104.1,500.0L104.6,500.4L105.2,500.7L105.7,501.0L106.3,501.2L106.8,501.4L107.4,501.6L107.9,501.8L108.5,502.0L109.0,502.1L109.5,502.2L110.1,502.4L110.6,502.5L111.2,502.6L111.7,502.7L112.3,502.8L112.8,502.9L113.4,503.0L113.9,503.1L114.4,503.2L115.0,503.3L115.5,503.4L116.1,503.5L116.6,503.6L117.2,503.6L117.7,503.7L118.3,503.8L118.8,503.8L119.4,503.9L119.9,504.0L120.4,504.0L121.0,504.1L121.5,504.1L122.1,504.2L122.6,504.2L123.2,504.3L123.7,504.3L124.3,504.4L124.8,504.4L125.3,504.5L125.9,504.5L126.4,504.5L127.0,504.6L127.5,504.6L128.1,504.6L128.6,504.6L129.2,504.6L129.7,504.6L130.2,504.6L130.8,504.6L131.3,504.6L131.9,504.5L132.4,504.5L133.0,504.5L133.5,504.5L134.1,504.4L134.6,504.4L135.1,504.4L135.7,504.4L136.2,504.3L136.8,504.3L137.3,504.3L137.9,504.3L138.4,504.3L139.0,504.4L139.5,504.4L140.1,504.4L140.6,504.5L141.1,504.6L141.7,504.6L142.2,504.7L142.8,504.8L143.3,504.9L143.9,505.0L144.4,505.1L145.0,505.2L145.5,505.3L146.0,505.4L146.6,505.5L147.1,505.6L147.7,505.7L148.2,505.7L148.8,505.8L149.3,505.8L149.9,505.8L150.4,505.9L150.9,505.9L151.5,505.9L152.0,505.9L152.6,505.9L153.1,505.8L153.7,505.8L154.2,505.8L154.8,505.8L155.3,505.8L155.9,505.8L156.4,505.8L156.9,505.8L157.5,505.7L158.0,505.7L158.6,505.7L159.1,505.7L159.7,505.7L160.2,505.7L160.8,505.7L161.3,505.7L161.8,505.7L162.4,505.6L162.9,505.6L163.5,505.6L164.0,505.6L164.6,505.6L165.1,505.6L165.7,505.6L166.2,505.6L166.7,505.6L167.3,505.6L167.8,505.6L168.4,505.6L168.9,505.6L169.5,505.6L170.0,505.6L170.6,505.6L171.1,505.6L171.7,505.5L172.2,505.5L172.7,505.5L173.3,505.5L173.8,505.5L174.4,505.5L174.9,505.5L175.5,505.5L176.0,505.5L176.6,505.5L177.1,505.5L177.6,505.5L178.2,505.5L178.7,505.5L179.3,505.5L179.8,505.5L180.4,505.5L180.9,505.5L181.5,505.5L182.0,505.5L182.5,505.5L183.1,505.5L183.6,505.5L184.2,505.5L184.7,505.5L185.3,505.5L185.8,505.5L186.4,505.5L186.9,505.5L187.4,505.5L188.0,505.5L188.5,505.5L189.1,505.5L189.6,505.5L190.2,505.5L190.7,505.5L191.3,505.5L191.8,505.5L192.4,505.5L192.9,505.5L193.4,505.5L194.0,505.5L194.5,505.5L195.1,505.5L195.6,505.5L196.2,505.5L196.7,505.5L197.3,505.5L197.8,505.5" stroke="#4db8ff"/>
</g>
<path d="M56.7,520.3v-2.6M103.73,520.3v-2.6M150.77,520.3v-2.6M197.8,520.3v-2.6M80.22,520.3v-1.6M127.25,520.3v-1.6M174.28,520.3v-1.6M56.7,508.48h2.6M56.7,484.85h2.6M56.7,461.21h2.6M56.7,437.57h2.6M56.7,413.94h2.6M56.7,390.3h2.6M56.7,496.66h1.6M56.7,473.03h1.6M56.7,449.39h1.6M56.7,425.75h1.6M56.7,402.12h1.6" stroke="#000" stroke-width="1" fill="none"/>
<rect x="56.7" y="390.3" width="141.1" height="130" fill="none" stroke="#000" stroke-width="1.15"/>
<g font-family="'Liberation Sans', Arial, sans-serif" font-weight="bold" font-size="9.7" fill="#000">
<text x="56.7" y="531.2" text-anchor="middle">200</text>
<text x="103.73" y="531.2" text-anchor="middle">400</text>
<text x="150.77" y="531.2" text-anchor="middle">600</text>
<text x="197.8" y="531.2" text-anchor="middle">800</text>
<text x="53.7" y="511.83" text-anchor="end">0.0</text>
<text x="53.7" y="488.19" text-anchor="end">0.2</text>
<text x="53.7" y="464.56" text-anchor="end">0.4</text>
<text x="53.7" y="440.92" text-anchor="end">0.6</text>
<text x="53.7" y="417.28" text-anchor="end">0.8</text>
<text x="53.7" y="393.65" text-anchor="end">1.0</text>
</g>
<g font-family="'Liberation Sans', Arial, sans-serif" font-weight="bold" font-size="11.2" fill="#000">
<text x="127.2" y="543.4" text-anchor="middle">Wavelength (nm)</text>
<text transform="translate(32.4,455.2) rotate(-90)" text-anchor="middle">Absorbance (a.u.)</text>
</g>
<g font-family="'Liberation Sans', Arial, sans-serif" font-weight="bold" font-size="8.35" fill="#000">
<path d="M122.6,402.8H140.5" stroke="#4db8ff" stroke-width="1.3"/>
<text x="143.2" y="405.81">CLCE-R-P1</text>
<path d="M122.6,412.85H140.5" stroke="#6aaa1e" stroke-width="1.3"/>
<text x="143.2" y="415.86">CLCE-R-P2</text>
<path d="M122.6,422.9H140.5" stroke="#ff6b6b" stroke-width="1.3"/>
<text x="143.2" y="425.91">CLCE-R-P3</text>
</g>
<clipPath id="cpe"><rect x="252.2" y="390.3" width="139.6" height="130.1"/></clipPath>
<g clip-path="url(#cpe)" fill="none" stroke-width="1.4" stroke-linejoin="round">
<path d="M252.2,464.0L252.7,464.3L253.3,464.7L253.8,465.2L254.4,465.7L254.9,466.3L255.4,466.9L256.0,467.5L256.5,468.1L257.0,468.8L257.6,469.4L258.1,470.1L258.7,470.7L259.2,471.3L259.7,471.9L260.3,472.5L260.8,473.1L261.4,473.6L261.9,474.1L262.4,474.6L263.0,475.0L263.5,475.3L264.0,475.5L264.6,475.6L265.1,475.6L265.7,475.5L266.2,475.4L266.7,475.1L267.3,474.9L267.8,474.6L268.3,474.3L268.9,473.9L269.4,473.6L270.0,473.2L270.5,472.8L271.0,472.5L271.6,472.1L272.1,471.7L272.7,471.3L273.2,470.9L273.7,470.4L274.3,469.9L274.8,469.4L275.3,468.8L275.9,468.2L276.4,467.5L277.0,466.8L277.5,466.1L278.0,465.3L278.6,464.6L279.1,463.8L279.7,463.0L280.2,462.2L280.7,461.4L281.3,460.5L281.8,459.7L282.3,458.8L282.9,458.0L283.4,457.2L284.0,456.4L284.5,455.6L285.0,454.9L285.6,454.3L286.1,453.6L286.7,453.0L287.2,452.4L287.7,451.8L288.3,451.2L288.8,450.6L289.3,450.1L289.9,449.5L290.4,448.9L291.0,448.3L291.5,447.8L292.0,447.2L292.6,446.6L293.1,446.1L293.6,445.5L294.2,445.0L294.7,444.4L295.3,443.9L295.8,443.3L296.3,442.7L296.9,442.2L297.4,441.6L298.0,440.9L298.5,440.2L299.0,439.5L299.6,438.7L300.1,437.8L300.6,436.9L301.2,435.8L301.7,434.7L302.3,433.4L302.8,431.9L303.3,430.4L303.9,428.7L304.4,427.0L305.0,425.2L305.5,423.3L306.0,421.4L306.6,419.3L307.1,417.2L307.6,415.0L308.2,412.7L308.7,410.6L309.3,408.7L309.8,407.0L310.3,405.6L310.9,404.4L311.4,403.4L312.0,402.6L312.5,402.1L313.0,401.8L313.6,401.9L314.1,402.3L314.6,403.3L315.2,404.7L315.7,406.5L316.3,408.9L316.8,411.6L317.3,414.8L317.9,418.1L318.4,421.6L318.9,425.0L319.5,428.4L320.0,431.8L320.6,435.0L321.1,438.3L321.6,441.4L322.2,444.6L322.7,447.6L323.3,450.6L323.8,453.4L324.3,456.1L324.9,458.6L325.4,460.8L325.9,462.8L326.5,464.5L327.0,466.0L327.6,467.3L328.1,468.4L328.6,469.5L329.2,470.4L329.7,471.3L330.3,472.2L330.8,473.0L331.3,473.8L331.9,474.6L332.4,475.3L332.9,475.9L333.5,476.5L334.0,477.1L334.6,477.7L335.1,478.2L335.6,478.7L336.2,479.2L336.7,479.6L337.3,479.9L337.8,480.2L338.3,480.4L338.9,480.7L339.4,480.9L339.9,481.1L340.5,481.3L341.0,481.5L341.6,481.7L342.1,482.0L342.6,482.2L343.2,482.4L343.7,482.6L344.2,482.8L344.8,483.0L345.3,483.2L345.9,483.4L346.4,483.6L346.9,483.7L347.5,483.9L348.0,484.1L348.6,484.3L349.1,484.5L349.6,484.7L350.2,484.9L350.7,485.1L351.2,485.3L351.8,485.5L352.3,485.7L352.9,485.8L353.4,486.0L353.9,486.2L354.5,486.4L355.0,486.6L355.6,486.8L356.1,487.0L356.6,487.2L357.2,487.4L357.7,487.6L358.2,487.7L358.8,487.9L359.3,488.1L359.9,488.3L360.4,488.5L360.9,488.7L361.5,488.9L362.0,489.1L362.6,489.2L363.1,489.4L363.6,489.6L364.2,489.8L364.7,490.0L365.2,490.2L365.8,490.3L366.3,490.5L366.9,490.7L367.4,490.9L367.9,491.1L368.5,491.3L369.0,491.5L369.5,491.6L370.1,491.8L370.6,492.0L371.2,492.2L371.7,492.4L372.2,492.6L372.8,492.8L373.3,492.9L373.9,493.1L374.4,493.3L374.9,493.5L375.5,493.7L376.0,493.9L376.5,494.1L377.1,494.3L377.6,494.5L378.2,494.7L378.7,494.9L379.2,495.1L379.8,495.3L380.3,495.5L380.9,495.7L381.4,495.9L381.9,496.0L382.5,496.2L383.0,496.4L383.5,496.6L384.1,496.8L384.6,497.0L385.2,497.2L385.7,497.4L386.2,497.6L386.8,497.8L387.3,498.0L387.9,498.2L388.4,498.4L388.9,498.6L389.5,498.8L390.0,499.0L390.5,499.2L391.1,499.4L391.6,499.5" stroke="#4db8ff"/>
<path d="M252.2,488.4L252.7,488.4L253.3,488.4L253.8,488.6L254.4,488.8L254.9,489.0L255.4,489.4L256.0,489.8L256.5,490.4L257.0,491.0L257.6,491.7L258.1,492.6L258.7,493.5L259.2,494.6L259.7,495.8L260.3,497.1L260.8,498.3L261.4,499.6L261.9,500.8L262.4,501.9L263.0,502.9L263.5,503.9L264.0,504.9L264.6,505.8L265.1,506.7L265.7,507.5L266.2,508.2L266.7,508.7L267.3,509.0L267.8,509.1L268.3,508.7L268.9,508.0L269.4,507.0L270.0,505.7L270.5,504.2L271.0,502.5L271.6,500.6L272.1,498.5L272.7,496.3L273.2,493.9L273.7,491.4L274.3,488.8L274.8,486.0L275.3,483.1L275.9,480.1L276.4,476.8L277.0,473.5L277.5,470.0L278.0,466.5L278.6,463.1L279.1,459.6L279.7,456.0L280.2,452.5L280.7,449.0L281.3,445.5L281.8,441.9L282.3,438.4L282.9,434.9L283.4,431.5L284.0,428.1L284.5,424.9L285.0,421.8L285.6,419.0L286.1,416.3L286.7,413.8L287.2,411.5L287.7,409.4L288.3,407.6L288.8,406.1L289.3,404.9L289.9,403.9L290.4,403.0L291.0,402.4L291.5,401.9L292.0,401.6L292.6,401.5L293.1,401.5L293.6,401.6L294.2,401.7L294.7,401.9L295.3,402.1L295.8,402.4L296.3,402.7L296.9,403.0L297.4,403.3L298.0,403.7L298.5,404.0L299.0,404.4L299.6,404.7L300.1,405.1L300.6,405.5L301.2,405.8L301.7,406.2L302.3,406.6L302.8,407.0L303.3,407.4L303.9,407.8L304.4,408.3L305.0,408.7L305.5,409.1L306.0,409.5L306.6,410.0L307.1,410.5L307.6,410.9L308.2,411.5L308.7,412.0L309.3,412.6L309.8,413.2L310.3,413.9L310.9,414.6L311.4,415.3L312.0,416.1L312.5,416.9L313.0,417.9L313.6,418.9L314.1,420.1L314.6,421.4L315.2,422.7L315.7,424.2L316.3,425.8L316.8,427.4L317.3,429.2L317.9,431.0L318.4,433.0L318.9,435.1L319.5,437.3L320.0,439.7L320.6,442.2L321.1,444.8L321.6,447.5L322.2,450.1L322.7,452.7L323.3,455.2L323.8,457.6L324.3,459.9L324.9,462.1L325.4,464.2L325.9,466.3L326.5,468.2L327.0,469.9L327.6,471.6L328.1,473.1L328.6,474.4L329.2,475.5L329.7,476.5L330.3,477.4L330.8,478.1L331.3,478.6L331.9,479.0L332.4,479.3L332.9,479.5L333.5,479.5L334.0,479.5L334.6,479.4L335.1,479.2L335.6,479.0L336.2,478.8L336.7,478.5L337.3,478.2L337.8,477.9L338.3,477.6L338.9,477.3L339.4,477.1L339.9,476.9L340.5,476.7L341.0,476.5L341.6,476.3L342.1,476.1L342.6,476.0L343.2,475.9L343.7,475.8L344.2,475.7L344.8,475.7L345.3,475.6L345.9,475.6L346.4,475.6L346.9,475.6L347.5,475.6L348.0,475.6L348.6,475.6L349.1,475.5L349.6,475.5L350.2,475.5L350.7,475.5L351.2,475.5L351.8,475.5L352.3,475.5L352.9,475.5L353.4,475.5L353.9,475.5L354.5,475.5L355.0,475.4L355.6,475.4L356.1,475.4L356.6,475.4L357.2,475.4L357.7,475.3L358.2,475.3L358.8,475.3L359.3,475.3L359.9,475.3L360.4,475.2L360.9,475.2L361.5,475.2L362.0,475.2L362.6,475.2L363.1,475.1L363.6,475.1L364.2,475.1L364.7,475.1L365.2,475.1L365.8,475.0L366.3,475.0L366.9,475.0L367.4,475.0L367.9,475.0L368.5,474.9L369.0,474.9L369.5,474.9L370.1,474.9L370.6,474.9L371.2,474.9L371.7,474.8L372.2,474.8L372.8,474.8L373.3,474.8L373.9,474.8L374.4,474.7L374.9,474.7L375.5,474.7L376.0,474.7L376.5,474.7L377.1,474.7L377.6,474.6L378.2,474.6L378.7,474.6L379.2,474.6L379.8,474.6L380.3,474.6L380.9,474.5L381.4,474.5L381.9,474.5L382.5,474.5L383.0,474.5L383.5,474.5L384.1,474.4L384.6,474.4L385.2,474.4L385.7,474.4L386.2,474.4L386.8,474.4L387.3,474.4L387.9,474.3L388.4,474.3L388.9,474.3L389.5,474.3L390.0,474.3L390.5,474.3L391.1,474.2L391.6,474.2" stroke="#3cb43c"/>
<path d="M252.2,493.7L252.7,494.3L253.3,495.0L253.8,495.9L254.4,496.7L254.9,497.6L255.4,498.4L256.0,499.1L256.5,499.8L257.0,500.4L257.6,501.0L258.1,501.6L258.7,502.1L259.2,502.6L259.7,503.1L260.3,503.6L260.8,504.0L261.4,504.4L261.9,504.9L262.4,505.3L263.0,505.7L263.5,506.0L264.0,506.2L264.6,506.4L265.1,506.4L265.7,506.3L266.2,506.1L266.7,505.7L267.3,505.3L267.8,504.8L268.3,504.3L268.9,503.8L269.4,503.2L270.0,502.7L270.5,502.1L271.0,501.6L271.6,501.1L272.1,500.7L272.7,500.4L273.2,500.2L273.7,500.1L274.3,500.1L274.8,500.2L275.3,500.4L275.9,500.6L276.4,500.8L277.0,501.0L277.5,501.1L278.0,501.1L278.6,501.0L279.1,500.7L279.7,500.3L280.2,499.8L280.7,499.2L281.3,498.5L281.8,497.7L282.3,496.7L282.9,495.8L283.4,494.7L284.0,493.6L284.5,492.3L285.0,491.1L285.6,489.8L286.1,488.5L286.7,487.2L287.2,485.9L287.7,484.7L288.3,483.5L288.8,482.4L289.3,481.3L289.9,480.2L290.4,479.2L291.0,478.3L291.5,477.3L292.0,476.5L292.6,475.7L293.1,474.9L293.6,474.3L294.2,473.7L294.7,473.2L295.3,472.6L295.8,472.1L296.3,471.6L296.9,471.0L297.4,470.4L298.0,469.7L298.5,469.0L299.0,468.3L299.6,467.4L300.1,466.5L300.6,465.6L301.2,464.5L301.7,463.3L302.3,461.9L302.8,460.2L303.3,458.1L303.9,455.8L304.4,453.1L305.0,450.1L305.5,446.8L306.0,443.3L306.6,439.7L307.1,436.0L307.6,432.2L308.2,428.5L308.7,424.9L309.3,421.4L309.8,418.0L310.3,414.7L310.9,411.6L311.4,408.8L312.0,406.4L312.5,404.7L313.0,403.6L313.6,403.0L314.1,403.1L314.6,403.7L315.2,405.2L315.7,407.5L316.3,410.7L316.8,414.4L317.3,418.5L317.9,422.7L318.4,426.9L318.9,431.1L319.5,435.3L320.0,439.6L320.6,443.8L321.1,448.0L321.6,452.1L322.2,456.1L322.7,459.9L323.3,463.4L323.8,466.5L324.3,469.2L324.9,471.5L325.4,473.4L325.9,475.2L326.5,476.7L327.0,478.1L327.6,479.4L328.1,480.6L328.6,481.7L329.2,482.7L329.7,483.6L330.3,484.5L330.8,485.2L331.3,486.0L331.9,486.7L332.4,487.3L332.9,488.0L333.5,488.7L334.0,489.3L334.6,490.0L335.1,490.6L335.6,491.1L336.2,491.7L336.7,492.2L337.3,492.7L337.8,493.1L338.3,493.6L338.9,494.0L339.4,494.4L339.9,494.8L340.5,495.2L341.0,495.6L341.6,496.0L342.1,496.3L342.6,496.6L343.2,496.9L343.7,497.2L344.2,497.4L344.8,497.7L345.3,497.9L345.9,498.0L346.4,498.2L346.9,498.4L347.5,498.6L348.0,498.7L348.6,498.9L349.1,499.1L349.6,499.2L350.2,499.4L350.7,499.5L351.2,499.7L351.8,499.8L352.3,499.9L352.9,500.1L353.4,500.2L353.9,500.3L354.5,500.4L355.0,500.5L355.6,500.6L356.1,500.7L356.6,500.8L357.2,500.9L357.7,501.0L358.2,501.1L358.8,501.2L359.3,501.3L359.9,501.4L360.4,501.5L360.9,501.5L361.5,501.6L362.0,501.7L362.6,501.8L363.1,501.9L363.6,502.0L364.2,502.1L364.7,502.2L365.2,502.3L365.8,502.4L366.3,502.5L366.9,502.6L367.4,502.6L367.9,502.7L368.5,502.8L369.0,502.9L369.5,503.0L370.1,503.1L370.6,503.2L371.2,503.3L371.7,503.4L372.2,503.4L372.8,503.5L373.3,503.6L373.9,503.7L374.4,503.8L374.9,503.9L375.5,504.0L376.0,504.0L376.5,504.1L377.1,504.2L377.6,504.3L378.2,504.4L378.7,504.5L379.2,504.5L379.8,504.6L380.3,504.7L380.9,504.8L381.4,504.9L381.9,505.0L382.5,505.1L383.0,505.1L383.5,505.2L384.1,505.3L384.6,505.4L385.2,505.5L385.7,505.6L386.2,505.6L386.8,505.7L387.3,505.8L387.9,505.9L388.4,506.0L388.9,506.1L389.5,506.1L390.0,506.2L390.5,506.3L391.1,506.4L391.6,506.4" stroke="#ff1a1a"/>
</g>
<path d="M265.69,520.4v-2.6M292.68,520.4v-2.6M319.66,520.4v-2.6M346.65,520.4v-2.6M373.63,520.4v-2.6M279.18,520.4v-1.6M306.17,520.4v-1.6M333.15,520.4v-1.6M360.14,520.4v-1.6M387.12,520.4v-1.6M252.2,509.5h2.6M252.2,487.86h2.6M252.2,466.22h2.6M252.2,444.58h2.6M252.2,422.94h2.6M252.2,401.3h2.6M252.2,498.68h1.6M252.2,477.04h1.6M252.2,455.4h1.6M252.2,433.76h1.6M252.2,412.12h1.6" stroke="#000" stroke-width="1" fill="none"/>
<rect x="252.2" y="390.3" width="139.6" height="130.1" fill="none" stroke="#000" stroke-width="1.15"/>
<g font-family="'Liberation Sans', Arial, sans-serif" font-weight="bold" font-size="9.7" fill="#000">
<text x="265.69" y="530.8" text-anchor="middle">240</text>
<text x="292.68" y="530.8" text-anchor="middle">270</text>
<text x="319.66" y="530.8" text-anchor="middle">300</text>
<text x="346.65" y="530.8" text-anchor="middle">330</text>
<text x="373.63" y="530.8" text-anchor="middle">360</text>
<text x="249.3" y="512.85" text-anchor="end">0.0</text>
<text x="249.3" y="491.21" text-anchor="end">0.2</text>
<text x="249.3" y="469.57" text-anchor="end">0.4</text>
<text x="249.3" y="447.93" text-anchor="end">0.6</text>
<text x="249.3" y="426.29" text-anchor="end">0.8</text>
<text x="249.3" y="404.65" text-anchor="end">1.0</text>
</g>
<g font-family="'Liberation Sans', Arial, sans-serif" font-weight="bold" font-size="11.2" fill="#000">
<text x="322.3" y="544.2" text-anchor="middle">Wavelength (nm)</text>
<text transform="translate(229.6,454.8) rotate(-90)" text-anchor="middle">CD (a.u.)</text>
</g>
<g font-family="'Liberation Sans', Arial, sans-serif" font-weight="bold" font-size="8.15" fill="#000">
<path d="M324.1,402.8H342.6" stroke="#4db8ff" stroke-width="1.4"/>
<text x="345.3" y="405.73">CLCE-R-P1</text>
<path d="M324.1,412.85H342.6" stroke="#3cb43c" stroke-width="1.4"/>
<text x="345.3" y="415.78">CLCE-R-P2</text>
<path d="M324.1,422.9H342.6" stroke="#ff1a1a" stroke-width="1.4"/>
<text x="345.3" y="425.83">CLCE-R-P3</text>
</g>
<clipPath id="cpg"><rect x="56.7" y="563.6" width="163.1" height="131.4"/></clipPath>
<g clip-path="url(#cpg)" fill="none" stroke-width="1.5" stroke-linejoin="round">
<path d="M56.7,670.9L57.3,671.8L58.0,673.0L58.6,674.3L59.2,675.6L59.8,676.9L60.5,678.2L61.1,679.4L61.7,680.5L62.4,681.6L63.0,682.7L63.6,683.6L64.3,684.5L64.9,685.2L65.5,685.9L66.1,686.5L66.8,687.1L67.4,687.6L68.0,688.1L68.7,688.5L69.3,688.8L69.9,689.1L70.6,689.3L71.2,689.5L71.8,689.7L72.4,689.8L73.1,690.0L73.7,690.1L74.3,690.1L75.0,690.2L75.6,690.2L76.2,690.2L76.9,690.2L77.5,690.2L78.1,690.1L78.7,690.1L79.4,690.1L80.0,690.0L80.6,690.0L81.3,690.0L81.9,689.9L82.5,689.9L83.1,689.8L83.8,689.8L84.4,689.7L85.0,689.7L85.7,689.6L86.3,689.6L86.9,689.5L87.6,689.5L88.2,689.4L88.8,689.3L89.4,689.3L90.1,689.2L90.7,689.2L91.3,689.1L92.0,689.0L92.6,688.9L93.2,688.9L93.9,688.8L94.5,688.7L95.1,688.7L95.7,688.6L96.4,688.5L97.0,688.4L97.6,688.4L98.3,688.3L98.9,688.2L99.5,688.2L100.2,688.1L100.8,688.0L101.4,688.0L102.0,687.9L102.7,687.8L103.3,687.8L103.9,687.7L104.6,687.7L105.2,687.7L105.8,687.6L106.4,687.6L107.1,687.6L107.7,687.5L108.3,687.5L109.0,687.5L109.6,687.5L110.2,687.4L110.9,687.4L111.5,687.4L112.1,687.3L112.7,687.3L113.4,687.3L114.0,687.2L114.6,687.2L115.3,687.2L115.9,687.1L116.5,687.0L117.2,687.0L117.8,686.9L118.4,686.8L119.0,686.7L119.7,686.6L120.3,686.5L120.9,686.4L121.6,686.3L122.2,686.1L122.8,686.0L123.5,685.8L124.1,685.7L124.7,685.5L125.3,685.4L126.0,685.2L126.6,685.0L127.2,684.9L127.9,684.7L128.5,684.5L129.1,684.3L129.7,684.1L130.4,683.9L131.0,683.6L131.6,683.3L132.3,683.0L132.9,682.7L133.5,682.4L134.2,682.0L134.8,681.7L135.4,681.3L136.0,680.9L136.7,680.4L137.3,680.0L137.9,679.5L138.6,679.0L139.2,678.5L139.8,677.9L140.5,677.3L141.1,676.7L141.7,676.1L142.3,675.4L143.0,674.7L143.6,674.0L144.2,673.3L144.9,672.6L145.5,671.8L146.1,671.1L146.8,670.3L147.4,669.4L148.0,668.4L148.6,667.2L149.3,665.9L149.9,664.4L150.5,662.7L151.2,660.9L151.8,658.9L152.4,656.9L153.0,654.8L153.7,652.6L154.3,650.4L154.9,648.2L155.6,646.0L156.2,643.8L156.8,641.6L157.5,639.6L158.1,637.7L158.7,636.1L159.3,634.6L160.0,633.5L160.6,632.5L161.2,631.8L161.9,631.3L162.5,631.0L163.1,630.7L163.8,630.6L164.4,630.5L165.0,630.4L165.6,630.3L166.3,630.2L166.9,630.0L167.5,629.9L168.2,629.7L168.8,629.5L169.4,629.3L170.1,629.1L170.7,628.9L171.3,628.9L171.9,628.9L172.6,629.0L173.2,629.3L173.8,629.6L174.5,629.9L175.1,630.1L175.7,630.4L176.3,630.5L177.0,630.7L177.6,630.8L178.2,630.9L178.9,631.0L179.5,631.2L180.1,631.5L180.8,632.0L181.4,632.9L182.0,634.4L182.6,636.3L183.3,638.7L183.9,641.3L184.5,644.0L185.2,646.8L185.8,649.5L186.4,652.3L187.1,655.0L187.7,657.8L188.3,660.5L188.9,663.3L189.6,666.0L190.2,668.7L190.8,671.3L191.5,673.6L192.1,675.6L192.7,677.2L193.4,678.4L194.0,679.3L194.6,680.0L195.2,680.7L195.9,681.2L196.5,681.8L197.1,682.3L197.8,682.7L198.4,683.1L199.0,683.5L199.6,683.8L200.3,684.0L200.9,684.2L201.5,684.4L202.2,684.6L202.8,684.8L203.4,684.9L204.1,685.1L204.7,685.3L205.3,685.4L205.9,685.6L206.6,685.7L207.2,685.9L207.8,686.0L208.5,686.2L209.1,686.3L209.7,686.4L210.4,686.5L211.0,686.6L211.6,686.7L212.2,686.8L212.9,686.9L213.5,687.0L214.1,687.1L214.8,687.2L215.4,687.3L216.0,687.4L216.7,687.5L217.3,687.6L217.9,687.7L218.5,687.7L219.2,687.8L219.8,687.8" stroke="#ff2020"/>
<path d="M56.7,667.2L57.3,668.3L58.0,669.8L58.6,671.4L59.2,672.9L59.8,674.4L60.5,675.8L61.1,677.0L61.7,678.2L62.4,679.3L63.0,680.3L63.6,681.3L64.3,682.2L64.9,683.1L65.5,683.8L66.1,684.6L66.8,685.2L67.4,685.8L68.0,686.3L68.7,686.6L69.3,686.9L69.9,687.1L70.6,687.2L71.2,687.3L71.8,687.4L72.4,687.4L73.1,687.4L73.7,687.5L74.3,687.5L75.0,687.4L75.6,687.4L76.2,687.4L76.9,687.4L77.5,687.3L78.1,687.3L78.7,687.2L79.4,687.2L80.0,687.1L80.6,687.1L81.3,687.0L81.9,687.0L82.5,686.9L83.1,686.9L83.8,686.8L84.4,686.7L85.0,686.6L85.7,686.6L86.3,686.5L86.9,686.4L87.6,686.3L88.2,686.2L88.8,686.1L89.4,685.9L90.1,685.8L90.7,685.6L91.3,685.5L92.0,685.3L92.6,685.1L93.2,684.9L93.9,684.7L94.5,684.5L95.1,684.3L95.7,684.1L96.4,683.8L97.0,683.6L97.6,683.4L98.3,683.1L98.9,682.9L99.5,682.6L100.2,682.4L100.8,682.1L101.4,681.8L102.0,681.6L102.7,681.3L103.3,681.0L103.9,680.8L104.6,680.5L105.2,680.1L105.8,679.8L106.4,679.5L107.1,679.1L107.7,678.8L108.3,678.4L109.0,678.0L109.6,677.6L110.2,677.2L110.9,676.8L111.5,676.4L112.1,676.0L112.7,675.6L113.4,675.2L114.0,674.8L114.6,674.4L115.3,673.9L115.9,673.5L116.5,672.9L117.2,672.4L117.8,671.8L118.4,671.1L119.0,670.3L119.7,669.6L120.3,668.7L120.9,667.8L121.6,666.9L122.2,665.9L122.8,664.9L123.5,663.9L124.1,662.8L124.7,661.6L125.3,660.3L126.0,659.0L126.6,657.5L127.2,655.8L127.9,653.9L128.5,651.9L129.1,649.7L129.7,647.4L130.4,645.0L131.0,642.5L131.6,639.7L132.3,636.8L132.9,633.7L133.5,630.4L134.2,627.0L134.8,623.6L135.4,620.4L136.0,617.3L136.7,614.5L137.3,611.8L137.9,609.4L138.6,607.2L139.2,605.3L139.8,603.7L140.5,602.4L141.1,601.4L141.7,600.5L142.3,599.7L143.0,599.1L143.6,598.5L144.2,598.0L144.9,597.6L145.5,597.3L146.1,597.1L146.8,597.1L147.4,597.2L148.0,597.3L148.6,597.6L149.3,597.8L149.9,598.0L150.5,598.2L151.2,598.4L151.8,598.6L152.4,598.8L153.0,599.0L153.7,599.3L154.3,599.8L154.9,600.3L155.6,601.0L156.2,601.8L156.8,602.9L157.5,604.1L158.1,605.5L158.7,607.3L159.3,609.3L160.0,611.5L160.6,614.1L161.2,616.8L161.9,619.8L162.5,622.9L163.1,626.1L163.8,629.3L164.4,632.5L165.0,635.7L165.6,638.9L166.3,642.0L166.9,645.1L167.5,648.2L168.2,651.1L168.8,654.1L169.4,657.0L170.1,659.8L170.7,662.4L171.3,664.9L171.9,667.2L172.6,669.2L173.2,670.9L173.8,672.4L174.5,673.6L175.1,674.7L175.7,675.5L176.3,676.2L177.0,676.9L177.6,677.4L178.2,678.0L178.9,678.5L179.5,679.0L180.1,679.4L180.8,679.9L181.4,680.3L182.0,680.6L182.6,680.9L183.3,681.2L183.9,681.4L184.5,681.6L185.2,681.8L185.8,681.9L186.4,682.1L187.1,682.3L187.7,682.4L188.3,682.6L188.9,682.7L189.6,682.9L190.2,683.0L190.8,683.2L191.5,683.3L192.1,683.5L192.7,683.6L193.4,683.8L194.0,683.9L194.6,684.0L195.2,684.1L195.9,684.3L196.5,684.4L197.1,684.5L197.8,684.7L198.4,684.8L199.0,684.9L199.6,685.1L200.3,685.2L200.9,685.3L201.5,685.4L202.2,685.6L202.8,685.7L203.4,685.8L204.1,685.9L204.7,686.1L205.3,686.2L205.9,686.3L206.6,686.4L207.2,686.5L207.8,686.6L208.5,686.8L209.1,686.9L209.7,687.0L210.4,687.1L211.0,687.2L211.6,687.3L212.2,687.4L212.9,687.5L213.5,687.6L214.1,687.7L214.8,687.8L215.4,687.9L216.0,688.0L216.7,688.1L217.3,688.2L217.9,688.3L218.5,688.4L219.2,688.5L219.8,688.5" stroke="#ff8020"/>
<path d="M56.7,673.3L57.3,674.2L58.0,675.4L58.6,676.7L59.2,678.0L59.8,679.3L60.5,680.4L61.1,681.5L61.7,682.6L62.4,683.5L63.0,684.4L63.6,685.2L64.3,685.9L64.9,686.5L65.5,687.1L66.1,687.6L66.8,688.0L67.4,688.3L68.0,688.6L68.7,688.8L69.3,688.9L69.9,689.0L70.6,689.1L71.2,689.1L71.8,689.1L72.4,689.0L73.1,689.0L73.7,688.9L74.3,688.9L75.0,688.8L75.6,688.7L76.2,688.6L76.9,688.5L77.5,688.4L78.1,688.2L78.7,688.1L79.4,687.9L80.0,687.8L80.6,687.6L81.3,687.4L81.9,687.3L82.5,687.1L83.1,686.9L83.8,686.7L84.4,686.5L85.0,686.2L85.7,686.0L86.3,685.8L86.9,685.5L87.6,685.3L88.2,685.0L88.8,684.7L89.4,684.4L90.1,684.1L90.7,683.7L91.3,683.3L92.0,682.8L92.6,682.3L93.2,681.7L93.9,681.1L94.5,680.5L95.1,679.8L95.7,679.2L96.4,678.5L97.0,677.7L97.6,677.0L98.3,676.3L98.9,675.5L99.5,674.7L100.2,673.9L100.8,673.1L101.4,672.2L102.0,671.3L102.7,670.3L103.3,669.3L103.9,668.1L104.6,667.0L105.2,665.7L105.8,664.4L106.4,663.0L107.1,661.5L107.7,659.9L108.3,658.2L109.0,656.4L109.6,654.4L110.2,652.4L110.9,650.2L111.5,647.8L112.1,645.4L112.7,642.9L113.4,640.3L114.0,637.6L114.6,634.9L115.3,632.1L115.9,629.3L116.5,626.3L117.2,623.3L117.8,620.2L118.4,617.1L119.0,614.1L119.7,611.1L120.3,608.3L120.9,605.5L121.6,602.9L122.2,600.5L122.8,598.2L123.5,596.0L124.1,594.1L124.7,592.2L125.3,590.6L126.0,589.1L126.6,587.9L127.2,586.8L127.9,585.9L128.5,585.2L129.1,584.6L129.7,584.1L130.4,583.9L131.0,583.8L131.6,583.8L132.3,584.0L132.9,584.4L133.5,584.9L134.2,585.7L134.8,586.5L135.4,587.5L136.0,588.7L136.7,590.1L137.3,591.6L137.9,593.3L138.6,595.3L139.2,597.5L139.8,600.0L140.5,602.7L141.1,605.5L141.7,608.5L142.3,611.4L143.0,614.5L143.6,617.5L144.2,620.5L144.9,623.6L145.5,626.7L146.1,629.8L146.8,632.9L147.4,636.1L148.0,639.3L148.6,642.4L149.3,645.6L149.9,648.7L150.5,651.7L151.2,654.7L151.8,657.4L152.4,659.9L153.0,662.2L153.7,664.2L154.3,666.0L154.9,667.6L155.6,669.1L156.2,670.5L156.8,671.8L157.5,673.1L158.1,674.3L158.7,675.5L159.3,676.6L160.0,677.6L160.6,678.5L161.2,679.3L161.9,679.9L162.5,680.5L163.1,681.0L163.8,681.4L164.4,681.8L165.0,682.2L165.6,682.5L166.3,682.8L166.9,683.2L167.5,683.5L168.2,683.7L168.8,684.0L169.4,684.2L170.1,684.3L170.7,684.5L171.3,684.6L171.9,684.7L172.6,684.8L173.2,685.0L173.8,685.1L174.5,685.2L175.1,685.3L175.7,685.4L176.3,685.5L177.0,685.6L177.6,685.7L178.2,685.8L178.9,685.9L179.5,686.0L180.1,686.1L180.8,686.2L181.4,686.3L182.0,686.4L182.6,686.5L183.3,686.6L183.9,686.7L184.5,686.8L185.2,686.9L185.8,687.0L186.4,687.1L187.1,687.1L187.7,687.2L188.3,687.3L188.9,687.4L189.6,687.4L190.2,687.5L190.8,687.6L191.5,687.7L192.1,687.7L192.7,687.8L193.4,687.9L194.0,688.0L194.6,688.0L195.2,688.1L195.9,688.2L196.5,688.3L197.1,688.3L197.8,688.4L198.4,688.5L199.0,688.6L199.6,688.6L200.3,688.7L200.9,688.8L201.5,688.8L202.2,688.9L202.8,688.9L203.4,689.0L204.1,689.1L204.7,689.1L205.3,689.2L205.9,689.2L206.6,689.3L207.2,689.3L207.8,689.4L208.5,689.4L209.1,689.5L209.7,689.5L210.4,689.5L211.0,689.6L211.6,689.6L212.2,689.6L212.9,689.6L213.5,689.7L214.1,689.7L214.8,689.7L215.4,689.7L216.0,689.7L216.7,689.7L217.3,689.8L217.9,689.8L218.5,689.8L219.2,689.8L219.8,689.8" stroke="#6aa820"/>
<path d="M56.7,679.5L57.3,680.2L58.0,681.1L58.6,682.1L59.2,683.1L59.8,684.1L60.5,685.0L61.1,685.8L61.7,686.6L62.4,687.4L63.0,688.0L63.6,688.6L64.3,689.1L64.9,689.6L65.5,690.0L66.1,690.4L66.8,690.7L67.4,691.1L68.0,691.3L68.7,691.6L69.3,691.8L69.9,691.9L70.6,692.0L71.2,692.1L71.8,692.0L72.4,691.9L73.1,691.8L73.7,691.6L74.3,691.3L75.0,691.0L75.6,690.6L76.2,690.2L76.9,689.8L77.5,689.4L78.1,688.9L78.7,688.4L79.4,687.9L80.0,687.3L80.6,686.7L81.3,686.1L81.9,685.5L82.5,684.8L83.1,684.1L83.8,683.4L84.4,682.6L85.0,681.7L85.7,680.9L86.3,680.0L86.9,679.0L87.6,678.1L88.2,677.1L88.8,676.1L89.4,675.0L90.1,673.9L90.7,672.8L91.3,671.6L92.0,670.4L92.6,669.0L93.2,667.6L93.9,666.1L94.5,664.5L95.1,662.8L95.7,660.9L96.4,659.0L97.0,657.0L97.6,654.9L98.3,652.7L98.9,650.4L99.5,648.1L100.2,645.7L100.8,643.3L101.4,640.8L102.0,638.3L102.7,635.7L103.3,633.1L103.9,630.5L104.6,627.8L105.2,625.0L105.8,622.3L106.4,619.6L107.1,616.9L107.7,614.2L108.3,611.6L109.0,609.1L109.6,606.7L110.2,604.4L110.9,602.3L111.5,600.3L112.1,598.5L112.7,596.7L113.4,595.2L114.0,593.8L114.6,592.6L115.3,591.7L115.9,591.0L116.5,590.5L117.2,590.3L117.8,590.3L118.4,590.5L119.0,591.0L119.7,591.8L120.3,592.9L120.9,594.3L121.6,595.8L122.2,597.6L122.8,599.4L123.5,601.5L124.1,603.7L124.7,606.0L125.3,608.5L126.0,611.2L126.6,613.9L127.2,616.8L127.9,619.6L128.5,622.6L129.1,625.5L129.7,628.3L130.4,631.1L131.0,633.9L131.6,636.6L132.3,639.1L132.9,641.7L133.5,644.1L134.2,646.6L134.8,648.9L135.4,651.2L136.0,653.5L136.7,655.6L137.3,657.7L137.9,659.7L138.6,661.6L139.2,663.4L139.8,665.1L140.5,666.7L141.1,668.2L141.7,669.6L142.3,670.9L143.0,672.2L143.6,673.3L144.2,674.4L144.9,675.3L145.5,676.3L146.1,677.2L146.8,678.1L147.4,678.9L148.0,679.7L148.6,680.5L149.3,681.3L149.9,682.0L150.5,682.7L151.2,683.3L151.8,683.9L152.4,684.5L153.0,685.0L153.7,685.4L154.3,685.8L154.9,686.1L155.6,686.5L156.2,686.8L156.8,687.1L157.5,687.4L158.1,687.7L158.7,688.0L159.3,688.2L160.0,688.5L160.6,688.8L161.2,689.0L161.9,689.3L162.5,689.5L163.1,689.7L163.8,689.9L164.4,690.1L165.0,690.2L165.6,690.4L166.3,690.5L166.9,690.6L167.5,690.7L168.2,690.8L168.8,690.9L169.4,690.9L170.1,691.0L170.7,691.1L171.3,691.2L171.9,691.3L172.6,691.3L173.2,691.4L173.8,691.5L174.5,691.5L175.1,691.6L175.7,691.7L176.3,691.8L177.0,691.8L177.6,691.9L178.2,691.9L178.9,692.0L179.5,692.1L180.1,692.1L180.8,692.1L181.4,692.2L182.0,692.2L182.6,692.3L183.3,692.3L183.9,692.3L184.5,692.3L185.2,692.4L185.8,692.4L186.4,692.4L187.1,692.4L187.7,692.4L188.3,692.4L188.9,692.4L189.6,692.4L190.2,692.3L190.8,692.3L191.5,692.3L192.1,692.3L192.7,692.3L193.4,692.2L194.0,692.2L194.6,692.2L195.2,692.2L195.9,692.1L196.5,692.1L197.1,692.1L197.8,692.1L198.4,692.0L199.0,692.0L199.6,692.0L200.3,692.0L200.9,692.0L201.5,692.0L202.2,691.9L202.8,691.9L203.4,691.9L204.1,691.9L204.7,691.9L205.3,691.9L205.9,691.9L206.6,691.9L207.2,691.9L207.8,691.9L208.5,691.9L209.1,692.0L209.7,692.0L210.4,692.0L211.0,692.0L211.6,692.0L212.2,692.0L212.9,692.1L213.5,692.1L214.1,692.1L214.8,692.1L215.4,692.1L216.0,692.2L216.7,692.2L217.3,692.2L217.9,692.3L218.5,692.3L219.2,692.3L219.8,692.4" stroke="#20f0ff"/>
<path d="M56.7,683.2L57.3,683.8L58.0,684.6L58.6,685.3L59.2,686.1L59.8,686.7L60.5,687.2L61.1,687.7L61.7,688.0L62.4,688.3L63.0,688.4L63.6,688.5L64.3,688.5L64.9,688.3L65.5,688.2L66.1,688.0L66.8,687.7L67.4,687.4L68.0,687.0L68.7,686.6L69.3,686.2L69.9,685.8L70.6,685.4L71.2,685.0L71.8,684.5L72.4,684.0L73.1,683.6L73.7,683.0L74.3,682.5L75.0,681.9L75.6,681.3L76.2,680.7L76.9,680.0L77.5,679.2L78.1,678.3L78.7,677.3L79.4,676.2L80.0,675.0L80.6,673.7L81.3,672.4L81.9,670.9L82.5,669.5L83.1,667.9L83.8,666.3L84.4,664.7L85.0,663.0L85.7,661.3L86.3,659.5L86.9,657.6L87.6,655.7L88.2,653.7L88.8,651.7L89.4,649.6L90.1,647.4L90.7,645.2L91.3,642.9L92.0,640.6L92.6,638.2L93.2,635.9L93.9,633.6L94.5,631.2L95.1,629.0L95.7,626.8L96.4,624.6L97.0,622.6L97.6,620.6L98.3,618.6L98.9,616.7L99.5,614.9L100.2,613.2L100.8,611.6L101.4,610.1L102.0,608.9L102.7,608.0L103.3,607.4L103.9,607.0L104.6,606.9L105.2,607.1L105.8,607.6L106.4,608.5L107.1,609.7L107.7,611.4L108.3,613.3L109.0,615.3L109.6,617.4L110.2,619.6L110.9,621.8L111.5,624.0L112.1,626.2L112.7,628.5L113.4,630.8L114.0,633.1L114.6,635.4L115.3,637.7L115.9,640.0L116.5,642.3L117.2,644.6L117.8,646.9L118.4,649.1L119.0,651.2L119.7,653.2L120.3,655.2L120.9,657.0L121.6,658.8L122.2,660.4L122.8,662.0L123.5,663.5L124.1,664.9L124.7,666.3L125.3,667.7L126.0,669.0L126.6,670.2L127.2,671.4L127.9,672.6L128.5,673.6L129.1,674.6L129.7,675.5L130.4,676.3L131.0,677.1L131.6,677.7L132.3,678.3L132.9,678.9L133.5,679.4L134.2,679.9L134.8,680.4L135.4,680.9L136.0,681.3L136.7,681.7L137.3,682.1L137.9,682.4L138.6,682.7L139.2,683.0L139.8,683.3L140.5,683.5L141.1,683.7L141.7,683.9L142.3,684.0L143.0,684.1L143.6,684.3L144.2,684.4L144.9,684.5L145.5,684.7L146.1,684.8L146.8,684.9L147.4,685.0L148.0,685.1L148.6,685.2L149.3,685.3L149.9,685.4L150.5,685.5L151.2,685.6L151.8,685.7L152.4,685.8L153.0,685.8L153.7,685.9L154.3,685.9L154.9,686.0L155.6,686.0L156.2,686.1L156.8,686.1L157.5,686.2L158.1,686.2L158.7,686.2L159.3,686.3L160.0,686.3L160.6,686.4L161.2,686.4L161.9,686.4L162.5,686.4L163.1,686.5L163.8,686.5L164.4,686.5L165.0,686.5L165.6,686.5L166.3,686.5L166.9,686.5L167.5,686.4L168.2,686.4L168.8,686.4L169.4,686.4L170.1,686.3L170.7,686.3L171.3,686.2L171.9,686.2L172.6,686.2L173.2,686.1L173.8,686.1L174.5,686.0L175.1,686.0L175.7,685.9L176.3,685.8L177.0,685.8L177.6,685.7L178.2,685.6L178.9,685.5L179.5,685.4L180.1,685.3L180.8,685.2L181.4,685.1L182.0,685.0L182.6,684.9L183.3,684.8L183.9,684.7L184.5,684.6L185.2,684.5L185.8,684.4L186.4,684.3L187.1,684.2L187.7,684.1L188.3,684.0L188.9,683.9L189.6,683.8L190.2,683.7L190.8,683.6L191.5,683.5L192.1,683.4L192.7,683.3L193.4,683.2L194.0,683.1L194.6,683.0L195.2,682.9L195.9,682.8L196.5,682.7L197.1,682.6L197.8,682.5L198.4,682.4L199.0,682.2L199.6,682.1L200.3,682.0L200.9,681.9L201.5,681.8L202.2,681.7L202.8,681.6L203.4,681.5L204.1,681.4L204.7,681.3L205.3,681.2L205.9,681.1L206.6,681.0L207.2,680.9L207.8,680.8L208.5,680.8L209.1,680.7L209.7,680.6L210.4,680.6L211.0,680.6L211.6,680.5L212.2,680.5L212.9,680.5L213.5,680.5L214.1,680.5L214.8,680.5L215.4,680.5L216.0,680.6L216.7,680.6L217.3,680.6L217.9,680.6L218.5,680.7L219.2,680.7L219.8,680.7" stroke="#2222ff"/>
<path d="M56.7,671.0L57.3,671.1L58.0,671.3L58.6,671.4L59.2,671.3L59.8,671.1L60.5,670.7L61.1,670.2L61.7,669.5L62.4,668.6L63.0,667.7L63.6,666.6L64.3,665.5L64.9,664.3L65.5,663.0L66.1,661.7L66.8,660.3L67.4,658.8L68.0,657.3L68.7,655.6L69.3,653.9L69.9,652.1L70.6,650.2L71.2,648.2L71.8,646.2L72.4,644.1L73.1,642.0L73.7,639.9L74.3,637.8L75.0,635.8L75.6,633.8L76.2,631.8L76.9,629.8L77.5,627.9L78.1,626.0L78.7,624.2L79.4,622.5L80.0,620.8L80.6,619.3L81.3,618.0L81.9,617.0L82.5,616.3L83.1,615.8L83.8,615.6L84.4,615.6L85.0,615.7L85.7,616.1L86.3,616.8L86.9,617.9L87.6,619.4L88.2,621.1L88.8,622.9L89.4,624.8L90.1,626.8L90.7,628.7L91.3,630.6L92.0,632.5L92.6,634.4L93.2,636.4L93.9,638.3L94.5,640.2L95.1,642.1L95.7,644.0L96.4,645.9L97.0,647.8L97.6,649.7L98.3,651.6L98.9,653.4L99.5,655.2L100.2,656.9L100.8,658.5L101.4,660.0L102.0,661.3L102.7,662.6L103.3,663.7L103.9,664.8L104.6,665.8L105.2,666.8L105.8,667.7L106.4,668.5L107.1,669.3L107.7,670.1L108.3,670.9L109.0,671.6L109.6,672.3L110.2,673.0L110.9,673.6L111.5,674.2L112.1,674.8L112.7,675.3L113.4,675.8L114.0,676.3L114.6,676.7L115.3,677.1L115.9,677.4L116.5,677.8L117.2,678.1L117.8,678.4L118.4,678.7L119.0,679.0L119.7,679.3L120.3,679.6L120.9,679.9L121.6,680.2L122.2,680.5L122.8,680.7L123.5,681.0L124.1,681.2L124.7,681.4L125.3,681.6L126.0,681.8L126.6,682.0L127.2,682.1L127.9,682.3L128.5,682.4L129.1,682.5L129.7,682.6L130.4,682.7L131.0,682.9L131.6,683.0L132.3,683.1L132.9,683.2L133.5,683.3L134.2,683.4L134.8,683.5L135.4,683.5L136.0,683.6L136.7,683.7L137.3,683.7L137.9,683.8L138.6,683.8L139.2,683.8L139.8,683.9L140.5,683.8L141.1,683.8L141.7,683.8L142.3,683.8L143.0,683.8L143.6,683.7L144.2,683.7L144.9,683.6L145.5,683.6L146.1,683.6L146.8,683.5L147.4,683.5L148.0,683.4L148.6,683.4L149.3,683.3L149.9,683.3L150.5,683.2L151.2,683.2L151.8,683.1L152.4,683.1L153.0,683.0L153.7,683.0L154.3,682.9L154.9,682.8L155.6,682.8L156.2,682.7L156.8,682.7L157.5,682.6L158.1,682.5L158.7,682.5L159.3,682.4L160.0,682.3L160.6,682.3L161.2,682.2L161.9,682.1L162.5,682.1L163.1,682.0L163.8,681.9L164.4,681.9L165.0,681.8L165.6,681.7L166.3,681.6L166.9,681.5L167.5,681.5L168.2,681.4L168.8,681.3L169.4,681.2L170.1,681.1L170.7,681.0L171.3,680.9L171.9,680.8L172.6,680.7L173.2,680.5L173.8,680.4L174.5,680.3L175.1,680.2L175.7,680.1L176.3,680.0L177.0,679.9L177.6,679.8L178.2,679.7L178.9,679.6L179.5,679.5L180.1,679.4L180.8,679.3L181.4,679.2L182.0,679.2L182.6,679.1L183.3,679.0L183.9,678.9L184.5,678.9L185.2,678.8L185.8,678.7L186.4,678.7L187.1,678.6L187.7,678.5L188.3,678.5L188.9,678.4L189.6,678.3L190.2,678.3L190.8,678.2L191.5,678.1L192.1,678.1L192.7,678.0L193.4,677.9L194.0,677.9L194.6,677.8L195.2,677.7L195.9,677.7L196.5,677.6L197.1,677.5L197.8,677.5L198.4,677.4L199.0,677.4L199.6,677.3L200.3,677.3L200.9,677.2L201.5,677.1L202.2,677.1L202.8,677.0L203.4,677.0L204.1,676.9L204.7,676.9L205.3,676.8L205.9,676.8L206.6,676.7L207.2,676.7L207.8,676.6L208.5,676.6L209.1,676.6L209.7,676.6L210.4,676.5L211.0,676.5L211.6,676.5L212.2,676.5L212.9,676.5L213.5,676.5L214.1,676.5L214.8,676.5L215.4,676.5L216.0,676.6L216.7,676.6L217.3,676.6L217.9,676.6L218.5,676.6L219.2,676.7L219.8,676.7" stroke="#c8a030"/>
</g>
<path d="M56.7,695v-2.6M89.32,695v-2.6M121.94,695v-2.6M154.56,695v-2.6M187.18,695v-2.6M219.8,695v-2.6M73.01,695v-1.6M105.63,695v-1.6M138.25,695v-1.6M170.87,695v-1.6M203.49,695v-1.6M56.7,695h2.6M56.7,671.24h2.6M56.7,647.48h2.6M56.7,623.72h2.6M56.7,599.95h2.6M56.7,576.19h2.6M56.7,683.12h1.6M56.7,659.36h1.6M56.7,635.6h1.6M56.7,611.84h1.6M56.7,588.07h1.6" stroke="#000" stroke-width="1" fill="none"/>
<rect x="56.7" y="563.6" width="163.1" height="131.4" fill="none" stroke="#000" stroke-width="1.15"/>
<g font-family="'Liberation Sans', Arial, sans-serif" font-weight="bold" font-size="9.7" fill="#000">
<text x="56.7" y="705.7" text-anchor="middle">450</text>
<text x="89.32" y="705.7" text-anchor="middle">500</text>
<text x="121.94" y="705.7" text-anchor="middle">550</text>
<text x="154.56" y="705.7" text-anchor="middle">600</text>
<text x="187.18" y="705.7" text-anchor="middle">650</text>
<text x="219.8" y="705.7" text-anchor="middle">700</text>
<text x="53.7" y="698.35" text-anchor="end">0</text>
<text x="53.7" y="674.59" text-anchor="end">10</text>
<text x="53.7" y="650.82" text-anchor="end">20</text>
<text x="53.7" y="627.06" text-anchor="end">30</text>
<text x="53.7" y="603.3" text-anchor="end">40</text>
<text x="53.7" y="579.54" text-anchor="end">50</text>
</g>
<g font-family="'Liberation Sans', Arial, sans-serif" font-weight="bold" font-size="11.2" fill="#000">
<text x="138.2" y="719.3" text-anchor="middle">Wavelength (nm)</text>
<text transform="translate(36.9,629.5) rotate(-90)" text-anchor="middle">Reflectance (%)</text>
</g>
<g font-family="'Liberation Sans', Arial, sans-serif" font-weight="bold" font-size="8.6" fill="#000">
<path d="M169.6,570.6H189.6" stroke="#ff2020" stroke-width="1.5"/>
<text x="191.7" y="573.7">initial</text>
<path d="M169.6,581.46H189.6" stroke="#ff8020" stroke-width="1.5"/>
<text x="191.7" y="584.56">20 %</text>
<path d="M169.6,592.32H189.6" stroke="#6aa820" stroke-width="1.5"/>
<text x="191.7" y="595.42">40 %</text>
<path d="M169.6,603.18H189.6" stroke="#20f0ff" stroke-width="1.5"/>
<text x="191.7" y="606.28">60 %</text>
<path d="M169.6,614.04H189.6" stroke="#2222ff" stroke-width="1.5"/>
<text x="191.7" y="617.14">80 %</text>
<path d="M169.6,624.9H189.6" stroke="#c8a030" stroke-width="1.5"/>
<text x="191.7" y="628">100 %</text>
</g>
<text x="67" y="583" font-family="'Liberation Sans', Arial, sans-serif" font-weight="bold" font-size="10.6" fill="#000">No CPF</text>
<clipPath id="cph"><rect x="276.6" y="563.6" width="163.9" height="131.4"/></clipPath>
<g clip-path="url(#cph)" fill="none" stroke-width="1.5" stroke-linejoin="round">
<path d="M276.6,684.8L277.2,684.7L277.9,684.6L278.5,684.5L279.1,684.5L279.8,684.6L280.4,684.8L281.0,685.2L281.7,685.6L282.3,686.0L282.9,686.4L283.6,686.7L284.2,686.9L284.8,687.1L285.5,687.1L286.1,687.1L286.7,687.0L287.4,686.9L288.0,686.8L288.6,686.6L289.3,686.4L289.9,686.2L290.5,685.9L291.2,685.6L291.8,685.3L292.4,685.1L293.1,684.8L293.7,684.4L294.3,684.1L295.0,683.8L295.6,683.5L296.2,683.1L296.9,682.7L297.5,682.3L298.1,681.8L298.7,681.4L299.4,680.9L300.0,680.4L300.6,679.9L301.3,679.5L301.9,679.2L302.5,678.9L303.2,678.6L303.8,678.4L304.4,678.3L305.1,678.2L305.7,678.2L306.3,678.2L307.0,678.1L307.6,678.1L308.2,678.0L308.9,677.9L309.5,677.8L310.1,677.6L310.8,677.5L311.4,677.3L312.0,677.1L312.7,676.9L313.3,676.7L313.9,676.5L314.6,676.3L315.2,676.1L315.8,676.0L316.5,675.9L317.1,675.8L317.7,675.7L318.4,675.6L319.0,675.5L319.6,675.4L320.3,675.3L320.9,675.3L321.5,675.2L322.2,675.2L322.8,675.2L323.4,675.1L324.1,675.1L324.7,675.1L325.3,675.1L326.0,675.2L326.6,675.2L327.2,675.2L327.9,675.2L328.5,675.1L329.1,675.1L329.8,675.0L330.4,674.9L331.0,674.7L331.7,674.5L332.3,674.2L332.9,674.0L333.6,673.8L334.2,673.6L334.8,673.5L335.5,673.4L336.1,673.3L336.7,673.3L337.4,673.3L338.0,673.3L338.6,673.3L339.2,673.3L339.9,673.4L340.5,673.4L341.1,673.5L341.8,673.5L342.4,673.6L343.0,673.6L343.7,673.7L344.3,673.7L344.9,673.8L345.6,673.8L346.2,673.8L346.8,673.9L347.5,673.9L348.1,673.9L348.7,673.8L349.4,673.8L350.0,673.7L350.6,673.7L351.3,673.6L351.9,673.6L352.5,673.5L353.2,673.4L353.8,673.3L354.4,673.3L355.1,673.2L355.7,673.1L356.3,673.0L357.0,672.9L357.6,672.9L358.2,672.8L358.9,672.7L359.5,672.7L360.1,672.6L360.8,672.6L361.4,672.6L362.0,672.5L362.7,672.5L363.3,672.5L363.9,672.6L364.6,672.6L365.2,672.6L365.8,672.7L366.5,672.7L367.1,672.8L367.7,672.8L368.4,672.9L369.0,672.9L369.6,673.0L370.3,673.0L370.9,673.1L371.5,673.1L372.2,673.1L372.8,673.2L373.4,673.2L374.1,673.2L374.7,673.1L375.3,673.1L376.0,673.1L376.6,673.0L377.2,673.0L377.9,672.9L378.5,672.8L379.1,672.7L379.7,672.7L380.4,672.6L381.0,672.5L381.6,672.4L382.3,672.3L382.9,672.2L383.5,672.2L384.2,672.1L384.8,672.0L385.4,671.9L386.1,671.9L386.7,671.8L387.3,671.8L388.0,671.8L388.6,671.7L389.2,671.7L389.9,671.7L390.5,671.7L391.1,671.6L391.8,671.6L392.4,671.6L393.0,671.6L393.7,671.5L394.3,671.5L394.9,671.5L395.6,671.5L396.2,671.5L396.8,671.4L397.5,671.4L398.1,671.4L398.7,671.4L399.4,671.4L400.0,671.4L400.6,671.3L401.3,671.3L401.9,671.3L402.5,671.3L403.2,671.3L403.8,671.3L404.4,671.3L405.1,671.3L405.7,671.2L406.3,671.2L407.0,671.2L407.6,671.2L408.2,671.2L408.9,671.2L409.5,671.2L410.1,671.2L410.8,671.2L411.4,671.2L412.0,671.2L412.7,671.2L413.3,671.2L413.9,671.2L414.6,671.2L415.2,671.2L415.8,671.2L416.5,671.2L417.1,671.2L417.7,671.2L418.4,671.2L419.0,671.2L419.6,671.3L420.2,671.3L420.9,671.3L421.5,671.3L422.1,671.3L422.8,671.3L423.4,671.3L424.0,671.3L424.7,671.3L425.3,671.2L425.9,671.2L426.6,671.2L427.2,671.2L427.8,671.2L428.5,671.2L429.1,671.2L429.7,671.2L430.4,671.1L431.0,671.1L431.6,671.1L432.3,671.1L432.9,671.0L433.5,671.0L434.2,671.0L434.8,670.9L435.4,670.9L436.1,670.8L436.7,670.8L437.3,670.8L438.0,670.7L438.6,670.7L439.2,670.6L439.9,670.6L440.5,670.6" stroke="#ff2020"/>
<path d="M276.6,688.3L277.2,688.1L277.9,687.9L278.5,687.7L279.1,687.5L279.8,687.3L280.4,687.1L281.0,687.0L281.7,686.8L282.3,686.7L282.9,686.6L283.6,686.6L284.2,686.6L284.8,686.6L285.5,686.8L286.1,686.9L286.7,687.0L287.4,687.2L288.0,687.2L288.6,687.2L289.3,687.1L289.9,686.9L290.5,686.5L291.2,686.0L291.8,685.4L292.4,684.7L293.1,684.0L293.7,683.2L294.3,682.5L295.0,681.8L295.6,681.2L296.2,680.6L296.9,680.1L297.5,679.7L298.1,679.3L298.7,678.9L299.4,678.5L300.0,678.2L300.6,677.9L301.3,677.6L301.9,677.4L302.5,677.2L303.2,677.2L303.8,677.2L304.4,677.3L305.1,677.5L305.7,677.7L306.3,678.0L307.0,678.2L307.6,678.4L308.2,678.5L308.9,678.6L309.5,678.4L310.1,678.2L310.8,677.8L311.4,677.4L312.0,676.9L312.7,676.4L313.3,675.9L313.9,675.4L314.6,675.0L315.2,674.7L315.8,674.5L316.5,674.4L317.1,674.3L317.7,674.2L318.4,674.1L319.0,674.1L319.6,674.0L320.3,674.0L320.9,674.0L321.5,673.9L322.2,673.9L322.8,673.9L323.4,673.8L324.1,673.8L324.7,673.8L325.3,673.7L326.0,673.7L326.6,673.6L327.2,673.5L327.9,673.5L328.5,673.4L329.1,673.3L329.8,673.2L330.4,673.1L331.0,673.0L331.7,672.9L332.3,672.8L332.9,672.7L333.6,672.6L334.2,672.5L334.8,672.4L335.5,672.3L336.1,672.2L336.7,672.1L337.4,671.9L338.0,671.8L338.6,671.7L339.2,671.6L339.9,671.5L340.5,671.5L341.1,671.4L341.8,671.3L342.4,671.2L343.0,671.1L343.7,671.0L344.3,671.0L344.9,670.9L345.6,670.8L346.2,670.8L346.8,670.7L347.5,670.7L348.1,670.6L348.7,670.5L349.4,670.5L350.0,670.4L350.6,670.4L351.3,670.3L351.9,670.3L352.5,670.2L353.2,670.1L353.8,670.1L354.4,670.0L355.1,669.9L355.7,669.8L356.3,669.7L357.0,669.6L357.6,669.5L358.2,669.4L358.9,669.3L359.5,669.1L360.1,669.0L360.8,668.8L361.4,668.7L362.0,668.5L362.7,668.4L363.3,668.2L363.9,668.1L364.6,668.0L365.2,667.8L365.8,667.7L366.5,667.6L367.1,667.5L367.7,667.4L368.4,667.3L369.0,667.2L369.6,667.2L370.3,667.2L370.9,667.1L371.5,667.1L372.2,667.1L372.8,667.2L373.4,667.2L374.1,667.2L374.7,667.3L375.3,667.3L376.0,667.4L376.6,667.5L377.2,667.6L377.9,667.7L378.5,667.8L379.1,667.9L379.7,668.0L380.4,668.1L381.0,668.2L381.6,668.3L382.3,668.4L382.9,668.5L383.5,668.6L384.2,668.7L384.8,668.8L385.4,668.9L386.1,668.9L386.7,669.0L387.3,669.1L388.0,669.1L388.6,669.2L389.2,669.2L389.9,669.2L390.5,669.3L391.1,669.3L391.8,669.3L392.4,669.4L393.0,669.4L393.7,669.5L394.3,669.5L394.9,669.5L395.6,669.6L396.2,669.6L396.8,669.6L397.5,669.6L398.1,669.7L398.7,669.7L399.4,669.7L400.0,669.8L400.6,669.8L401.3,669.8L401.9,669.8L402.5,669.8L403.2,669.8L403.8,669.9L404.4,669.9L405.1,669.9L405.7,669.9L406.3,669.9L407.0,669.9L407.6,669.9L408.2,669.9L408.9,669.9L409.5,669.9L410.1,669.9L410.8,669.9L411.4,669.9L412.0,669.9L412.7,669.9L413.3,669.9L413.9,669.9L414.6,669.9L415.2,669.9L415.8,669.9L416.5,669.9L417.1,669.9L417.7,669.9L418.4,669.9L419.0,669.9L419.6,669.9L420.2,669.9L420.9,669.9L421.5,669.9L422.1,669.9L422.8,669.9L423.4,669.9L424.0,669.9L424.7,669.9L425.3,669.9L425.9,669.9L426.6,669.9L427.2,669.9L427.8,669.9L428.5,669.9L429.1,669.9L429.7,669.9L430.4,669.9L431.0,669.9L431.6,669.9L432.3,669.9L432.9,669.9L433.5,669.9L434.2,669.9L434.8,669.9L435.4,669.9L436.1,669.9L436.7,669.9L437.3,669.9L438.0,669.9L438.6,669.9L439.2,669.9L439.9,669.9L440.5,669.9" stroke="#ff8020"/>
<path d="M276.6,690.1L277.2,690.4L277.9,690.7L278.5,690.9L279.1,691.0L279.8,690.7L280.4,690.2L281.0,689.5L281.7,688.5L282.3,687.5L282.9,686.5L283.6,685.7L284.2,685.2L284.8,685.2L285.5,685.5L286.1,686.2L286.7,686.9L287.4,687.5L288.0,687.9L288.6,688.1L289.3,688.0L289.9,687.8L290.5,687.5L291.2,687.1L291.8,686.7L292.4,686.2L293.1,685.7L293.7,685.1L294.3,684.4L295.0,683.7L295.6,682.9L296.2,682.2L296.9,681.4L297.5,680.8L298.1,680.2L298.7,679.8L299.4,679.5L300.0,679.2L300.6,679.1L301.3,678.9L301.9,678.8L302.5,678.7L303.2,678.6L303.8,678.6L304.4,678.5L305.1,678.4L305.7,678.4L306.3,678.3L307.0,678.2L307.6,678.1L308.2,678.1L308.9,677.9L309.5,677.8L310.1,677.7L310.8,677.6L311.4,677.4L312.0,677.3L312.7,677.2L313.3,677.1L313.9,676.9L314.6,676.8L315.2,676.7L315.8,676.5L316.5,676.4L317.1,676.3L317.7,676.1L318.4,676.0L319.0,675.9L319.6,675.7L320.3,675.6L320.9,675.5L321.5,675.4L322.2,675.2L322.8,675.1L323.4,675.0L324.1,674.8L324.7,674.7L325.3,674.6L326.0,674.5L326.6,674.3L327.2,674.2L327.9,674.1L328.5,673.9L329.1,673.8L329.8,673.7L330.4,673.6L331.0,673.4L331.7,673.3L332.3,673.2L332.9,673.1L333.6,672.9L334.2,672.8L334.8,672.7L335.5,672.5L336.1,672.4L336.7,672.2L337.4,672.0L338.0,671.7L338.6,671.4L339.2,671.0L339.9,670.6L340.5,670.1L341.1,669.6L341.8,669.0L342.4,668.3L343.0,667.5L343.7,666.6L344.3,665.6L344.9,664.4L345.6,663.1L346.2,661.8L346.8,660.4L347.5,658.9L348.1,657.3L348.7,655.6L349.4,653.9L350.0,652.2L350.6,650.6L351.3,649.0L351.9,647.6L352.5,646.4L353.2,645.4L353.8,644.5L354.4,644.0L355.1,643.7L355.7,643.9L356.3,644.4L357.0,645.3L357.6,646.5L358.2,647.8L358.9,649.2L359.5,650.5L360.1,651.8L360.8,653.0L361.4,654.1L362.0,655.1L362.7,656.0L363.3,656.8L363.9,657.4L364.6,657.9L365.2,658.2L365.8,658.4L366.5,658.5L367.1,658.5L367.7,658.5L368.4,658.5L369.0,658.4L369.6,658.3L370.3,658.2L370.9,658.2L371.5,658.1L372.2,658.1L372.8,658.2L373.4,658.4L374.1,658.7L374.7,659.0L375.3,659.4L376.0,659.9L376.6,660.4L377.2,661.0L377.9,661.6L378.5,662.3L379.1,662.9L379.7,663.6L380.4,664.2L381.0,664.8L381.6,665.3L382.3,665.8L382.9,666.3L383.5,666.8L384.2,667.2L384.8,667.6L385.4,667.9L386.1,668.3L386.7,668.6L387.3,668.8L388.0,669.1L388.6,669.3L389.2,669.5L389.9,669.6L390.5,669.8L391.1,670.0L391.8,670.1L392.4,670.3L393.0,670.4L393.7,670.5L394.3,670.7L394.9,670.8L395.6,670.9L396.2,671.0L396.8,671.1L397.5,671.2L398.1,671.3L398.7,671.4L399.4,671.5L400.0,671.6L400.6,671.7L401.3,671.8L401.9,671.8L402.5,671.9L403.2,672.0L403.8,672.0L404.4,672.1L405.1,672.1L405.7,672.2L406.3,672.3L407.0,672.3L407.6,672.4L408.2,672.5L408.9,672.5L409.5,672.6L410.1,672.6L410.8,672.7L411.4,672.7L412.0,672.8L412.7,672.8L413.3,672.9L413.9,672.9L414.6,672.9L415.2,673.0L415.8,673.0L416.5,673.0L417.1,673.1L417.7,673.1L418.4,673.1L419.0,673.1L419.6,673.1L420.2,673.1L420.9,673.1L421.5,673.1L422.1,673.1L422.8,673.1L423.4,673.1L424.0,673.1L424.7,673.1L425.3,673.1L425.9,673.1L426.6,673.0L427.2,673.0L427.8,673.0L428.5,672.9L429.1,672.9L429.7,672.9L430.4,672.8L431.0,672.8L431.6,672.7L432.3,672.7L432.9,672.6L433.5,672.6L434.2,672.5L434.8,672.4L435.4,672.4L436.1,672.3L436.7,672.2L437.3,672.2L438.0,672.1L438.6,672.0L439.2,671.9L439.9,671.9L440.5,671.8" stroke="#6aa820"/>
<path d="M276.6,693.0L277.2,692.2L277.9,691.3L278.5,690.4L279.1,689.4L279.8,688.6L280.4,687.8L281.0,687.1L281.7,686.5L282.3,686.1L282.9,685.7L283.6,685.4L284.2,685.3L284.8,685.2L285.5,685.3L286.1,685.5L286.7,686.0L287.4,686.6L288.0,687.5L288.6,688.5L289.3,689.4L289.9,690.2L290.5,690.5L291.2,690.6L291.8,690.3L292.4,689.8L293.1,689.2L293.7,688.6L294.3,687.8L295.0,687.0L295.6,686.2L296.2,685.3L296.9,684.4L297.5,683.5L298.1,682.7L298.7,682.1L299.4,681.6L300.0,681.3L300.6,681.1L301.3,680.9L301.9,680.8L302.5,680.8L303.2,680.7L303.8,680.7L304.4,680.6L305.1,680.6L305.7,680.5L306.3,680.4L307.0,680.3L307.6,680.2L308.2,680.1L308.9,680.0L309.5,679.9L310.1,679.8L310.8,679.6L311.4,679.5L312.0,679.4L312.7,679.2L313.3,679.0L313.9,678.7L314.6,678.3L315.2,677.9L315.8,677.4L316.5,676.8L317.1,676.2L317.7,675.6L318.4,674.9L319.0,674.1L319.6,673.3L320.3,672.3L320.9,671.1L321.5,669.7L322.2,668.1L322.8,666.4L323.4,664.5L324.1,662.5L324.7,660.2L325.3,657.8L326.0,655.2L326.6,652.4L327.2,649.3L327.9,646.0L328.5,642.5L329.1,638.7L329.8,634.6L330.4,630.4L331.0,625.9L331.7,621.4L332.3,617.0L332.9,612.6L333.6,608.4L334.2,604.3L334.8,600.5L335.5,596.9L336.1,593.6L336.7,590.7L337.4,588.2L338.0,586.2L338.6,584.6L339.2,583.5L339.9,582.8L340.5,582.4L341.1,582.5L341.8,583.2L342.4,584.6L343.0,586.7L343.7,589.4L344.3,592.5L344.9,595.9L345.6,599.5L346.2,603.2L346.8,607.0L347.5,610.9L348.1,614.8L348.7,618.6L349.4,622.3L350.0,625.8L350.6,629.0L351.3,632.0L351.9,634.8L352.5,637.3L353.2,639.7L353.8,641.9L354.4,644.1L355.1,646.2L355.7,648.1L356.3,650.0L357.0,651.8L357.6,653.4L358.2,654.8L358.9,656.1L359.5,657.3L360.1,658.4L360.8,659.4L361.4,660.3L362.0,661.2L362.7,662.0L363.3,662.7L363.9,663.3L364.6,663.9L365.2,664.4L365.8,664.9L366.5,665.4L367.1,665.8L367.7,666.2L368.4,666.7L369.0,667.1L369.6,667.5L370.3,667.8L370.9,668.2L371.5,668.5L372.2,668.9L372.8,669.1L373.4,669.4L374.1,669.6L374.7,669.8L375.3,670.0L376.0,670.2L376.6,670.3L377.2,670.5L377.9,670.6L378.5,670.8L379.1,670.9L379.7,671.0L380.4,671.2L381.0,671.3L381.6,671.5L382.3,671.6L382.9,671.7L383.5,671.8L384.2,671.9L384.8,672.1L385.4,672.2L386.1,672.3L386.7,672.3L387.3,672.4L388.0,672.5L388.6,672.6L389.2,672.7L389.9,672.8L390.5,672.8L391.1,672.9L391.8,673.0L392.4,673.1L393.0,673.1L393.7,673.2L394.3,673.3L394.9,673.4L395.6,673.4L396.2,673.5L396.8,673.6L397.5,673.7L398.1,673.7L398.7,673.8L399.4,673.8L400.0,673.9L400.6,674.0L401.3,674.0L401.9,674.1L402.5,674.1L403.2,674.2L403.8,674.2L404.4,674.2L405.1,674.3L405.7,674.3L406.3,674.3L407.0,674.3L407.6,674.4L408.2,674.4L408.9,674.4L409.5,674.4L410.1,674.4L410.8,674.4L411.4,674.4L412.0,674.4L412.7,674.4L413.3,674.4L413.9,674.4L414.6,674.4L415.2,674.4L415.8,674.4L416.5,674.4L417.1,674.4L417.7,674.4L418.4,674.3L419.0,674.3L419.6,674.3L420.2,674.3L420.9,674.3L421.5,674.3L422.1,674.2L422.8,674.2L423.4,674.2L424.0,674.2L424.7,674.1L425.3,674.1L425.9,674.1L426.6,674.1L427.2,674.0L427.8,674.0L428.5,674.0L429.1,673.9L429.7,673.9L430.4,673.9L431.0,673.8L431.6,673.8L432.3,673.7L432.9,673.7L433.5,673.7L434.2,673.6L434.8,673.6L435.4,673.5L436.1,673.5L436.7,673.5L437.3,673.4L438.0,673.4L438.6,673.3L439.2,673.3L439.9,673.2L440.5,673.2" stroke="#20f0ff"/>
<path d="M276.6,691.6L277.2,690.9L277.9,690.0L278.5,689.0L279.1,688.2L279.8,687.4L280.4,686.8L281.0,686.3L281.7,685.9L282.3,685.5L282.9,685.3L283.6,685.1L284.2,685.1L284.8,685.1L285.5,685.3L286.1,685.5L286.7,685.8L287.4,686.0L288.0,686.1L288.6,686.1L289.3,686.0L289.9,685.9L290.5,685.7L291.2,685.5L291.8,685.2L292.4,684.8L293.1,684.4L293.7,684.0L294.3,683.5L295.0,683.1L295.6,682.6L296.2,682.1L296.9,681.6L297.5,681.0L298.1,680.5L298.7,679.9L299.4,679.4L300.0,678.8L300.6,678.2L301.3,677.6L301.9,677.0L302.5,676.3L303.2,675.7L303.8,675.0L304.4,674.3L305.1,673.6L305.7,672.9L306.3,672.2L307.0,671.4L307.6,670.5L308.2,669.5L308.9,668.4L309.5,667.3L310.1,666.0L310.8,664.6L311.4,663.1L312.0,661.3L312.7,659.3L313.3,656.8L313.9,654.0L314.6,650.7L315.2,646.9L315.8,642.8L316.5,638.4L317.1,633.8L317.7,629.0L318.4,624.2L319.0,619.4L319.6,614.7L320.3,610.0L320.9,605.3L321.5,600.7L322.2,596.3L322.8,592.1L323.4,588.3L324.1,585.1L324.7,582.5L325.3,580.4L326.0,578.8L326.6,577.6L327.2,577.0L327.9,576.8L328.5,577.1L329.1,578.1L329.8,579.5L330.4,581.4L331.0,583.6L331.7,586.1L332.3,588.9L332.9,591.8L333.6,595.0L334.2,598.3L334.8,601.8L335.5,605.2L336.1,608.5L336.7,611.6L337.4,614.6L338.0,617.4L338.6,620.1L339.2,622.7L339.9,625.2L340.5,627.7L341.1,630.0L341.8,632.4L342.4,634.6L343.0,636.8L343.7,639.0L344.3,641.1L344.9,643.1L345.6,645.1L346.2,647.0L346.8,648.8L347.5,650.5L348.1,652.1L348.7,653.6L349.4,655.0L350.0,656.4L350.6,657.6L351.3,658.7L351.9,659.7L352.5,660.7L353.2,661.5L353.8,662.3L354.4,663.0L355.1,663.7L355.7,664.4L356.3,664.9L357.0,665.4L357.6,665.8L358.2,666.2L358.9,666.5L359.5,666.8L360.1,667.0L360.8,667.3L361.4,667.5L362.0,667.7L362.7,667.9L363.3,668.1L363.9,668.3L364.6,668.5L365.2,668.6L365.8,668.8L366.5,668.9L367.1,669.0L367.7,669.1L368.4,669.1L369.0,669.1L369.6,669.2L370.3,669.2L370.9,669.2L371.5,669.3L372.2,669.3L372.8,669.3L373.4,669.3L374.1,669.4L374.7,669.4L375.3,669.4L376.0,669.4L376.6,669.4L377.2,669.4L377.9,669.4L378.5,669.4L379.1,669.4L379.7,669.4L380.4,669.4L381.0,669.4L381.6,669.4L382.3,669.4L382.9,669.3L383.5,669.3L384.2,669.3L384.8,669.3L385.4,669.2L386.1,669.2L386.7,669.2L387.3,669.1L388.0,669.1L388.6,669.1L389.2,669.1L389.9,669.0L390.5,669.0L391.1,669.0L391.8,668.9L392.4,668.9L393.0,668.9L393.7,668.8L394.3,668.8L394.9,668.7L395.6,668.7L396.2,668.7L396.8,668.6L397.5,668.6L398.1,668.5L398.7,668.5L399.4,668.5L400.0,668.4L400.6,668.4L401.3,668.3L401.9,668.3L402.5,668.2L403.2,668.2L403.8,668.2L404.4,668.1L405.1,668.1L405.7,668.0L406.3,668.0L407.0,667.9L407.6,667.9L408.2,667.9L408.9,667.8L409.5,667.8L410.1,667.7L410.8,667.7L411.4,667.7L412.0,667.6L412.7,667.6L413.3,667.5L413.9,667.5L414.6,667.4L415.2,667.4L415.8,667.4L416.5,667.3L417.1,667.3L417.7,667.2L418.4,667.2L419.0,667.1L419.6,667.1L420.2,667.1L420.9,667.0L421.5,667.0L422.1,666.9L422.8,666.8L423.4,666.7L424.0,666.6L424.7,666.5L425.3,666.4L425.9,666.3L426.6,666.1L427.2,666.0L427.8,665.9L428.5,665.7L429.1,665.6L429.7,665.5L430.4,665.3L431.0,665.2L431.6,665.1L432.3,665.0L432.9,664.8L433.5,664.7L434.2,664.6L434.8,664.4L435.4,664.3L436.1,664.2L436.7,664.1L437.3,663.9L438.0,663.8L438.6,663.7L439.2,663.5L439.9,663.4L440.5,663.3" stroke="#2222ff"/>
<path d="M276.6,691.2L277.2,691.4L277.9,691.5L278.5,691.6L279.1,691.5L279.8,691.4L280.4,691.1L281.0,690.7L281.7,690.1L282.3,689.4L282.9,688.6L283.6,687.7L284.2,686.6L284.8,685.4L285.5,684.0L286.1,682.6L286.7,680.9L287.4,679.2L288.0,677.3L288.6,675.2L289.3,672.9L289.9,670.5L290.5,668.0L291.2,665.3L291.8,662.6L292.4,659.8L293.1,656.9L293.7,653.9L294.3,650.8L295.0,647.7L295.6,644.5L296.2,641.1L296.9,637.8L297.5,634.3L298.1,630.9L298.7,627.6L299.4,624.3L300.0,621.2L300.6,618.3L301.3,615.5L301.9,613.0L302.5,610.6L303.2,608.6L303.8,606.8L304.4,605.3L305.1,604.1L305.7,603.1L306.3,602.5L307.0,602.1L307.6,602.1L308.2,602.5L308.9,603.2L309.5,604.2L310.1,605.6L310.8,607.3L311.4,609.1L312.0,611.2L312.7,613.4L313.3,615.7L313.9,618.1L314.6,620.6L315.2,623.2L315.8,626.0L316.5,628.7L317.1,631.6L317.7,634.4L318.4,637.1L319.0,639.8L319.6,642.3L320.3,644.7L320.9,647.0L321.5,649.1L322.2,651.1L322.8,652.9L323.4,654.6L324.1,656.0L324.7,657.4L325.3,658.6L326.0,659.7L326.6,660.6L327.2,661.5L327.9,662.3L328.5,662.9L329.1,663.5L329.8,664.1L330.4,664.6L331.0,665.1L331.7,665.6L332.3,666.0L332.9,666.4L333.6,666.8L334.2,667.2L334.8,667.5L335.5,667.8L336.1,668.1L336.7,668.3L337.4,668.6L338.0,668.8L338.6,669.0L339.2,669.2L339.9,669.5L340.5,669.7L341.1,669.8L341.8,670.0L342.4,670.1L343.0,670.3L343.7,670.4L344.3,670.4L344.9,670.5L345.6,670.5L346.2,670.5L346.8,670.5L347.5,670.5L348.1,670.5L348.7,670.5L349.4,670.4L350.0,670.4L350.6,670.4L351.3,670.3L351.9,670.3L352.5,670.2L353.2,670.2L353.8,670.1L354.4,670.0L355.1,669.9L355.7,669.8L356.3,669.7L357.0,669.7L357.6,669.6L358.2,669.5L358.9,669.4L359.5,669.3L360.1,669.2L360.8,669.0L361.4,668.9L362.0,668.8L362.7,668.7L363.3,668.6L363.9,668.5L364.6,668.4L365.2,668.3L365.8,668.3L366.5,668.2L367.1,668.1L367.7,668.0L368.4,667.9L369.0,667.8L369.6,667.8L370.3,667.7L370.9,667.6L371.5,667.5L372.2,667.5L372.8,667.4L373.4,667.3L374.1,667.3L374.7,667.2L375.3,667.1L376.0,667.1L376.6,667.0L377.2,666.9L377.9,666.9L378.5,666.8L379.1,666.7L379.7,666.6L380.4,666.6L381.0,666.5L381.6,666.4L382.3,666.3L382.9,666.2L383.5,666.1L384.2,666.0L384.8,665.9L385.4,665.8L386.1,665.7L386.7,665.6L387.3,665.5L388.0,665.4L388.6,665.3L389.2,665.2L389.9,665.1L390.5,665.0L391.1,664.9L391.8,664.8L392.4,664.7L393.0,664.6L393.7,664.5L394.3,664.4L394.9,664.4L395.6,664.3L396.2,664.2L396.8,664.1L397.5,664.0L398.1,663.9L398.7,663.8L399.4,663.7L400.0,663.6L400.6,663.6L401.3,663.5L401.9,663.4L402.5,663.3L403.2,663.2L403.8,663.1L404.4,663.1L405.1,663.0L405.7,662.9L406.3,662.8L407.0,662.7L407.6,662.7L408.2,662.6L408.9,662.5L409.5,662.4L410.1,662.4L410.8,662.3L411.4,662.2L412.0,662.2L412.7,662.1L413.3,662.0L413.9,661.9L414.6,661.9L415.2,661.8L415.8,661.7L416.5,661.7L417.1,661.6L417.7,661.5L418.4,661.4L419.0,661.4L419.6,661.3L420.2,661.2L420.9,661.2L421.5,661.1L422.1,661.0L422.8,660.9L423.4,660.9L424.0,660.8L424.7,660.7L425.3,660.7L425.9,660.6L426.6,660.5L427.2,660.4L427.8,660.4L428.5,660.3L429.1,660.2L429.7,660.1L430.4,660.1L431.0,660.0L431.6,659.9L432.3,659.8L432.9,659.7L433.5,659.6L434.2,659.5L434.8,659.3L435.4,659.2L436.1,659.1L436.7,658.9L437.3,658.8L438.0,658.6L438.6,658.5L439.2,658.3L439.9,658.2L440.5,658.1" stroke="#c8a030"/>
</g>
<path d="M276.6,695v-2.6M309.38,695v-2.6M342.16,695v-2.6M374.94,695v-2.6M407.72,695v-2.6M440.5,695v-2.6M292.99,695v-1.6M325.77,695v-1.6M358.55,695v-1.6M391.33,695v-1.6M424.11,695v-1.6M276.6,695h2.6M276.6,677.51h2.6M276.6,660.03h2.6M276.6,642.54h2.6M276.6,625.06h2.6M276.6,607.57h2.6M276.6,590.09h2.6M276.6,572.6h2.6M276.6,686.26h1.6M276.6,668.77h1.6M276.6,651.29h1.6M276.6,633.8h1.6M276.6,616.32h1.6M276.6,598.83h1.6M276.6,581.35h1.6" stroke="#000" stroke-width="1" fill="none"/>
<rect x="276.6" y="563.6" width="163.9" height="131.4" fill="none" stroke="#000" stroke-width="1.15"/>
<g font-family="'Liberation Sans', Arial, sans-serif" font-weight="bold" font-size="9.7" fill="#000">
<text x="276.6" y="705.7" text-anchor="middle">450</text>
<text x="309.38" y="705.7" text-anchor="middle">500</text>
<text x="342.16" y="705.7" text-anchor="middle">550</text>
<text x="374.94" y="705.7" text-anchor="middle">600</text>
<text x="407.72" y="705.7" text-anchor="middle">650</text>
<text x="440.5" y="705.7" text-anchor="middle">700</text>
<text x="273.1" y="698.35" text-anchor="end">0</text>
<text x="273.1" y="680.86" text-anchor="end">2</text>
<text x="273.1" y="663.38" text-anchor="end">4</text>
<text x="273.1" y="645.89" text-anchor="end">6</text>
<text x="273.1" y="628.41" text-anchor="end">8</text>
<text x="273.1" y="610.92" text-anchor="end">10</text>
<text x="273.1" y="593.44" text-anchor="end">12</text>
<text x="273.1" y="575.95" text-anchor="end">14</text>
</g>
<g font-family="'Liberation Sans', Arial, sans-serif" font-weight="bold" font-size="11.2" fill="#000">
<text x="358.5" y="720.3" text-anchor="middle">Wavelength (nm)</text>
<text transform="translate(255.7,629.5) rotate(-90)" text-anchor="middle">Reflectance (%)</text>
</g>
<g font-family="'Liberation Sans', Arial, sans-serif" font-weight="bold" font-size="8.5" fill="#000">
<path d="M387.6,574H407.5" stroke="#ff2020" stroke-width="1.5"/>
<text x="410.1" y="577.06">Initial</text>
<path d="M387.6,584.9H407.5" stroke="#ff8020" stroke-width="1.5"/>
<text x="410.1" y="587.96">20%</text>
<path d="M387.6,595.8H407.5" stroke="#6aa820" stroke-width="1.5"/>
<text x="410.1" y="598.86">40%</text>
<path d="M387.6,606.7H407.5" stroke="#20f0ff" stroke-width="1.5"/>
<text x="410.1" y="609.76">60%</text>
<path d="M387.6,617.6H407.5" stroke="#2222ff" stroke-width="1.5"/>
<text x="410.1" y="620.66">80%</text>
<path d="M387.6,628.5H407.5" stroke="#c8a030" stroke-width="1.5"/>
<text x="410.1" y="631.56">100%</text>
</g>
<text x="284.9" y="583" font-family="'Liberation Sans', Arial, sans-serif" font-weight="bold" font-size="10.6" fill="#000">L-CPF</text>
<clipPath id="cpi"><rect x="494.5" y="565.5" width="164.1" height="131.3"/></clipPath>
<g clip-path="url(#cpi)" fill="none" stroke-width="1.5" stroke-linejoin="round">
<path d="M494.5,688.3L495.1,688.2L495.8,688.1L496.4,687.9L497.0,687.8L497.7,687.7L498.3,687.6L498.9,687.5L499.6,687.5L500.2,687.4L500.8,687.4L501.5,687.4L502.1,687.3L502.7,687.3L503.4,687.2L504.0,687.2L504.6,687.1L505.3,687.1L505.9,687.0L506.5,686.9L507.2,686.8L507.8,686.7L508.4,686.7L509.1,686.6L509.7,686.5L510.3,686.4L511.0,686.3L511.6,686.1L512.2,686.0L512.9,685.8L513.5,685.7L514.1,685.5L514.8,685.3L515.4,685.1L516.0,684.9L516.7,684.7L517.3,684.5L517.9,684.3L518.6,684.2L519.2,684.0L519.8,683.9L520.5,683.7L521.1,683.6L521.7,683.6L522.4,683.5L523.0,683.5L523.6,683.5L524.3,683.5L524.9,683.4L525.5,683.4L526.2,683.3L526.8,683.3L527.4,683.2L528.1,683.1L528.7,683.0L529.3,682.8L530.0,682.7L530.6,682.6L531.2,682.5L531.9,682.3L532.5,682.2L533.1,682.1L533.8,682.0L534.4,681.8L535.0,681.7L535.7,681.6L536.3,681.4L537.0,681.3L537.6,681.2L538.2,681.1L538.9,680.9L539.5,680.8L540.1,680.7L540.8,680.5L541.4,680.4L542.0,680.3L542.7,680.1L543.3,680.0L543.9,679.9L544.6,679.7L545.2,679.6L545.8,679.5L546.5,679.3L547.1,679.2L547.7,679.1L548.4,678.9L549.0,678.8L549.6,678.6L550.3,678.5L550.9,678.4L551.5,678.2L552.2,678.1L552.8,677.9L553.4,677.8L554.1,677.6L554.7,677.4L555.3,677.2L556.0,677.0L556.6,676.8L557.2,676.6L557.9,676.3L558.5,676.1L559.1,675.8L559.8,675.5L560.4,675.2L561.0,674.9L561.7,674.6L562.3,674.3L562.9,674.0L563.6,673.7L564.2,673.4L564.8,673.1L565.5,672.8L566.1,672.4L566.7,672.0L567.4,671.7L568.0,671.3L568.6,670.8L569.3,670.4L569.9,669.9L570.5,669.5L571.2,669.0L571.8,668.5L572.4,667.9L573.1,667.3L573.7,666.7L574.3,666.1L575.0,665.4L575.6,664.7L576.2,663.9L576.9,663.1L577.5,662.3L578.1,661.5L578.8,660.7L579.4,659.8L580.0,659.0L580.7,658.2L581.3,657.3L581.9,656.4L582.6,655.5L583.2,654.5L583.8,653.4L584.5,652.3L585.1,651.0L585.7,649.5L586.4,647.8L587.0,646.0L587.6,643.9L588.3,641.8L588.9,639.5L589.5,637.2L590.2,634.8L590.8,632.3L591.4,629.7L592.1,627.2L592.7,624.6L593.3,622.1L594.0,619.7L594.6,617.5L595.2,615.4L595.9,613.5L596.5,611.8L597.1,610.3L597.8,608.9L598.4,607.8L599.0,606.7L599.7,605.9L600.3,605.1L600.9,604.5L601.6,604.0L602.2,603.5L602.8,603.2L603.5,602.9L604.1,602.8L604.7,602.8L605.4,602.9L606.0,603.0L606.6,603.2L607.3,603.4L607.9,603.6L608.5,603.9L609.2,604.2L609.8,604.4L610.4,604.7L611.1,605.0L611.7,605.3L612.3,605.6L613.0,605.8L613.6,606.0L614.2,606.3L614.9,606.5L615.5,606.7L616.1,606.9L616.8,607.3L617.4,607.8L618.1,608.5L618.7,609.5L619.3,610.9L620.0,612.6L620.6,614.8L621.2,617.3L621.9,620.1L622.5,623.1L623.1,626.2L623.8,629.5L624.4,632.9L625.0,636.3L625.7,639.7L626.3,643.0L626.9,646.3L627.6,649.4L628.2,652.3L628.8,655.1L629.5,657.6L630.1,660.0L630.7,662.0L631.4,663.8L632.0,665.4L632.6,666.8L633.3,667.9L633.9,669.0L634.5,669.8L635.2,670.6L635.8,671.3L636.4,671.9L637.1,672.4L637.7,673.0L638.3,673.5L639.0,674.0L639.6,674.5L640.2,674.9L640.9,675.3L641.5,675.6L642.1,675.8L642.8,676.1L643.4,676.3L644.0,676.5L644.7,676.6L645.3,676.8L645.9,677.0L646.6,677.2L647.2,677.4L647.8,677.5L648.5,677.7L649.1,677.8L649.7,678.0L650.4,678.1L651.0,678.2L651.6,678.3L652.3,678.4L652.9,678.5L653.5,678.6L654.2,678.7L654.8,678.8L655.4,678.9L656.1,679.0L656.7,679.1L657.3,679.2L658.0,679.2L658.6,679.2" stroke="#ff2020"/>
<path d="M494.5,688.3L495.1,688.1L495.8,687.9L496.4,687.7L497.0,687.4L497.7,687.3L498.3,687.1L498.9,687.0L499.6,686.9L500.2,686.8L500.8,686.8L501.5,686.9L502.1,687.0L502.7,687.2L503.4,687.4L504.0,687.7L504.6,687.9L505.3,688.2L505.9,688.3L506.5,688.4L507.2,688.4L507.8,688.3L508.4,688.2L509.1,687.9L509.7,687.7L510.3,687.4L511.0,687.1L511.6,686.9L512.2,686.6L512.9,686.3L513.5,686.1L514.1,685.9L514.8,685.7L515.4,685.5L516.0,685.3L516.7,685.1L517.3,684.9L517.9,684.7L518.6,684.5L519.2,684.3L519.8,684.2L520.5,684.0L521.1,683.8L521.7,683.6L522.4,683.4L523.0,683.2L523.6,683.0L524.3,682.8L524.9,682.6L525.5,682.5L526.2,682.3L526.8,682.1L527.4,681.9L528.1,681.7L528.7,681.5L529.3,681.3L530.0,681.1L530.6,680.9L531.2,680.6L531.9,680.4L532.5,680.2L533.1,680.0L533.8,679.8L534.4,679.6L535.0,679.3L535.7,679.1L536.3,678.9L537.0,678.6L537.6,678.4L538.2,678.1L538.9,677.8L539.5,677.5L540.1,677.2L540.8,676.8L541.4,676.4L542.0,676.0L542.7,675.6L543.3,675.2L543.9,674.7L544.6,674.3L545.2,673.8L545.8,673.4L546.5,672.9L547.1,672.4L547.7,671.9L548.4,671.4L549.0,670.8L549.6,670.2L550.3,669.6L550.9,668.9L551.5,668.2L552.2,667.5L552.8,666.8L553.4,666.0L554.1,665.2L554.7,664.4L555.3,663.5L556.0,662.5L556.6,661.5L557.2,660.5L557.9,659.4L558.5,658.3L559.1,657.1L559.8,656.0L560.4,654.8L561.0,653.6L561.7,652.3L562.3,650.9L562.9,649.4L563.6,647.7L564.2,645.8L564.8,643.8L565.5,641.5L566.1,639.0L566.7,636.4L567.4,633.6L568.0,630.7L568.6,627.6L569.3,624.5L569.9,621.4L570.5,618.2L571.2,614.9L571.8,611.6L572.4,608.3L573.1,605.2L573.7,602.2L574.3,599.5L575.0,597.0L575.6,594.8L576.2,592.9L576.9,591.2L577.5,589.9L578.1,588.7L578.8,587.8L579.4,587.0L580.0,586.4L580.7,585.9L581.3,585.5L581.9,585.2L582.6,584.9L583.2,584.7L583.8,584.6L584.5,584.5L585.1,584.5L585.7,584.5L586.4,584.6L587.0,584.7L587.6,585.0L588.3,585.3L588.9,585.8L589.5,586.5L590.2,587.2L590.8,588.1L591.4,589.1L592.1,590.2L592.7,591.3L593.3,592.5L594.0,593.8L594.6,595.0L595.2,596.4L595.9,597.8L596.5,599.3L597.1,601.0L597.8,602.9L598.4,604.9L599.0,607.2L599.7,609.7L600.3,612.4L600.9,615.3L601.6,618.3L602.2,621.5L602.8,624.8L603.5,628.1L604.1,631.5L604.7,634.9L605.4,638.2L606.0,641.6L606.6,644.8L607.3,647.9L607.9,651.0L608.5,653.9L609.2,656.8L609.8,659.4L610.4,661.9L611.1,664.1L611.7,666.1L612.3,667.8L613.0,669.2L613.6,670.4L614.2,671.5L614.9,672.4L615.5,673.2L616.1,673.9L616.8,674.6L617.4,675.2L618.1,675.7L618.7,676.1L619.3,676.4L620.0,676.7L620.6,676.9L621.2,677.2L621.9,677.4L622.5,677.6L623.1,677.9L623.8,678.1L624.4,678.3L625.0,678.5L625.7,678.6L626.3,678.8L626.9,678.9L627.6,679.1L628.2,679.2L628.8,679.2L629.5,679.3L630.1,679.4L630.7,679.4L631.4,679.5L632.0,679.5L632.6,679.6L633.3,679.6L633.9,679.7L634.5,679.7L635.2,679.7L635.8,679.8L636.4,679.8L637.1,679.9L637.7,679.9L638.3,680.0L639.0,680.0L639.6,680.1L640.2,680.1L640.9,680.2L641.5,680.2L642.1,680.2L642.8,680.3L643.4,680.3L644.0,680.3L644.7,680.4L645.3,680.4L645.9,680.4L646.6,680.5L647.2,680.5L647.8,680.5L648.5,680.6L649.1,680.6L649.7,680.6L650.4,680.7L651.0,680.7L651.6,680.7L652.3,680.8L652.9,680.8L653.5,680.8L654.2,680.8L654.8,680.9L655.4,680.9L656.1,680.9L656.7,681.0L657.3,681.0L658.0,681.0L658.6,681.0" stroke="#ff8020"/>
<path d="M494.5,690.7L495.1,690.3L495.8,689.9L496.4,689.3L497.0,688.9L497.7,688.4L498.3,688.1L498.9,687.8L499.6,687.6L500.2,687.4L500.8,687.3L501.5,687.4L502.1,687.5L502.7,687.8L503.4,688.1L504.0,688.5L504.6,689.0L505.3,689.3L505.9,689.6L506.5,689.7L507.2,689.7L507.8,689.6L508.4,689.3L509.1,689.0L509.7,688.7L510.3,688.4L511.0,688.0L511.6,687.7L512.2,687.3L512.9,687.0L513.5,686.6L514.1,686.3L514.8,686.0L515.4,685.7L516.0,685.4L516.7,685.1L517.3,684.8L517.9,684.6L518.6,684.3L519.2,684.0L519.8,683.7L520.5,683.3L521.1,683.0L521.7,682.7L522.4,682.3L523.0,682.0L523.6,681.6L524.3,681.2L524.9,680.8L525.5,680.4L526.2,680.0L526.8,679.6L527.4,679.2L528.1,678.7L528.7,678.3L529.3,677.8L530.0,677.3L530.6,676.7L531.2,676.2L531.9,675.6L532.5,675.1L533.1,674.5L533.8,673.9L534.4,673.2L535.0,672.6L535.7,671.9L536.3,671.2L537.0,670.4L537.6,669.7L538.2,668.8L538.9,668.0L539.5,667.2L540.1,666.3L540.8,665.4L541.4,664.5L542.0,663.6L542.7,662.6L543.3,661.6L543.9,660.5L544.6,659.4L545.2,658.1L545.8,656.7L546.5,655.2L547.1,653.7L547.7,652.0L548.4,650.3L549.0,648.6L549.6,646.8L550.3,645.1L550.9,643.3L551.5,641.5L552.2,639.7L552.8,637.9L553.4,636.1L554.1,634.3L554.7,632.5L555.3,630.7L556.0,628.9L556.6,627.2L557.2,625.5L557.9,624.1L558.5,622.7L559.1,621.6L559.8,620.6L560.4,619.7L561.0,619.0L561.7,618.3L562.3,617.7L562.9,617.2L563.6,616.7L564.2,616.3L564.8,616.1L565.5,615.8L566.1,615.7L566.7,615.6L567.4,615.6L568.0,615.6L568.6,615.7L569.3,615.8L569.9,616.0L570.5,616.3L571.2,616.7L571.8,617.1L572.4,617.7L573.1,618.3L573.7,619.1L574.3,619.9L575.0,620.9L575.6,622.0L576.2,623.3L576.9,624.7L577.5,626.3L578.1,628.0L578.8,629.8L579.4,631.8L580.0,633.8L580.7,636.0L581.3,638.2L581.9,640.4L582.6,642.7L583.2,645.1L583.8,647.6L584.5,650.2L585.1,652.8L585.7,655.4L586.4,658.0L587.0,660.4L587.6,662.7L588.3,664.8L588.9,666.7L589.5,668.3L590.2,669.7L590.8,671.0L591.4,672.0L592.1,673.0L592.7,673.9L593.3,674.6L594.0,675.3L594.6,675.9L595.2,676.4L595.9,676.8L596.5,677.1L597.1,677.3L597.8,677.5L598.4,677.7L599.0,677.9L599.7,678.0L600.3,678.2L600.9,678.3L601.6,678.4L602.2,678.5L602.8,678.6L603.5,678.6L604.1,678.7L604.7,678.7L605.4,678.8L606.0,678.8L606.6,678.9L607.3,678.9L607.9,679.0L608.5,679.0L609.2,679.1L609.8,679.1L610.4,679.2L611.1,679.2L611.7,679.3L612.3,679.3L613.0,679.3L613.6,679.4L614.2,679.4L614.9,679.5L615.5,679.5L616.1,679.6L616.8,679.6L617.4,679.6L618.1,679.7L618.7,679.7L619.3,679.7L620.0,679.8L620.6,679.8L621.2,679.8L621.9,679.8L622.5,679.9L623.1,679.9L623.8,679.9L624.4,680.0L625.0,680.0L625.7,680.0L626.3,680.1L626.9,680.1L627.6,680.1L628.2,680.1L628.8,680.2L629.5,680.2L630.1,680.2L630.7,680.3L631.4,680.3L632.0,680.3L632.6,680.3L633.3,680.4L633.9,680.4L634.5,680.4L635.2,680.5L635.8,680.5L636.4,680.5L637.1,680.5L637.7,680.6L638.3,680.6L639.0,680.6L639.6,680.6L640.2,680.6L640.9,680.7L641.5,680.7L642.1,680.7L642.8,680.7L643.4,680.8L644.0,680.8L644.7,680.8L645.3,680.8L645.9,680.8L646.6,680.9L647.2,680.9L647.8,680.9L648.5,680.9L649.1,680.9L649.7,681.0L650.4,681.0L651.0,681.0L651.6,681.0L652.3,681.0L652.9,681.1L653.5,681.1L654.2,681.1L654.8,681.1L655.4,681.1L656.1,681.1L656.7,681.2L657.3,681.2L658.0,681.2L658.6,681.2" stroke="#6aa820"/>
<path d="M494.5,693.4L495.1,693.0L495.8,692.6L496.4,692.1L497.0,691.6L497.7,691.1L498.3,690.7L498.9,690.3L499.6,689.9L500.2,689.6L500.8,689.3L501.5,689.1L502.1,688.9L502.7,688.8L503.4,688.7L504.0,688.7L504.6,688.7L505.3,689.0L505.9,689.3L506.5,689.7L507.2,690.0L507.8,690.2L508.4,690.1L509.1,689.8L509.7,689.3L510.3,688.7L511.0,688.1L511.6,687.4L512.2,686.7L512.9,686.0L513.5,685.3L514.1,684.6L514.8,683.9L515.4,683.3L516.0,682.6L516.7,682.0L517.3,681.3L517.9,680.7L518.6,680.0L519.2,679.3L519.8,678.7L520.5,678.1L521.1,677.5L521.7,676.9L522.4,676.4L523.0,675.8L523.6,675.3L524.3,674.8L524.9,674.2L525.5,673.5L526.2,672.7L526.8,671.8L527.4,670.8L528.1,669.7L528.7,668.5L529.3,667.3L530.0,666.0L530.6,664.7L531.2,663.3L531.9,662.0L532.5,660.7L533.1,659.4L533.8,658.1L534.4,656.8L535.0,655.6L535.7,654.3L536.3,653.0L537.0,651.6L537.6,650.3L538.2,648.9L538.9,647.4L539.5,645.9L540.1,644.5L540.8,643.0L541.4,641.6L542.0,640.4L542.7,639.2L543.3,638.0L543.9,637.0L544.6,636.1L545.2,635.2L545.8,634.3L546.5,633.6L547.1,632.8L547.7,632.1L548.4,631.4L549.0,630.8L549.6,630.2L550.3,629.6L550.9,629.1L551.5,628.6L552.2,628.1L552.8,627.7L553.4,627.4L554.1,627.1L554.7,626.8L555.3,626.7L556.0,626.7L556.6,626.9L557.2,627.3L557.9,627.8L558.5,628.6L559.1,629.6L559.8,630.7L560.4,632.0L561.0,633.4L561.7,634.9L562.3,636.5L562.9,638.2L563.6,640.0L564.2,641.9L564.8,643.9L565.5,645.9L566.1,647.9L566.7,649.9L567.4,651.9L568.0,653.8L568.6,655.6L569.3,657.4L569.9,659.1L570.5,660.7L571.2,662.3L571.8,663.8L572.4,665.3L573.1,666.7L573.7,668.0L574.3,669.3L575.0,670.4L575.6,671.5L576.2,672.5L576.9,673.3L577.5,674.1L578.1,674.7L578.8,675.2L579.4,675.7L580.0,676.1L580.7,676.5L581.3,676.8L581.9,677.2L582.6,677.5L583.2,677.7L583.8,677.9L584.5,678.1L585.1,678.3L585.7,678.4L586.4,678.6L587.0,678.6L587.6,678.7L588.3,678.8L588.9,678.9L589.5,678.9L590.2,679.0L590.8,679.1L591.4,679.1L592.1,679.2L592.7,679.3L593.3,679.3L594.0,679.4L594.6,679.5L595.2,679.5L595.9,679.6L596.5,679.6L597.1,679.7L597.8,679.8L598.4,679.8L599.0,679.9L599.7,679.9L600.3,680.0L600.9,680.0L601.6,680.0L602.2,680.1L602.8,680.1L603.5,680.2L604.1,680.2L604.7,680.3L605.4,680.3L606.0,680.4L606.6,680.4L607.3,680.5L607.9,680.5L608.5,680.6L609.2,680.6L609.8,680.7L610.4,680.7L611.1,680.8L611.7,680.8L612.3,680.9L613.0,680.9L613.6,681.0L614.2,681.0L614.9,681.0L615.5,681.1L616.1,681.1L616.8,681.2L617.4,681.2L618.1,681.3L618.7,681.3L619.3,681.4L620.0,681.4L620.6,681.4L621.2,681.5L621.9,681.5L622.5,681.5L623.1,681.6L623.8,681.6L624.4,681.7L625.0,681.7L625.7,681.7L626.3,681.8L626.9,681.8L627.6,681.8L628.2,681.9L628.8,681.9L629.5,681.9L630.1,681.9L630.7,682.0L631.4,682.0L632.0,682.0L632.6,682.0L633.3,682.1L633.9,682.1L634.5,682.1L635.2,682.1L635.8,682.2L636.4,682.2L637.1,682.2L637.7,682.2L638.3,682.2L639.0,682.3L639.6,682.3L640.2,682.3L640.9,682.3L641.5,682.3L642.1,682.3L642.8,682.3L643.4,682.4L644.0,682.4L644.7,682.4L645.3,682.4L645.9,682.4L646.6,682.4L647.2,682.4L647.8,682.4L648.5,682.5L649.1,682.5L649.7,682.5L650.4,682.5L651.0,682.5L651.6,682.5L652.3,682.5L652.9,682.5L653.5,682.5L654.2,682.5L654.8,682.5L655.4,682.5L656.1,682.5L656.7,682.5L657.3,682.5L658.0,682.5L658.6,682.5" stroke="#20f0ff"/>
<path d="M494.5,693.6L495.1,693.5L495.8,693.4L496.4,693.1L497.0,692.8L497.7,692.4L498.3,691.9L498.9,691.4L499.6,690.9L500.2,690.4L500.8,689.8L501.5,689.3L502.1,688.7L502.7,688.2L503.4,687.6L504.0,687.0L504.6,686.5L505.3,685.9L505.9,685.4L506.5,684.8L507.2,684.2L507.8,683.7L508.4,683.2L509.1,682.7L509.7,682.1L510.3,681.6L511.0,681.1L511.6,680.5L512.2,679.9L512.9,679.1L513.5,678.3L514.1,677.3L514.8,676.2L515.4,675.1L516.0,673.9L516.7,672.7L517.3,671.5L517.9,670.4L518.6,669.3L519.2,668.2L519.8,667.1L520.5,666.0L521.1,664.9L521.7,663.8L522.4,662.8L523.0,661.8L523.6,660.9L524.3,660.0L524.9,659.3L525.5,658.5L526.2,657.9L526.8,657.4L527.4,656.9L528.1,656.5L528.7,656.1L529.3,655.7L530.0,655.2L530.6,654.6L531.2,654.0L531.9,653.3L532.5,652.6L533.1,651.8L533.8,651.1L534.4,650.4L535.0,649.7L535.7,649.0L536.3,648.3L537.0,647.7L537.6,647.1L538.2,646.5L538.9,645.9L539.5,645.5L540.1,645.1L540.8,644.9L541.4,644.8L542.0,644.9L542.7,645.1L543.3,645.4L543.9,646.0L544.6,646.8L545.2,647.9L545.8,649.2L546.5,650.6L547.1,652.1L547.7,653.6L548.4,655.1L549.0,656.6L549.6,657.9L550.3,659.2L550.9,660.5L551.5,661.6L552.2,662.7L552.8,663.5L553.4,664.2L554.1,664.8L554.7,665.3L555.3,665.7L556.0,666.2L556.6,666.6L557.2,667.0L557.9,667.4L558.5,667.8L559.1,668.3L559.8,668.7L560.4,669.1L561.0,669.5L561.7,670.0L562.3,670.4L562.9,670.9L563.6,671.4L564.2,671.9L564.8,672.4L565.5,672.9L566.1,673.3L566.7,673.8L567.4,674.2L568.0,674.5L568.6,674.8L569.3,675.1L569.9,675.4L570.5,675.6L571.2,675.8L571.8,676.0L572.4,676.2L573.1,676.4L573.7,676.5L574.3,676.7L575.0,676.9L575.6,677.0L576.2,677.2L576.9,677.3L577.5,677.5L578.1,677.6L578.8,677.8L579.4,677.9L580.0,678.0L580.7,678.1L581.3,678.2L581.9,678.3L582.6,678.3L583.2,678.4L583.8,678.5L584.5,678.5L585.1,678.5L585.7,678.6L586.4,678.6L587.0,678.7L587.6,678.7L588.3,678.7L588.9,678.8L589.5,678.8L590.2,678.8L590.8,678.9L591.4,678.9L592.1,678.9L592.7,678.9L593.3,679.0L594.0,679.0L594.6,679.0L595.2,679.0L595.9,679.0L596.5,679.1L597.1,679.1L597.8,679.1L598.4,679.1L599.0,679.1L599.7,679.1L600.3,679.1L600.9,679.1L601.6,679.1L602.2,679.1L602.8,679.1L603.5,679.1L604.1,679.1L604.7,679.1L605.4,679.1L606.0,679.2L606.6,679.2L607.3,679.2L607.9,679.2L608.5,679.2L609.2,679.2L609.8,679.2L610.4,679.2L611.1,679.2L611.7,679.2L612.3,679.2L613.0,679.2L613.6,679.2L614.2,679.2L614.9,679.2L615.5,679.2L616.1,679.2L616.8,679.2L617.4,679.2L618.1,679.2L618.7,679.2L619.3,679.2L620.0,679.2L620.6,679.2L621.2,679.2L621.9,679.2L622.5,679.1L623.1,679.1L623.8,679.1L624.4,679.1L625.0,679.1L625.7,679.1L626.3,679.1L626.9,679.1L627.6,679.1L628.2,679.1L628.8,679.0L629.5,679.0L630.1,679.0L630.7,679.0L631.4,679.0L632.0,679.0L632.6,679.0L633.3,678.9L633.9,678.9L634.5,678.9L635.2,678.9L635.8,678.9L636.4,678.8L637.1,678.8L637.7,678.8L638.3,678.8L639.0,678.7L639.6,678.7L640.2,678.7L640.9,678.6L641.5,678.6L642.1,678.6L642.8,678.6L643.4,678.5L644.0,678.5L644.7,678.4L645.3,678.4L645.9,678.4L646.6,678.3L647.2,678.3L647.8,678.3L648.5,678.2L649.1,678.2L649.7,678.1L650.4,678.1L651.0,678.0L651.6,677.9L652.3,677.9L652.9,677.8L653.5,677.8L654.2,677.7L654.8,677.6L655.4,677.6L656.1,677.5L656.7,677.4L657.3,677.4L658.0,677.3L658.6,677.3" stroke="#2222ff"/>
<path d="M494.5,688.0L495.1,687.5L495.8,686.9L496.4,686.1L497.0,685.3L497.7,684.5L498.3,683.6L498.9,682.7L499.6,681.7L500.2,680.8L500.8,679.9L501.5,679.0L502.1,678.3L502.7,677.6L503.4,677.2L504.0,676.8L504.6,676.6L505.3,676.3L505.9,676.0L506.5,675.7L507.2,675.3L507.8,674.8L508.4,674.3L509.1,673.7L509.7,673.0L510.3,672.2L511.0,671.4L511.6,670.4L512.2,669.3L512.9,668.2L513.5,667.1L514.1,665.9L514.8,664.7L515.4,663.4L516.0,662.1L516.7,660.8L517.3,659.6L517.9,658.5L518.6,657.6L519.2,656.8L519.8,656.3L520.5,655.9L521.1,655.7L521.7,655.6L522.4,655.8L523.0,656.1L523.6,656.6L524.3,657.3L524.9,658.0L525.5,658.7L526.2,659.6L526.8,660.4L527.4,661.3L528.1,662.1L528.7,663.0L529.3,663.7L530.0,664.4L530.6,664.9L531.2,665.3L531.9,665.5L532.5,665.7L533.1,665.8L533.8,665.8L534.4,665.8L535.0,665.8L535.7,665.8L536.3,666.0L537.0,666.2L537.6,666.6L538.2,667.0L538.9,667.4L539.5,667.9L540.1,668.3L540.8,668.7L541.4,669.1L542.0,669.5L542.7,669.9L543.3,670.3L543.9,670.7L544.6,671.1L545.2,671.4L545.8,671.8L546.5,672.2L547.1,672.5L547.7,672.8L548.4,673.2L549.0,673.5L549.6,673.7L550.3,674.0L550.9,674.2L551.5,674.5L552.2,674.7L552.8,674.9L553.4,675.1L554.1,675.2L554.7,675.4L555.3,675.6L556.0,675.8L556.6,675.9L557.2,676.1L557.9,676.2L558.5,676.4L559.1,676.5L559.8,676.6L560.4,676.7L561.0,676.9L561.7,677.0L562.3,677.1L562.9,677.2L563.6,677.2L564.2,677.3L564.8,677.4L565.5,677.5L566.1,677.5L566.7,677.6L567.4,677.7L568.0,677.8L568.6,677.8L569.3,677.9L569.9,678.0L570.5,678.0L571.2,678.1L571.8,678.1L572.4,678.2L573.1,678.2L573.7,678.3L574.3,678.3L575.0,678.4L575.6,678.4L576.2,678.4L576.9,678.5L577.5,678.5L578.1,678.5L578.8,678.6L579.4,678.6L580.0,678.6L580.7,678.6L581.3,678.6L581.9,678.6L582.6,678.6L583.2,678.6L583.8,678.6L584.5,678.7L585.1,678.7L585.7,678.7L586.4,678.7L587.0,678.7L587.6,678.7L588.3,678.7L588.9,678.7L589.5,678.7L590.2,678.7L590.8,678.7L591.4,678.7L592.1,678.7L592.7,678.7L593.3,678.7L594.0,678.7L594.6,678.7L595.2,678.7L595.9,678.7L596.5,678.7L597.1,678.7L597.8,678.7L598.4,678.7L599.0,678.7L599.7,678.7L600.3,678.7L600.9,678.7L601.6,678.7L602.2,678.7L602.8,678.7L603.5,678.6L604.1,678.6L604.7,678.6L605.4,678.6L606.0,678.6L606.6,678.6L607.3,678.5L607.9,678.5L608.5,678.5L609.2,678.5L609.8,678.5L610.4,678.4L611.1,678.4L611.7,678.4L612.3,678.4L613.0,678.4L613.6,678.3L614.2,678.3L614.9,678.3L615.5,678.3L616.1,678.3L616.8,678.2L617.4,678.2L618.1,678.2L618.7,678.2L619.3,678.2L620.0,678.1L620.6,678.1L621.2,678.1L621.9,678.1L622.5,678.1L623.1,678.0L623.8,678.0L624.4,678.0L625.0,678.0L625.7,678.0L626.3,677.9L626.9,677.9L627.6,677.9L628.2,677.9L628.8,677.9L629.5,677.8L630.1,677.8L630.7,677.8L631.4,677.8L632.0,677.8L632.6,677.7L633.3,677.7L633.9,677.7L634.5,677.7L635.2,677.7L635.8,677.6L636.4,677.6L637.1,677.6L637.7,677.6L638.3,677.6L639.0,677.5L639.6,677.5L640.2,677.5L640.9,677.5L641.5,677.5L642.1,677.5L642.8,677.4L643.4,677.4L644.0,677.4L644.7,677.4L645.3,677.4L645.9,677.3L646.6,677.3L647.2,677.3L647.8,677.3L648.5,677.3L649.1,677.2L649.7,677.2L650.4,677.2L651.0,677.2L651.6,677.2L652.3,677.1L652.9,677.1L653.5,677.1L654.2,677.1L654.8,677.1L655.4,677.1L656.1,677.0L656.7,677.0L657.3,677.0L658.0,677.0L658.6,677.0" stroke="#c8a030"/>
</g>
<path d="M494.5,696.8v-2.6M527.32,696.8v-2.6M560.14,696.8v-2.6M592.96,696.8v-2.6M625.78,696.8v-2.6M658.6,696.8v-2.6M510.91,696.8v-1.6M543.73,696.8v-1.6M576.55,696.8v-1.6M609.37,696.8v-1.6M642.19,696.8v-1.6M494.5,696.8h2.6M494.5,674.9h2.6M494.5,653h2.6M494.5,631.11h2.6M494.5,609.21h2.6M494.5,587.31h2.6M494.5,565.41h2.6M494.5,685.85h1.6M494.5,663.95h1.6M494.5,642.06h1.6M494.5,620.16h1.6M494.5,598.26h1.6M494.5,576.36h1.6" stroke="#000" stroke-width="1" fill="none"/>
<rect x="494.5" y="565.5" width="164.1" height="131.3" fill="none" stroke="#000" stroke-width="1.15"/>
<g font-family="'Liberation Sans', Arial, sans-serif" font-weight="bold" font-size="9.7" fill="#000">
<text x="494.5" y="707.3" text-anchor="middle">450</text>
<text x="527.32" y="707.3" text-anchor="middle">500</text>
<text x="560.14" y="707.3" text-anchor="middle">550</text>
<text x="592.96" y="707.3" text-anchor="middle">600</text>
<text x="625.78" y="707.3" text-anchor="middle">650</text>
<text x="658.6" y="707.3" text-anchor="middle">700</text>
<text x="492.3" y="700.15" text-anchor="end">0</text>
<text x="492.3" y="678.25" text-anchor="end">5</text>
<text x="492.3" y="656.35" text-anchor="end">10</text>
<text x="492.3" y="634.45" text-anchor="end">15</text>
<text x="492.3" y="612.55" text-anchor="end">20</text>
<text x="492.3" y="590.66" text-anchor="end">25</text>
<text x="492.3" y="568.76" text-anchor="end">30</text>
</g>
<g font-family="'Liberation Sans', Arial, sans-serif" font-weight="bold" font-size="11.2" fill="#000">
<text x="576.5" y="721.7" text-anchor="middle">Wavelength (nm)</text>
<text transform="translate(474.3,630.5) rotate(-90)" text-anchor="middle">Reflectance (%)</text>
</g>
<g font-family="'Liberation Sans', Arial, sans-serif" font-weight="bold" font-size="8.5" fill="#000">
<path d="M499.1,576.4H519" stroke="#ff2020" stroke-width="1.5"/>
<text x="521.3" y="579.46">Initial</text>
<path d="M499.1,587.32H519" stroke="#ff8020" stroke-width="1.5"/>
<text x="521.3" y="590.38">20%</text>
<path d="M499.1,598.24H519" stroke="#6aa820" stroke-width="1.5"/>
<text x="521.3" y="601.3">40%</text>
<path d="M499.1,609.16H519" stroke="#20f0ff" stroke-width="1.5"/>
<text x="521.3" y="612.22">60%</text>
<path d="M499.1,620.08H519" stroke="#2222ff" stroke-width="1.5"/>
<text x="521.3" y="623.14">80%</text>
<path d="M499.1,631H519" stroke="#c8a030" stroke-width="1.5"/>
<text x="521.3" y="634.06">100%</text>
</g>
<text x="609.7" y="582.8" font-family="'Liberation Sans', Arial, sans-serif" font-weight="bold" font-size="10.6" fill="#000">R-CPF</text>
<defs><filter id="nzA" x="0" y="0" width="1" height="1" color-interpolation-filters="sRGB"><feTurbulence type="fractalNoise" baseFrequency="0.9" numOctaves="2" seed="3" result="n"/><feColorMatrix in="n" type="matrix" values="0.25 0 0 0 0.76  0 0.55 0 0 0.06  0 0 0.15 0 0.03  0 0 0 0 1"/></filter><filter id="nzB" x="0" y="0" width="1" height="1" color-interpolation-filters="sRGB"><feTurbulence type="fractalNoise" baseFrequency="0.85" numOctaves="2" seed="11" result="n"/><feColorMatrix in="n" type="matrix" values="0.45 0 0 0 0.13  0 0.55 0 0 -0.01  0 0 0.15 0 0.03  0 0 0 0 1"/></filter><filter id="bl1"><feGaussianBlur stdDeviation="0.7"/></filter><filter id="bl2"><feGaussianBlur stdDeviation="1.3"/></filter><clipPath id="cpF1"><rect x="419.3" y="389.4" width="158" height="75.6"/></clipPath><clipPath id="cpF2"><rect x="419.3" y="471.1" width="158" height="76.2"/></clipPath><clipPath id="cpF3"><rect x="581.7" y="389.4" width="76.4" height="76.7"/></clipPath><clipPath id="cpF4"><rect x="581.7" y="470.7" width="76.4" height="76.8"/></clipPath></defs>
<rect x="419.3" y="389.4" width="158" height="75.6" fill="#e5511c"/>
<rect x="419.3" y="389.4" width="158" height="75.6" filter="url(#nzA)"/>
<g clip-path="url(#cpF1)" fill="#6a2410" opacity="0.7" filter="url(#bl1)"><circle cx="470.87" cy="401.86" r="1.02"/><circle cx="432.16" cy="429.58" r="0.79"/><circle cx="429.93" cy="427.54" r="0.53"/><circle cx="487.78" cy="396.03" r="0.57"/><circle cx="486.38" cy="450.53" r="0.6"/><circle cx="455.38" cy="436.18" r="1.26"/><circle cx="509.87" cy="419.56" r="1.28"/><circle cx="428.17" cy="452.81" r="0.73"/><circle cx="443.22" cy="399.48" r="0.75"/><circle cx="546.68" cy="404.01" r="0.97"/><circle cx="519.39" cy="417.81" r="0.94"/><circle cx="430.67" cy="395.29" r="0.66"/><circle cx="525.78" cy="421.79" r="0.75"/><circle cx="511.18" cy="423.63" r="0.74"/><circle cx="543.33" cy="441.33" r="0.7"/><circle cx="509.46" cy="428.81" r="1.2"/><circle cx="533.33" cy="411.73" r="1.28"/><circle cx="439.18" cy="421.1" r="1.11"/><circle cx="444.41" cy="426.21" r="0.53"/><circle cx="523.91" cy="446.05" r="0.96"/><circle cx="555.82" cy="413.59" r="1.06"/><circle cx="512.53" cy="432.75" r="0.86"/><circle cx="550.36" cy="459.02" r="0.88"/><circle cx="523.28" cy="395.37" r="1.06"/><circle cx="520.66" cy="462.5" r="1.16"/><circle cx="464.83" cy="418.78" r="1.03"/><circle cx="424.47" cy="424.24" r="0.63"/><circle cx="439.03" cy="395.24" r="1.11"/><circle cx="440.92" cy="408.83" r="0.81"/><circle cx="555.2" cy="396.8" r="0.86"/><circle cx="505.61" cy="454.6" r="1.16"/><circle cx="554.05" cy="411.05" r="0.83"/><circle cx="476.25" cy="454.66" r="1.27"/><circle cx="444.24" cy="403.69" r="0.69"/><circle cx="456.93" cy="425.92" r="0.97"/><circle cx="461.46" cy="391.29" r="0.84"/><circle cx="477.87" cy="431.78" r="1.26"/><circle cx="527.34" cy="428.12" r="0.99"/><circle cx="525.13" cy="394.89" r="1.22"/><circle cx="541.12" cy="453.96" r="1.14"/><circle cx="481.43" cy="419.73" r="0.58"/><circle cx="518.68" cy="395.48" r="0.55"/><circle cx="453.15" cy="402.69" r="0.77"/><circle cx="429.1" cy="391.02" r="0.62"/><circle cx="436.63" cy="417.18" r="0.52"/><circle cx="555.65" cy="435.21" r="0.62"/></g>
<text x="426.3" y="403.3" font-family="'Liberation Sans', Arial, sans-serif" font-weight="bold" font-size="12.1" fill="#fff">Initial</text>
<text x="556.5" y="453.2" text-anchor="middle" font-family="'Liberation Sans', Arial, sans-serif" font-weight="bold" font-size="9.1" fill="#fff">100µm</text>
<rect x="542.2" y="457.2" width="28.5" height="2.4" fill="#fff"/>
<rect x="419.3" y="471.1" width="158" height="76.2" fill="#58441a"/>
<rect x="419.3" y="471.1" width="158" height="76.2" filter="url(#nzB)"/>
<g clip-path="url(#cpF2)" fill="#4a1a08" opacity="0.85" filter="url(#bl1)"><ellipse cx="459.85" cy="498.01" rx="2.99" ry="0.8"/><ellipse cx="551.74" cy="544.5" rx="3.47" ry="1.09"/><ellipse cx="434.23" cy="480.36" rx="2.9" ry="0.83"/><ellipse cx="548.64" cy="484.62" rx="2.01" ry="0.75"/><ellipse cx="502.35" cy="483.56" rx="3.88" ry="0.98"/><ellipse cx="502.33" cy="543.45" rx="5.95" ry="2.03"/><ellipse cx="461.21" cy="499.4" rx="2.29" ry="0.8"/><ellipse cx="503.02" cy="529.09" rx="2.85" ry="0.79"/><ellipse cx="545.97" cy="543.91" rx="5.87" ry="2.08"/><ellipse cx="547.02" cy="526.27" rx="2.47" ry="0.78"/><ellipse cx="475.76" cy="475.09" rx="2.02" ry="0.58"/><ellipse cx="460.91" cy="522.86" rx="6.66" ry="2.05"/><ellipse cx="565.3" cy="544.14" rx="6.64" ry="1.98"/><ellipse cx="454.95" cy="489.33" rx="2.37" ry="0.66"/><ellipse cx="517.11" cy="537.82" rx="5.79" ry="1.81"/><ellipse cx="521.56" cy="530.57" rx="2.1" ry="0.7"/><ellipse cx="561.11" cy="529.33" rx="5.16" ry="1.61"/><ellipse cx="448.49" cy="529.82" rx="2.86" ry="1.01"/><ellipse cx="570.64" cy="501.5" rx="3.16" ry="1.18"/><ellipse cx="532.62" cy="485.24" rx="2.18" ry="0.59"/><ellipse cx="560.35" cy="531.07" rx="2.23" ry="0.8"/><ellipse cx="571.97" cy="520.32" rx="2.93" ry="0.94"/><ellipse cx="441.17" cy="474.03" rx="6.77" ry="2.26"/><ellipse cx="502.09" cy="540.22" rx="3.31" ry="1.2"/><ellipse cx="548.23" cy="488.2" rx="2.55" ry="0.73"/><ellipse cx="458.04" cy="515.22" rx="2.58" ry="0.78"/><ellipse cx="441.19" cy="538.52" rx="2.95" ry="0.91"/><ellipse cx="510.84" cy="538.11" rx="3.25" ry="1.2"/><ellipse cx="498.25" cy="511.29" rx="3.78" ry="0.95"/><ellipse cx="488.78" cy="486.18" rx="2" ry="0.71"/><ellipse cx="447.54" cy="507.09" rx="4.99" ry="1.61"/><ellipse cx="471.2" cy="510.32" rx="3.95" ry="1.39"/><ellipse cx="437.34" cy="513.34" rx="2.54" ry="0.73"/><ellipse cx="539.93" cy="509.56" rx="3.99" ry="1.39"/><ellipse cx="561.52" cy="504.91" rx="4.28" ry="1.35"/><ellipse cx="499.87" cy="522.88" rx="3.41" ry="1.09"/><ellipse cx="494.62" cy="540.79" rx="4.82" ry="1.75"/><ellipse cx="566.1" cy="491.69" rx="3.97" ry="1.48"/><ellipse cx="550.36" cy="482.87" rx="2.17" ry="0.67"/><ellipse cx="432.17" cy="490.33" rx="2.08" ry="0.7"/><ellipse cx="541.73" cy="537.59" rx="2.25" ry="0.77"/><ellipse cx="522.68" cy="483.29" rx="6.1" ry="2.29"/><ellipse cx="454.82" cy="541.58" rx="3.15" ry="0.99"/><ellipse cx="573.44" cy="532.94" rx="2.27" ry="0.69"/><ellipse cx="500.4" cy="497.42" rx="2.37" ry="0.69"/><ellipse cx="532.21" cy="474.4" rx="3.94" ry="1.21"/><ellipse cx="423.78" cy="496.87" rx="4.35" ry="1.38"/><ellipse cx="430.9" cy="543.93" rx="5.42" ry="2.04"/></g>
<g clip-path="url(#cpF2)"><path d="M437.14,492.12l-2.76,1.12M462.65,482.33l-0.47,1.65M547.12,491.62l-2.1,1.68M508.87,523.43l-2.46,-1.77M526.98,503.62l-2.57,1.75M518.7,530.72l-2.5,1.42M431.26,535.12l-0.28,-0.64M506.17,539.72l-1.39,-1.48M502.14,490.17l-2.34,-1.35M428.76,487.53l-1.13,-0.78M537.96,493.88l0,-1.29M474.44,474.31l-1.5,-1.94M533.89,512.68l-1.86,-0.1M564.93,480.65l1.91,-0.27M497.23,533.09l-0.64,0.03M526.91,543.74l-0.94,1.33M529.84,518.79l-0.57,-0.61M429.38,482.35l-2.58,0.96M460.36,484.75l-2.49,1.37M555.06,521.28l-1.31,-1.03M466.13,506.08l-2.05,-0.22M461.54,542.25l2.84,0.19M458.64,542.53l-1.14,-0.57M421.16,500.48l-0.15,0.01M451.95,509.34l-2.97,-0.94M434.82,501.76l-2.75,-1.91M467.85,489.76l0.51,0.12M536.58,520.34l1.3,1.52M480.99,496.48l2.91,-1.4M532.52,519.31l-2.74,1.34M558.36,518.17l1.4,1.25M442.45,510.71l0.03,1.34M544.92,532.5l0.5,1.57M526.17,522.92l-1.62,-1.88M441.5,498.97l-2.37,1.34M507.01,518.2l0.76,0.72M496.35,473.24l1.79,0.99M498.46,511.53l0.96,-1.74M534.47,491.16l-2.55,-0.94M533.32,487.78l1.44,1.9M497.07,500.54l-0.13,0.73M539.11,517.42l0.86,-1.69M443.7,491.28l1.46,-0.78M508.44,473.9l-2.64,-0.92M524.49,522.84l1.05,-0.84M500.55,506.46l-0.2,-1.53M558.62,487.35l2.87,1.75M423.7,506.05l1.92,1.87M490.22,492.34l-1.74,1.78M453.45,514.87l-2.15,0.1M567.72,482.55l1.92,0.03M557.58,523.64l-1.61,1.59M495.87,474.79l-2.98,-0.03M490.42,494.74l-2.16,-0.62M469.68,533.5l-2.99,1M550.22,481.64l2.56,0.85M559.84,493.87l-0.77,-0.43M574.81,515.42l-0.84,-0.29M463.37,476.48l-2.39,1.34M464.99,540.36l-1.5,-0.94M499.69,486.67l-0.76,1.82M557.18,531.46l0.79,1.65M565.87,512.54l1.32,-1.8M533.78,505.46l1.52,0.58M465.08,476.53l2.56,-1.49M493.72,497.74l-1.21,0.96M571.35,491.73l0.94,-0.8M506.83,501.39l-2,-1.35M453.01,538.23l-0.02,-1.12M560.56,544.75l-0.3,-1.44" stroke="#56a822" stroke-width="1" opacity="0.75" fill="none" filter="url(#bl1)"/></g>
<text x="427" y="486.4" font-family="'Liberation Sans', Arial, sans-serif" font-weight="bold" font-size="12.1" fill="#fff">100%</text>
<radialGradient id="df1" gradientUnits="userSpaceOnUse" cx="618.9" cy="427.2" r="40" gradientTransform="translate(618.9 427.2) scale(1 0.96) translate(-618.9 -427.2)"><stop offset="0" stop-color="#18189a"/><stop offset="0.28" stop-color="#1c22b0"/><stop offset="0.35" stop-color="#1e44c0"/><stop offset="0.39" stop-color="#22c040"/><stop offset="0.425" stop-color="#70d830"/><stop offset="0.46" stop-color="#ff5c5c"/><stop offset="0.672" stop-color="#ff5c5c"/><stop offset="0.715" stop-color="#b0dc30"/><stop offset="0.75" stop-color="#30d030"/><stop offset="0.8" stop-color="#26b850"/><stop offset="0.86" stop-color="#2270a8"/><stop offset="0.92" stop-color="#2440c4"/><stop offset="1" stop-color="#2636c8"/></radialGradient>
<rect x="581.7" y="389.4" width="76.4" height="76.7" fill="#2636c8"/>
<rect x="581.7" y="389.4" width="76.4" height="76.7" fill="url(#df1)"/>
<circle cx="618.9" cy="427.2" r="1" fill="#ffe0d8"/>
<rect x="581.7" y="470.7" width="76.4" height="76.8" fill="#2636c8"/>
<radialGradient id="df2" gradientUnits="userSpaceOnUse" cx="618.9" cy="508.6" r="40" gradientTransform="translate(618.9 508.6) scale(1 0.86) translate(-618.9 -508.6)"><stop offset="0" stop-color="#2cd030"/><stop offset="0.66" stop-color="#2cd030"/><stop offset="0.76" stop-color="#28c044"/><stop offset="0.84" stop-color="#22909a"/><stop offset="0.92" stop-color="#2448c4"/><stop offset="1" stop-color="#2636c8"/></radialGradient>
<rect x="581.7" y="470.7" width="76.4" height="76.8" fill="url(#df2)"/>
<radialGradient id="df3" gradientUnits="userSpaceOnUse" cx="618.9" cy="508.6" r="24.5" gradientTransform="translate(618.9 508.6) scale(0.72 1) translate(-618.9 -508.6)"><stop offset="0" stop-color="#18189a"/><stop offset="0.55" stop-color="#1c22b0"/><stop offset="0.75" stop-color="#1e44c0"/><stop offset="0.84" stop-color="#22b050"/><stop offset="0.91" stop-color="#2cd030"/><stop offset="1" stop-color="#2cd030" stop-opacity="0"/></radialGradient>
<g clip-path="url(#cpF4)"><g filter="url(#bl2)"><rect x="590.9" y="492.4" width="56" height="32.4" rx="16" ry="16.2" fill="#ff5c5c"/></g></g>
<ellipse cx="618.9" cy="508.6" rx="17.7" ry="24.5" fill="url(#df3)"/>
<path d="M618.9,495V522.6" stroke="#fff" stroke-width="1.2" fill="none"/>
<path d="M618.9,491 L621.2,496.3 L616.6,496.3Z M618.9,526.8 L621.2,521.5 L616.6,521.5Z" fill="#fff"/>
<circle cx="618.9" cy="508.6" r="0.7" fill="#ffd0c0"/>
<g font-family="'Liberation Sans', Arial, sans-serif" font-weight="bold" font-size="18.6" fill="#000">
<text x="13.6" y="29.8">a</text>
<text x="13.2" y="224.6">b</text>
<text x="397.6" y="224.4">c</text>
<text x="13.2" y="391.8">d</text>
<text x="213" y="391.8">e</text>
<text x="399" y="391.6">f</text>
<text x="13.3" y="569.5">g</text>
<text x="234.8" y="572">h</text>
<text x="459.2" y="573.5">i</text>
</g>
</svg>
</body></html>
